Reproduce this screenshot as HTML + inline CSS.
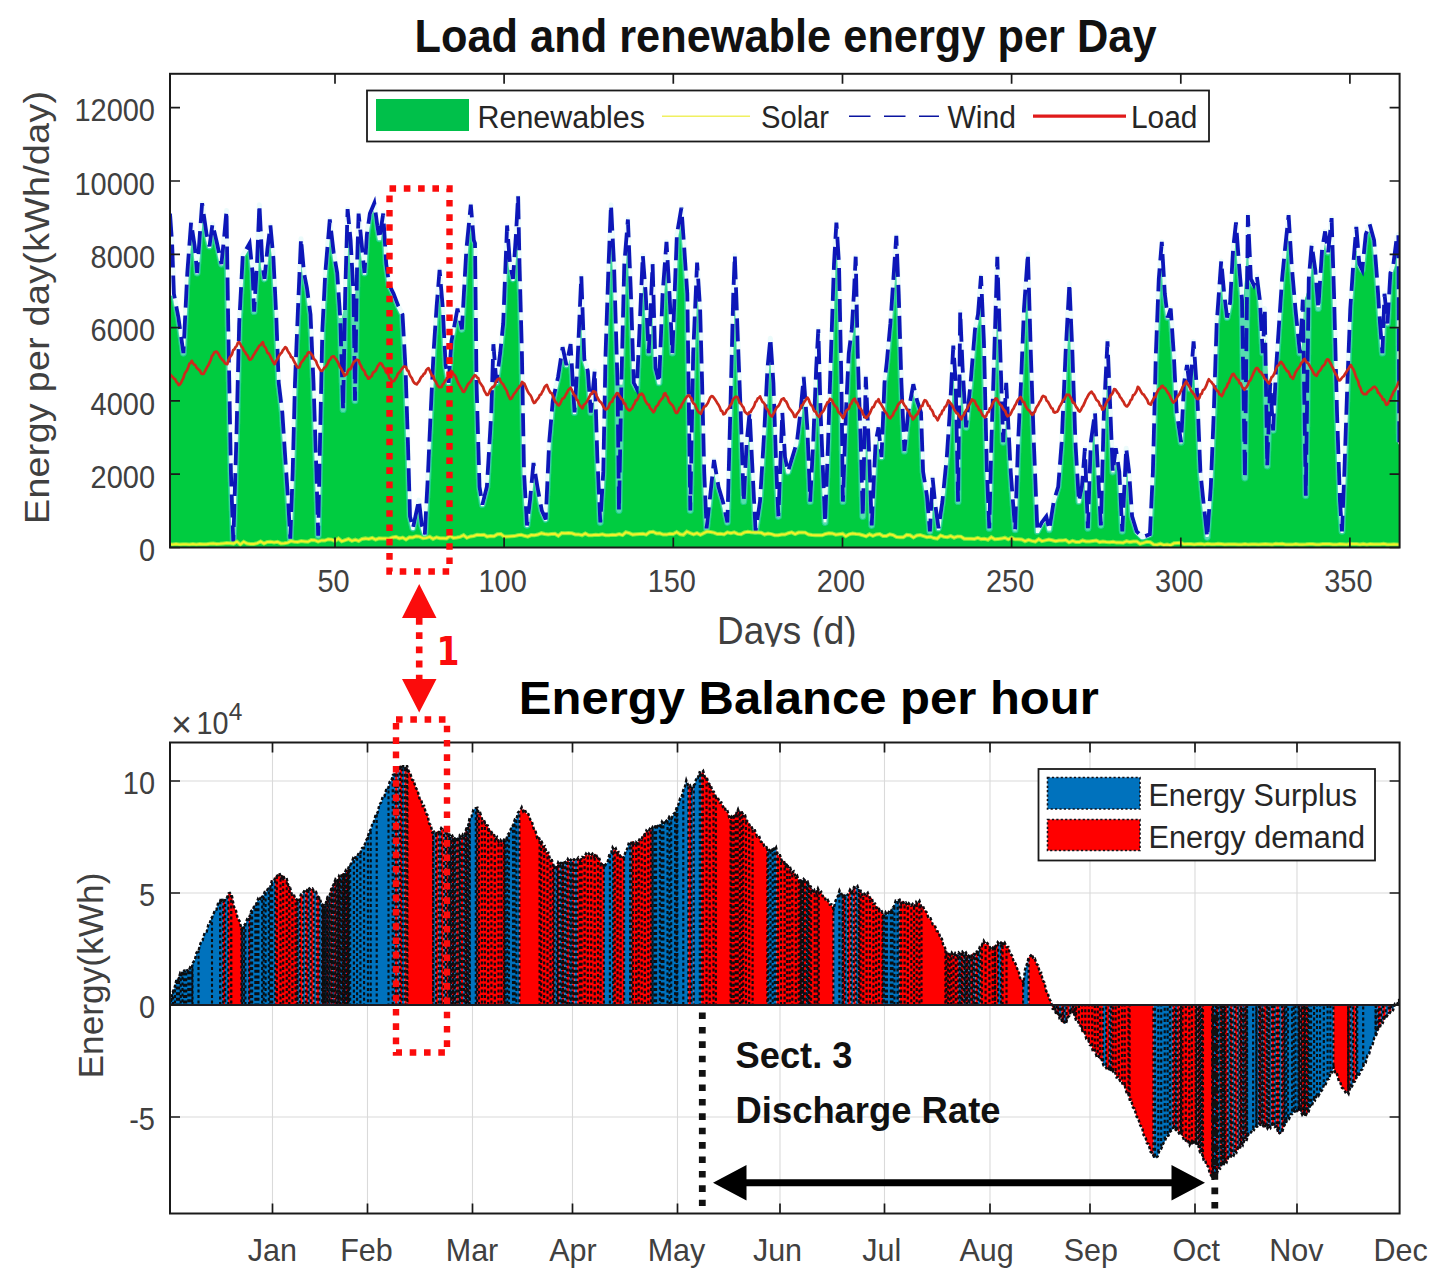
<!DOCTYPE html>
<html lang="en"><head><meta charset="utf-8"><title>Load and renewable energy per Day</title>
<style>html,body{margin:0;padding:0;background:#fff}body{width:1439px;height:1280px;overflow:hidden}svg{display:block}</style>
</head><body>
<svg width="1439" height="1280" viewBox="0 0 1439 1280">
<rect width="1439" height="1280" fill="#fff"/>
<defs><clipPath id="ct"><rect x="170" y="73.8" width="1229.6" height="473.7"/></clipPath>
<clipPath id="cb"><rect x="170" y="742.5" width="1229.6" height="471"/></clipPath>
<clipPath id="cd"><rect x="600" y="600" width="400" height="46.8"/></clipPath>
<filter id="bl" x="0" y="0" width="1" height="1" filterUnits="objectBoundingBox"><feGaussianBlur stdDeviation="0.75"/></filter></defs>
<g clip-path="url(#ct)"><g filter="url(#bl)">
<clipPath id="cg"><polygon points="170,547.5 170,295.8 170.5,295.8 171,295.8 171.5,295.8 172,295.8 172.5,296.3 173,298.9 173.5,301.6 174,304.3 174.5,306.9 175,309.6 175.5,312.3 176,314.9 176.5,317.6 177,320.5 177.5,324 178,327.6 178.5,331.1 179,334.6 179.5,338.1 180,341.7 180.5,345.2 181,348.7 181.5,352.3 182,353.2 182.5,353.2 183,353.2 183.5,353.2 184,353.2 184.5,353.2 185,353.2 185.5,342.9 186,332.5 186.5,322.1 187,311.7 187.5,301.3 188,290.9 188.5,280.6 189,272 189.5,265.4 190,258.9 190.5,252.3 191,245.8 191.5,239.3 192,240.3 192.5,243.7 193,247 193.5,251.7 194,257.4 194.5,263 195,268.6 195.5,274.2 196,274.2 196.5,274.2 197,274.2 197.5,274.2 198,274.2 198.5,274.2 199,269 199.5,262.1 200,255.2 200.5,248.3 201,241.3 201.5,234.4 202,227.5 202.5,220.6 203,221.9 203.5,225.4 204,228.9 204.5,232.4 205,235.9 205.5,238.1 206,240.1 206.5,242.1 207,244.1 207.5,246.1 208,248.1 208.5,248.1 209,248.1 209.5,248.1 210,248.1 210.5,248.1 211,248.1 211.5,244.8 212,241 212.5,237.3 213,234.6 213.5,236.8 214,239 214.5,241.1 215,243.3 215.5,245.5 216,247.8 216.5,250.1 217,252.5 217.5,254.8 218,257.1 218.5,259.5 219,261.8 219.5,264.1 220,265.2 220.5,265.2 221,265.2 221.5,265.2 222,265.2 222.5,265.2 223,265.2 223.5,260.2 224,255.2 224.5,250.2 225,245.2 225.5,246.8 226,278.4 226.5,310.1 227,339.8 227.5,367.6 228,395.3 228.5,423.1 229,450.9 229.5,476.4 230,491.1 230.5,505.8 231,520.5 231.5,535.2 232,536.6 232.5,536.6 233,536.6 233.5,536.6 234,536.6 234.5,536.6 235,536.6 235.5,519.9 236,503.1 236.5,486.4 237,469.6 237.5,452.9 238,434.6 238.5,414.6 239,394.6 239.5,374.6 240,354.6 240.5,334.6 241,320.2 241.5,310.7 242,301.1 242.5,291.5 243,281.9 243.5,272.3 244,262.7 244.5,256.8 245,255.9 245.5,255.1 246,254.2 246.5,253.3 247,252.5 247.5,251.6 248,250.7 248.5,249.8 249,254.1 249.5,259.1 250,264.1 250.5,269.1 251,274.1 251.5,285.7 252,298.7 252.5,311.7 253,311.7 253.5,311.7 254,311.7 254.5,311.7 255,311.7 255.5,311.7 256,306.8 256.5,298.8 257,290.8 257.5,282.8 258,274.8 258.5,266.8 259,254.6 259.5,242.1 260,248.3 260.5,258.3 261,266.9 261.5,270.5 262,274 262.5,277.6 263,280.6 263.5,280.6 264,280.6 264.5,280.6 265,280.6 265.5,280.6 266,280.6 266.5,275.6 267,270.6 267.5,265.6 268,260.6 268.5,255.6 269,250.7 269.5,246.7 270,242.7 270.5,245 271,250.5 271.5,256 272,262.7 272.5,272.7 273,282.7 273.5,292.7 274,302.7 274.5,312.7 275,323.9 275.5,337.6 276,351.4 276.5,365.1 277,378.9 277.5,387.2 278,391.4 278.5,395.5 279,399.7 279.5,403.9 280,408 280.5,412.2 281,417.8 281.5,425.3 282,432.8 282.5,440.3 283,447.8 283.5,455.3 284,462.8 284.5,470.3 285,477.8 285.5,485.3 286,492.8 286.5,500.3 287,508.6 287.5,517.6 288,526.5 288.5,535.4 289,535.4 289.5,535.4 290,535.4 290.5,535.4 291,535.4 291.5,535.4 292,535 292.5,520.9 293,506.9 293.5,492.8 294,478.8 294.5,461.6 295,442.9 295.5,424.1 296,405.4 296.5,386.6 297,373.5 297.5,361 298,348.5 298.5,336 299,323.5 299.5,311 300,299.3 300.5,287.5 301,275.8 301.5,264 302,269.7 302.5,275.2 303,277.7 303.5,280.2 304,282.7 304.5,285.2 305,287.7 305.5,290.4 306,294.1 306.5,297.9 307,301.6 307.5,305.4 308,309.1 308.5,312.9 309,316.8 309.5,328.3 310,339.8 310.5,351.3 311,362.8 311.5,374.3 312,386.2 312.5,401.2 313,416.2 313.5,431.2 314,446.2 314.5,461.2 315,476.6 315.5,494.5 316,512.4 316.5,530.3 317,530.3 317.5,530.3 318,530.3 318.5,530.3 319,530.3 319.5,530.3 320,522.3 320.5,496.1 321,469.8 321.5,443.7 322,419.9 322.5,396.2 323,372.4 323.5,348.7 324,328.8 324.5,319.3 325,309.8 325.5,300.3 326,290.8 326.5,281.3 327,273 327.5,267 328,261 328.5,255 329,249 329.5,243 330,237 330.5,240.3 331,244.5 331.5,248.7 332,253 332.5,256.3 333,259.2 333.5,262.1 334,265 334.5,267.9 335,270.8 335.5,273.8 336,279.3 336.5,286.8 337,294.3 337.5,301.8 338,309.3 338.5,316.8 339,318 339.5,318 340,318 340.5,318 341,318 341.5,318 342,318 342.5,315.7 343,313.3 343.5,310.9 344,308.6 344.5,306.2 345,303.9 345.5,301.5 346,299.2 346.5,296.8 347,286 347.5,268.2 348,250.4 348.5,236.3 349,241.6 349.5,250.1 350,259.1 350.5,268.1 351,277.1 351.5,286.1 352,295.1 352.5,295.1 353,295.1 353.5,295.1 354,295.1 354.5,295.1 355,295.1 355.5,291.9 356,287.8 356.5,283.6 357,279.4 357.5,275.3 358,271.1 358.5,266.9 359,252.5 359.5,239.7 360,244.7 360.5,249.7 361,254.7 361.5,259.7 362,264.7 362.5,269.7 363,274.7 363.5,274.7 364,274.7 364.5,274.7 365,274.7 365.5,274.7 366,274.7 366.5,267.3 367,259.1 367.5,251 368,242.9 368.5,235.7 369,232.2 369.5,228.7 370,225.2 370.5,221.7 371,218.2 371.5,215.3 372,214.1 372.5,213 373,211.8 373.5,210.6 374,214 374.5,217.8 375,221.5 375.5,225.3 376,228.8 376.5,232 377,235.2 377.5,238.5 378,240 378.5,240 379,240 379.5,240 380,240 380.5,240 381,240 381.5,236.7 382,233.5 382.5,230.2 383,237.2 383.5,245.7 384,254.2 384.5,262.7 385,268.2 385.5,271.7 386,275.2 386.5,278.7 387,282.2 387.5,285.7 388,287.5 388.5,288.5 389,289.5 389.5,290.5 390,291.5 390.5,292.5 391,293.5 391.5,294.5 392,295.5 392.5,296.8 393,298.1 393.5,299.4 394,300.8 394.5,302.1 395,303.4 395.5,304.8 396,306.1 396.5,307.4 397,308.5 397.5,309.5 398,310.5 398.5,311.5 399,312.5 399.5,313.5 400,314.5 400.5,315.5 401,316.5 401.5,325 402,334 402.5,343 403,352 403.5,361 404,370 404.5,385.7 405,401.3 405.5,416.9 406,432.5 406.5,448.7 407,466.6 407.5,484.4 408,502.3 408.5,518.6 409,520.6 409.5,522.6 410,524.6 410.5,526.6 411,528.6 411.5,530 412,530 412.5,530 413,530 413.5,530 414,530 414.5,530 415,527.6 415.5,525.2 416,522.8 416.5,520.5 417,518.1 417.5,515.7 418,513.3 418.5,511.8 419,516.1 419.5,520.3 420,524.6 420.5,527.9 421,529.4 421.5,530.9 422,532.4 422.5,533.9 423,535.4 423.5,535.4 424,535.4 424.5,535.4 425,535.4 425.5,535.4 426,535.4 426.5,532.4 427,522.9 427.5,513.4 428,503.9 428.5,494.4 429,484.9 429.5,474.7 430,463.7 430.5,452.7 431,441.7 431.5,430.7 432,419.7 432.5,409 433,398.5 433.5,388 434,377.5 434.5,367 435,356.5 435.5,347.8 436,340.3 436.5,332.8 437,325.3 437.5,317.8 438,310.3 438.5,303.7 439,297.7 439.5,291.7 440,294.3 440.5,300.3 441,306.3 441.5,315.4 442,325.4 442.5,335.4 443,345.4 443.5,355.4 444,365.4 444.5,369.5 445,372.5 445.5,375.5 446,378.5 446.5,381.5 447,384.5 447.5,384.5 448,384.5 448.5,384.5 449,384.5 449.5,384.5 450,384.5 450.5,378.6 451,371.6 451.5,364.6 452,357.6 452.5,350.6 453,343.6 453.5,340.6 454,337.9 454.5,335.1 455,332.4 455.5,329.6 456,326.9 456.5,324.1 457,321.4 457.5,318.6 458,320.1 458.5,322.5 459,324.8 459.5,327.1 460,329.5 460.5,329.8 461,329.8 461.5,329.8 462,329.8 462.5,329.8 463,329.8 463.5,329.8 464,320.8 464.5,311.8 465,302.8 465.5,293.8 466,284.8 466.5,275.8 467,266.8 467.5,257.8 468,249.9 468.5,244.9 469,239.9 469.5,234.9 470,229.9 470.5,224.9 471,226.9 471.5,232.9 472,238.9 472.5,242.8 473,244.1 473.5,245.3 474,292.3 474.5,339.3 475,385.4 475.5,402.9 476,420.4 476.5,437.9 477,455.4 477.5,472.9 478,489 478.5,492 479,495 479.5,498 480,501 480.5,504 481,506.3 481.5,506.3 482,506.3 482.5,506.3 483,506.3 483.5,506.3 484,506.3 484.5,504.3 485,502.3 485.5,500.3 486,498.3 486.5,496.3 487,494.3 487.5,492.3 488,490.3 488.5,486.7 489,478.4 489.5,470 490,461.7 490.5,453.4 491,445 491.5,436.7 492,428.4 492.5,420 493,408.9 493.5,392.5 494,376.1 494.5,379.9 495,383.9 495.5,383.9 496,383.9 496.5,383.9 497,383.9 497.5,383.9 498,383.9 498.5,380.1 499,376.2 499.5,372.4 500,368.5 500.5,364.7 501,360.8 501.5,357 502,352.5 502.5,347.5 503,342.5 503.5,337.5 504,332.5 504.5,327.5 505,318 505.5,305.3 506,292.6 506.5,279.9 507,267.2 507.5,254.5 508,259.1 508.5,265.6 509,268.4 509.5,270.9 510,273.4 510.5,275.9 511,278.4 511.5,280.9 512,280.9 512.5,280.9 513,280.9 513.5,280.9 514,280.9 514.5,280.9 515,273.5 515.5,266 516,258.5 516.5,251 517,243.5 517.5,241.4 518,264.4 518.5,283.4 519,302.2 519.5,320.9 520,339.7 520.5,360.2 521,388.7 521.5,417.3 522,445.9 522.5,474.1 523,483.1 523.5,492.1 524,501.1 524.5,510.1 525,519.1 525.5,527 526,527 526.5,527 527,527 527.5,527 528,527 528.5,527 529,523 529.5,519 530,515 530.5,511 531,507 531.5,502.8 532,497.4 532.5,492 533,486.6 533.5,481.2 534,477.4 534.5,480.4 535,483.5 535.5,486.6 536,489.5 536.5,492.2 537,494.9 537.5,497.5 538,500.2 538.5,502.9 539,505.5 539.5,508.2 540,510.9 540.5,513 541,514.1 541.5,515.3 542,516.4 542.5,517.6 543,518.7 543.5,519.9 544,521 544.5,521 545,521 545.5,521 546,521 546.5,521 547,521 547.5,514.2 548,503.3 548.5,492.5 549,481.7 549.5,470.8 550,460 550.5,449.2 551,441 551.5,435.2 552,429.4 552.5,423.5 553,417.7 553.5,411.9 554,406 554.5,401.7 555,399.5 555.5,397.3 556,395.1 556.5,392.8 557,390.6 557.5,388.4 558,386.2 558.5,383.9 559,381.7 559.5,379.5 560,376.5 560.5,373.1 561,369.8 561.5,366.5 562,363.1 562.5,359.8 563,358 563.5,360.3 564,362.6 564.5,365 565,366.8 565.5,366.8 566,366.8 566.5,366.8 567,366.8 567.5,366.8 568,366.8 568.5,364.3 569,361.8 569.5,359.3 570,362.1 570.5,370.9 571,379.8 571.5,388.6 572,397.4 572.5,406.3 573,414 573.5,414 574,414 574.5,414 575,414 575.5,414 576,414 576.5,406 577,398 577.5,390 578,382 578.5,374 579,365.5 579.5,354 580,342.4 580.5,330.9 581,319.4 581.5,325.7 582,339.7 582.5,353.7 583,361.9 583.5,363.5 584,365.2 584.5,366.9 585,368.5 585.5,370.2 586,371.9 586.5,375.4 587,382.4 587.5,389.4 588,396.4 588.5,403.4 589,410.4 589.5,412.3 590,412.3 590.5,412.3 591,412.3 591.5,412.3 592,412.3 592.5,412.3 593,406.9 593.5,401.6 594,400.2 594.5,416.3 595,432.4 595.5,448.5 596,462.9 596.5,473.9 597,484.9 597.5,495.9 598,506.9 598.5,517.9 599,520.9 599.5,520.9 600,520.9 600.5,520.9 601,520.9 601.5,520.9 602,520.9 602.5,512.4 603,503.9 603.5,495.4 604,486.9 604.5,478.4 605,462.2 605.5,437.2 606,412.2 606.5,387.2 607,362.2 607.5,344.4 608,329.4 608.5,314.4 609,299.4 609.5,284.4 610,269.4 610.5,256.3 611,243.8 611.5,247 612,257 612.5,267.6 613,284.2 613.5,300.9 614,317.6 614.5,334.2 615,350.9 615.5,367.6 616,384.2 616.5,384.8 617,384.8 617.5,384.8 618,384.8 618.5,384.8 619,384.8 619.5,384.8 620,384.8 620.5,384.8 621,384.8 621.5,384.8 622,384.8 622.5,384.8 623,379.9 623.5,359.9 624,339.9 624.5,319.9 625,299.9 625.5,279.9 626,264.2 626.5,257.9 627,251.7 627.5,248.8 628,261.3 628.5,273.8 629,286.3 629.5,299.4 630,314.4 630.5,329.4 631,344.4 631.5,359.4 632,374.4 632.5,385.1 633,386.1 633.5,387.1 634,388.1 634.5,389.1 635,390.1 635.5,390.1 636,390.1 636.5,390.1 637,390.1 637.5,390.1 638,390.1 638.5,386.8 639,375.8 639.5,364.8 640,353.8 640.5,342.8 641,331.8 641.5,320.5 642,309 642.5,297.5 643,286 643.5,286.3 644,292.8 644.5,301.3 645,311.3 645.5,321.3 646,331.3 646.5,341.3 647,351.3 647.5,351.3 648,351.3 648.5,351.3 649,351.3 649.5,351.3 650,351.3 650.5,348.1 651,336.5 651.5,325 652,313.5 652.5,316.7 653,334.2 653.5,351.7 654,369.2 654.5,372 655,374.1 655.5,376.1 656,378.2 656.5,380.3 657,382.4 657.5,384.5 658,384.5 658.5,384.5 659,384.5 659.5,384.5 660,384.5 660.5,384.5 661,374.5 661.5,362 662,349.5 662.5,337 663,324.5 663.5,312 664,299.5 664.5,291 665,284.3 665.5,277.6 666,270.8 666.5,269.9 667,278.7 667.5,287.4 668,296.2 668.5,306.2 669,316.2 669.5,326.2 670,336.2 670.5,346.2 671,353.7 671.5,353.7 672,353.7 672.5,353.7 673,353.7 673.5,353.7 674,353.7 674.5,340.4 675,327.1 675.5,313.7 676,300.4 676.5,287.1 677,273.7 677.5,260.4 678,247.1 678.5,235.8 679,232.8 679.5,229.8 680,226.8 680.5,223.8 681,225.7 681.5,232.7 682,239.7 682.5,246.7 683,253.9 683.5,261.4 684,268.9 684.5,276.4 685,283.9 685.5,291.4 686,310.9 686.5,347.4 687,383.9 687.5,420.4 688,456.9 688.5,493.4 689,499.9 689.5,499.9 690,499.9 690.5,499.9 691,499.9 691.5,499.9 692,499.9 692.5,473.4 693,446.9 693.5,420.4 694,393.9 694.5,367.4 695,348.8 695.5,337.1 696,325.4 696.5,313.6 697,301.9 697.5,294.2 698,301.9 698.5,309.7 699,326.3 699.5,344.2 700,362.1 700.5,379.9 701,400.4 701.5,421.8 702,443.2 702.5,464.6 703,480.7 703.5,492.5 704,504.4 704.5,516.3 705,528.2 705.5,528.2 706,528.2 706.5,528.2 707,528.2 707.5,528.2 708,528.2 708.5,526.6 709,522.1 709.5,517.6 710,513.1 710.5,508.6 711,504.1 711.5,499.5 712,494.8 712.5,490.2 713,485.5 713.5,480.8 714,476.2 714.5,474 715,477 715.5,480 716,483 716.5,486 717,488.9 717.5,490.5 718,492.2 718.5,493.9 719,495.5 719.5,497.2 720,498.9 720.5,500.5 721,502.2 721.5,504 722,506.3 722.5,508.6 723,511 723.5,513.3 724,515.6 724.5,518 725,520.3 725.5,522.6 726,522.6 726.5,522.6 727,522.6 727.5,522.6 728,522.6 728.5,522.6 729,519.8 729.5,501.3 730,482.8 730.5,464.3 731,445.8 731.5,427.3 732,408.3 732.5,388.3 733,368.3 733.5,348.3 734,328.3 734.5,308.3 735,304.8 735.5,318.8 736,332.8 736.5,346.1 737,358.6 737.5,371.1 738,383.6 738.5,396.1 739,408.6 739.5,422.4 740,437.4 740.5,452.4 741,467.4 741.5,482.4 742,497.4 742.5,497.7 743,497.7 743.5,497.7 744,497.7 744.5,497.7 745,497.7 745.5,497.7 746,487.7 746.5,477.7 747,467.7 747.5,457.7 748,447.7 748.5,441 749,436 749.5,441.7 750,451.7 750.5,461.7 751,471.7 751.5,481.7 752,491.7 752.5,501.7 753,511.7 753.5,521.7 754,531.7 754.5,531.7 755,531.7 755.5,531.7 756,531.7 756.5,531.7 757,531.7 757.5,530.5 758,527.2 758.5,523.8 759,520.5 759.5,517.2 760,513.8 760.5,510.5 761,507.2 761.5,503.8 762,495.9 762.5,487.5 763,479.2 763.5,470.9 764,462.5 764.5,454.2 765,445.9 765.5,437.5 766,429.2 766.5,419.2 767,409.2 767.5,399.2 768,389.2 768.5,379.2 769,369.6 769.5,364.6 770,359.6 770.5,363.9 771,371.4 771.5,378.9 772,387.9 772.5,402.9 773,417.9 773.5,432.9 774,447.9 774.5,462.9 775,476.8 775.5,487.5 776,498.2 776.5,508.9 777,516.9 777.5,516.9 778,516.9 778.5,516.9 779,516.9 779.5,516.9 780,516.9 780.5,503.5 781,490 781.5,476.6 782,463.1 782.5,449.6 783,450.8 783.5,459.1 784,461.6 784.5,464.1 785,466.6 785.5,469.1 786,471.6 786.5,473.8 787,473.8 787.5,473.8 788,473.8 788.5,473.8 789,473.8 789.5,473.8 790,472.1 790.5,470.5 791,468.8 791.5,467.1 792,465.5 792.5,463.8 793,462.1 793.5,460.5 794,458.8 794.5,457.1 795,455.5 795.5,453.8 796,452.1 796.5,450.5 797,448.8 797.5,447.1 798,445.5 798.5,443.2 799,439 799.5,434.9 800,430.7 800.5,426.5 801,422.4 801.5,418.2 802,413.9 802.5,408.4 803,403 803.5,397.5 804,404.3 804.5,411.4 805,418.5 805.5,425.6 806,435.2 806.5,447.7 807,460.2 807.5,472.7 808,485.2 808.5,497.7 809,498.4 809.5,498.4 810,498.4 810.5,498.4 811,498.4 811.5,498.4 812,498.4 812.5,488.4 813,478.4 813.5,468.4 814,458.4 814.5,448.4 815,436.9 815.5,424.4 816,411.9 816.5,399.4 817,386.9 817.5,374.4 818,375 818.5,392.5 819,410 819.5,423.8 820,436.3 820.5,448.8 821,461.3 821.5,473.8 822,485.9 822.5,498.1 823,510.2 823.5,522.4 824,522.4 824.5,522.4 825,522.4 825.5,522.4 826,522.4 826.5,522.4 827,513.1 827.5,499.6 828,486.1 828.5,472.6 829,459.1 829.5,445.6 830,430.8 830.5,415.8 831,400.8 831.5,385.8 832,370.8 832.5,355.8 833,340.8 833.5,325.8 834,310.8 834.5,295.8 835,280.8 835.5,265.9 836,257.2 836.5,249.9 837,257.7 837.5,265.5 838,289.2 838.5,314.2 839,339.2 839.5,364.2 840,391.8 840.5,431.8 841,471.8 841.5,500.5 842,500.5 842.5,500.5 843,500.5 843.5,500.5 844,500.5 844.5,500.5 845,485.5 845.5,470.5 846,455.5 846.5,440.5 847,425.5 847.5,411.9 848,401.9 848.5,391.9 849,381.9 849.5,371.9 850,361.9 850.5,353.8 851,349.8 851.5,345.8 852,341.8 852.5,337.8 853,333.8 853.5,328.1 854,319.5 854.5,310.9 855,302.3 855.5,320.6 856,343.8 856.5,362.8 857,377.8 857.5,392.8 858,407.8 858.5,422.8 859,437.8 859.5,454.5 860,472.3 860.5,490.2 861,508.1 861.5,508.6 862,508.6 862.5,508.6 863,508.6 863.5,508.6 864,508.6 864.5,508.6 865,485.1 865.5,461.6 866,438.1 866.5,428.2 867,439.2 867.5,451.8 868,465.8 868.5,479.8 869,493.8 869.5,507.8 870,521.8 870.5,521.8 871,521.8 871.5,521.8 872,521.8 872.5,521.8 873,521.8 873.5,520.9 874,510.1 874.5,499.3 875,488.6 875.5,477.8 876,467 876.5,456.2 877,445.5 877.5,442 878,439.5 878.5,444.1 879,449.1 879.5,454.1 880,459 880.5,459 881,459 881.5,459 882,459 882.5,459 883,459 883.5,446.5 884,434 884.5,421.5 885,409 885.5,396.5 886,384.5 886.5,380.2 887,375.8 887.5,371.4 888,367 888.5,362.3 889,356.9 889.5,351.5 890,346.1 890.5,340.7 891,335.2 891.5,329.8 892,324 892.5,316.5 893,309 893.5,301.5 894,294 894.5,286.5 895,279.1 895.5,271.8 896,266.1 896.5,278.3 897,290.5 897.5,305.2 898,321.9 898.5,338.5 899,355.2 899.5,371.9 900,387.4 900.5,398.9 901,410.4 901.5,421.9 902,433.4 902.5,444.9 903,451.7 903.5,451.7 904,451.7 904.5,451.7 905,451.7 905.5,451.7 906,451.7 906.5,446.7 907,441.7 907.5,436.7 908,431.7 908.5,426.7 909,421.7 909.5,416.7 910,413 910.5,410.2 911,407.4 911.5,404.6 912,401.8 912.5,399 913,396.2 913.5,393.7 914,395.8 914.5,397.9 915,400 915.5,402.1 916,403.8 916.5,405.3 917,406.9 917.5,408.4 918,410 918.5,411.5 919,413 919.5,414.9 920,429.2 920.5,443.5 921,457.8 921.5,472.1 922,476.6 922.5,479.7 923,482.7 923.5,485.8 924,488.9 924.5,492 925,495.1 925.5,498.6 926,504.6 926.5,510.6 927,516.6 927.5,522.6 928,528.6 928.5,531.2 929,531.2 929.5,531.2 930,531.2 930.5,531.2 931,531.2 931.5,531.2 932,521.2 932.5,511.2 933,501.2 933.5,504 934,507.8 934.5,511.5 935,515.3 935.5,519 936,522.8 936.5,526.5 937,530.3 937.5,530.3 938,530.3 938.5,530.3 939,530.3 939.5,530.3 940,530.3 940.5,526.9 941,523.4 941.5,520 942,516.5 942.5,513 943,509.6 943.5,506.1 944,502.2 944.5,497.2 945,492.2 945.5,487.2 946,482.2 946.5,477.2 947,472.2 947.5,467.2 948,462.2 948.5,456.3 949,448.8 949.5,441.3 950,433.8 950.5,426.3 951,418.8 951.5,410.5 952,401.1 952.5,391.8 953,382.4 953.5,373.5 954,381.3 954.5,398.6 955,423.6 955.5,448.6 956,473.6 956.5,498.6 957,498.6 957.5,498.6 958,498.6 958.5,498.6 959,498.6 959.5,498.6 960,467 960.5,421.3 961,375.6 961.5,377.4 962,385.8 962.5,394.1 963,402.4 963.5,410.8 964,419.1 964.5,427.4 965,427.4 965.5,427.4 966,427.4 966.5,427.4 967,427.4 967.5,427.4 968,425.5 968.5,420.5 969,415.5 969.5,410.5 970,405.5 970.5,400.5 971,395.5 971.5,390.5 972,385.5 972.5,379.7 973,373.7 973.5,367.7 974,361.7 974.5,355.7 975,349.7 975.5,343.7 976,337.7 976.5,331.7 977,329 977.5,326.5 978,324 978.5,321.5 979,319 979.5,316.5 980,310 980.5,303.5 981,311.8 981.5,322.8 982,333.8 982.5,346.3 983,368.3 983.5,390.3 984,412.3 984.5,434.3 985,456.3 985.5,476.3 986,488.2 986.5,500 987,511.9 987.5,523.8 988,523.8 988.5,523.8 989,523.8 989.5,523.8 990,523.8 990.5,523.8 991,521 991.5,500.3 992,479.6 992.5,458.9 993,439.8 993.5,424.8 994,409.8 994.5,394.8 995,379.8 995.5,364.8 996,349.4 996.5,333.1 997,316.9 997.5,314.2 998,330.4 998.5,346.7 999,362.3 999.5,377.3 1000,392.3 1000.5,407.3 1001,422.3 1001.5,437.3 1002,438.8 1002.5,438.8 1003,438.8 1003.5,438.8 1004,438.8 1004.5,438.8 1005,438.8 1005.5,428.8 1006,418.8 1006.5,420.8 1007,430.8 1007.5,440.8 1008,450.8 1008.5,460.8 1009,470.8 1009.5,478.4 1010,484.9 1010.5,491.4 1011,497.9 1011.5,504.4 1012,510.9 1012.5,517.4 1013,523.9 1013.5,530.4 1014,530.4 1014.5,530.4 1015,530.4 1015.5,530.4 1016,530.4 1016.5,530.4 1017,520.2 1017.5,505.5 1018,490.7 1018.5,476 1019,461.2 1019.5,446.5 1020,435.7 1020.5,425.7 1021,415.7 1021.5,405.7 1022,395.7 1022.5,385.7 1023,373.5 1023.5,361 1024,348.5 1024.5,336 1025,323.5 1025.5,311 1026,303.7 1026.5,296.6 1027,289.5 1027.5,293.4 1028,310.1 1028.5,326.9 1029,343.6 1029.5,359.9 1030,374.9 1030.5,389.9 1031,404.9 1031.5,419.9 1032,434.9 1032.5,448.9 1033,461.4 1033.5,473.9 1034,486.4 1034.5,498.9 1035,511.4 1035.5,523.9 1036,533 1036.5,533 1037,533 1037.5,533 1038,533 1038.5,533 1039,533 1039.5,532 1040,531 1040.5,530 1041,529 1041.5,528 1042,527 1042.5,526 1043,525 1043.5,524.2 1044,523.5 1044.5,522.8 1045,522.2 1045.5,521.7 1046,523.9 1046.5,526.2 1047,528.4 1047.5,530.7 1048,530.7 1048.5,530.7 1049,530.7 1049.5,530.7 1050,530.7 1050.5,530.7 1051,530.2 1051.5,527.1 1052,523.9 1052.5,520.7 1053,517.6 1053.5,514.4 1054,511.2 1054.5,508.1 1055,504.9 1055.5,502.6 1056,501 1056.5,499.3 1057,497.6 1057.5,496 1058,494.3 1058.5,492.6 1059,491 1059.5,489.3 1060,484.5 1060.5,478.2 1061,472 1061.5,465.7 1062,459.5 1062.5,453.2 1063,447 1063.5,437.8 1064,426.3 1064.5,414.7 1065,403.2 1065.5,391.7 1066,380.1 1066.5,368.6 1067,357 1067.5,347.6 1068,338.6 1068.5,329.5 1069,320.5 1069.5,322 1070,333.7 1070.5,345.5 1071,357.8 1071.5,372.8 1072,387.8 1072.5,402.8 1073,417.8 1073.5,432.8 1074,446.2 1074.5,454.6 1075,462.9 1075.5,471.2 1076,479.6 1076.5,487.9 1077,496.2 1077.5,503.3 1078,503.3 1078.5,503.3 1079,503.3 1079.5,503.3 1080,503.3 1080.5,503.3 1081,500.8 1081.5,498.3 1082,495.8 1082.5,493.3 1083,490.8 1083.5,487.6 1084,481.1 1084.5,480.4 1085,493.9 1085.5,507.4 1086,520.9 1086.5,526 1087,526 1087.5,526 1088,526 1088.5,526 1089,526 1089.5,526 1090,511.5 1090.5,497 1091,482.5 1091.5,468 1092,453.5 1092.5,442.9 1093,439.4 1093.5,435.8 1094,432.3 1094.5,434.5 1095,444.5 1095.5,454.5 1096,464.5 1096.5,474.5 1097,483.5 1097.5,492.5 1098,501.5 1098.5,510.5 1099,519.5 1099.5,525 1100,525 1100.5,525 1101,525 1101.5,525 1102,525 1102.5,525 1103,506 1103.5,487 1104,468 1104.5,449 1105,430 1105.5,412.7 1106,402.7 1106.5,392.7 1107,382.7 1107.5,380 1108,392 1108.5,404 1109,416 1109.5,428.5 1110,441 1110.5,453.5 1111,466 1111.5,472.4 1112,472.4 1112.5,472.4 1113,472.4 1113.5,472.4 1114,472.4 1114.5,472.4 1115,468.4 1115.5,464.4 1116,461.6 1116.5,464.9 1117,468.3 1117.5,471.6 1118,477 1118.5,487 1119,497 1119.5,507 1120,517 1120.5,527 1121,529.3 1121.5,529.3 1122,529.3 1122.5,529.3 1123,529.3 1123.5,529.3 1124,529.3 1124.5,518.6 1125,507.8 1125.5,497 1126,486.3 1126.5,475.5 1127,468.8 1127.5,472.8 1128,479.2 1128.5,486.7 1129,494.2 1129.5,501.7 1130,509.2 1130.5,516.7 1131,519.7 1131.5,521.4 1132,523.1 1132.5,524.7 1133,526.4 1133.5,528.1 1134,529.7 1134.5,531.4 1135,533.1 1135.5,533.7 1136,534.2 1136.5,534.7 1137,535.2 1137.5,535.7 1138,536.2 1138.5,536.7 1139,537.2 1139.5,537.7 1140,538.2 1140.5,538.7 1141,539.2 1141.5,539.2 1142,539.2 1142.5,539.2 1143,539.2 1143.5,539.2 1144,539.2 1144.5,539 1145,538.8 1145.5,538.6 1146,538.4 1146.5,538.2 1147,538 1147.5,537.8 1148,537.6 1148.5,537.4 1149,537.2 1149.5,537 1150,536.8 1150.5,536.6 1151,536.4 1151.5,534.8 1152,524.3 1152.5,513.8 1153,503.3 1153.5,492.8 1154,482.3 1154.5,469.8 1155,449.8 1155.5,429.8 1156,409.8 1156.5,389.8 1157,369.8 1157.5,351.8 1158,339.3 1158.5,326.8 1159,314.3 1159.5,301.8 1160,289.3 1160.5,278.9 1161,272.6 1161.5,266.4 1162,273.5 1162.5,282.2 1163,291 1163.5,297.6 1164,301.6 1164.5,305.6 1165,309.6 1165.5,313.6 1166,317.6 1166.5,318.7 1167,318.7 1167.5,318.7 1168,318.7 1168.5,318.7 1169,318.7 1169.5,318.7 1170,322.4 1170.5,329.9 1171,337.4 1171.5,344.9 1172,352.4 1172.5,361.5 1173,371.5 1173.5,381.5 1174,391.5 1174.5,401.5 1175,411.5 1175.5,416.9 1176,420.2 1176.5,423.5 1177,426.9 1177.5,430.2 1178,433.5 1178.5,436.9 1179,440.2 1179.5,443.5 1180,443.5 1180.5,443.5 1181,443.5 1181.5,443.5 1182,443.5 1182.5,443.5 1183,436.3 1183.5,426.3 1184,416.3 1184.5,406.3 1185,396.3 1185.5,386.3 1186,382.3 1186.5,379.3 1187,378.7 1187.5,382.7 1188,386.7 1188.5,390.7 1189,390.7 1189.5,390.7 1190,390.7 1190.5,390.7 1191,390.7 1191.5,390.7 1192,384.3 1192.5,377.6 1193,370.9 1193.5,364.3 1194,371.4 1194.5,378.7 1195,386 1195.5,393.3 1196,401.3 1196.5,413.8 1197,426.3 1197.5,438.8 1198,451.3 1198.5,463.8 1199,474.9 1199.5,479.9 1200,484.9 1200.5,489.9 1201,494.9 1201.5,499.9 1202,504.8 1202.5,509.4 1203,514 1203.5,518.6 1204,523.2 1204.5,527.9 1205,532.5 1205.5,537.1 1206,537.1 1206.5,537.1 1207,537.1 1207.5,537.1 1208,537.1 1208.5,537.1 1209,535.4 1209.5,528.4 1210,521.3 1210.5,514.2 1211,507.1 1211.5,500 1212,492.9 1212.5,483.7 1213,471.2 1213.5,458.7 1214,446.2 1214.5,433.7 1215,421.2 1215.5,407.5 1216,392.5 1216.5,377.5 1217,362.5 1217.5,347.5 1218,332.5 1218.5,321.7 1219,314.7 1219.5,307.7 1220,300.7 1220.5,293.7 1221,286.7 1221.5,283 1222,288.5 1222.5,294 1223,298.5 1223.5,302.5 1224,306.5 1224.5,310.5 1225,314.5 1225.5,318.5 1226,318.5 1226.5,318.5 1227,318.5 1227.5,318.5 1228,318.5 1228.5,318.5 1229,317.6 1229.5,315.1 1230,312.6 1230.5,310.1 1231,307.6 1231.5,305.1 1232,297.4 1232.5,288.4 1233,279.4 1233.5,270.4 1234,261.4 1234.5,252.4 1235,247.3 1235.5,242.8 1236,245 1236.5,252 1237,259 1237.5,266 1238,272 1238.5,278 1239,284 1239.5,290 1240,296 1240.5,301.3 1241,301.3 1241.5,301.3 1242,301.3 1242.5,301.3 1243,301.3 1243.5,301.3 1244,294.2 1244.5,287 1245,279.9 1245.5,272.8 1246,265.7 1246.5,258.5 1247,251.4 1247.5,244.3 1248,251.3 1248.5,262 1249,272.8 1249.5,281.2 1250,282.2 1250.5,283.2 1251,284.2 1251.5,285.2 1252,286.2 1252.5,286.4 1253,286.4 1253.5,286.4 1254,286.4 1254.5,286.4 1255,286.4 1255.5,286.4 1256,284.9 1256.5,287.4 1257,291.4 1257.5,295.4 1258,299.4 1258.5,305.6 1259,314.6 1259.5,323.6 1260,332.6 1260.5,341.6 1261,350.6 1261.5,350.6 1262,350.6 1262.5,350.6 1263,350.6 1263.5,350.6 1264,350.6 1264.5,349.9 1265,339.2 1265.5,340.7 1266,347.6 1266.5,354.6 1267,361.5 1267.5,368.5 1268,375.4 1268.5,382.4 1269,390 1269.5,398 1270,406 1270.5,414 1271,422 1271.5,430 1272,430 1272.5,430 1273,430 1273.5,430 1274,430 1274.5,430 1275,424.9 1275.5,414.4 1276,403.9 1276.5,393.4 1277,382.9 1277.5,372.4 1278,364.2 1278.5,356.7 1279,349.2 1279.5,341.7 1280,334.2 1280.5,326.7 1281,319.2 1281.5,311.7 1282,304.2 1282.5,296.7 1283,289.2 1283.5,281.7 1284,276.5 1284.5,271.5 1285,266.5 1285.5,261.5 1286,256.5 1286.5,251.5 1287,246.7 1287.5,241.9 1288,237.1 1288.5,240.4 1289,248.7 1289.5,256.9 1290,265.2 1290.5,271.2 1291,277 1291.5,282.7 1292,288.5 1292.5,294.3 1293,300 1293.5,305.8 1294,311.5 1294.5,316.5 1295,321.5 1295.5,326.5 1296,331.5 1296.5,336.5 1297,341.5 1297.5,346.5 1298,351.5 1298.5,352.8 1299,352.8 1299.5,352.8 1300,352.8 1300.5,352.8 1301,352.8 1301.5,352.8 1302,343.8 1302.5,334.8 1303,325.8 1303.5,316.8 1304,307.8 1304.5,301.1 1305,299.4 1305.5,297.6 1306,295.9 1306.5,294.1 1307,292.4 1307.5,290.6 1308,288.9 1308.5,287.1 1309,285.4 1309.5,283.6 1310,281.9 1310.5,278.4 1311,272.6 1311.5,266.9 1312,261.1 1312.5,262.7 1313,266.3 1313.5,269.8 1314,274.5 1314.5,281 1315,287.5 1315.5,294 1316,300.5 1316.5,307 1317,307.2 1317.5,307.2 1318,307.2 1318.5,307.2 1319,307.2 1319.5,307.2 1320,307.2 1320.5,299.5 1321,291.8 1321.5,284.1 1322,276.4 1322.5,268.7 1323,261 1323.5,253.3 1324,249.1 1324.5,246.1 1325,243.2 1325.5,246.7 1326,250.2 1326.5,253.7 1327,253.7 1327.5,253.7 1328,253.7 1328.5,253.7 1329,253.7 1329.5,253.7 1330,250.1 1330.5,245.3 1331,247.5 1331.5,263.4 1332,279.4 1332.5,295.3 1333,315.2 1333.5,335.2 1334,355.2 1334.5,375.2 1335,395.2 1335.5,415 1336,430 1336.5,445 1337,460 1337.5,475 1338,490 1338.5,504.3 1339,511.4 1339.5,518.6 1340,525.7 1340.5,532.9 1341,532.9 1341.5,532.9 1342,532.9 1342.5,532.9 1343,532.9 1343.5,532.9 1344,521.6 1344.5,509.1 1345,496.6 1345.5,484.1 1346,471.1 1346.5,456.1 1347,441.1 1347.5,426.1 1348,411.1 1348.5,396.1 1349,381.7 1349.5,369.2 1350,356.7 1350.5,344.2 1351,331.7 1351.5,319.2 1352,308.3 1352.5,300.8 1353,293.3 1353.5,285.8 1354,278.3 1354.5,270.8 1355,263.7 1355.5,257.5 1356,251.2 1356.5,250.4 1357,256.7 1357.5,262.9 1358,266.6 1358.5,267.6 1359,268.6 1359.5,269.6 1360,270.6 1360.5,271.6 1361,271.6 1361.5,271.6 1362,271.6 1362.5,271.6 1363,271.6 1363.5,271.6 1364,269.2 1364.5,264.2 1365,259.2 1365.5,254.2 1366,249.2 1366.5,244.2 1367,239.2 1367.5,235.8 1368,234.5 1368.5,233.1 1369,231.8 1369.5,231 1370,232.8 1370.5,234.6 1371,236.5 1371.5,238.3 1372,240.1 1372.5,242 1373,247.6 1373.5,254.1 1374,260.6 1374.5,267.1 1375,273.6 1375.5,280.1 1376,287.4 1376.5,294.9 1377,302.4 1377.5,309.9 1378,317.4 1378.5,324.9 1379,331.3 1379.5,337.5 1380,343.8 1380.5,350 1381,352.6 1381.5,352.6 1382,352.6 1382.5,352.6 1383,352.6 1383.5,352.6 1384,352.6 1384.5,338.3 1385,324 1385.5,320.9 1386,324.7 1386.5,324.7 1387,324.7 1387.5,324.7 1388,324.7 1388.5,324.7 1389,324.7 1389.5,316.2 1390,307.7 1390.5,299.2 1391,290.7 1391.5,282.2 1392,274.8 1392.5,273.3 1393,271.8 1393.5,270.3 1394,268.8 1394.5,267.3 1395,265.2 1395.5,261.2 1396,257.2 1396.5,253.2 1397,249.4 1397.5,366.1 1398,444.2 1398.5,444.2 1399,444.2 1399.5,444.2 1399.5,547.5"/></clipPath>
<polygon points="170,547.5 170,295.8 170.5,295.8 171,295.8 171.5,295.8 172,295.8 172.5,296.3 173,298.9 173.5,301.6 174,304.3 174.5,306.9 175,309.6 175.5,312.3 176,314.9 176.5,317.6 177,320.5 177.5,324 178,327.6 178.5,331.1 179,334.6 179.5,338.1 180,341.7 180.5,345.2 181,348.7 181.5,352.3 182,353.2 182.5,353.2 183,353.2 183.5,353.2 184,353.2 184.5,353.2 185,353.2 185.5,342.9 186,332.5 186.5,322.1 187,311.7 187.5,301.3 188,290.9 188.5,280.6 189,272 189.5,265.4 190,258.9 190.5,252.3 191,245.8 191.5,239.3 192,240.3 192.5,243.7 193,247 193.5,251.7 194,257.4 194.5,263 195,268.6 195.5,274.2 196,274.2 196.5,274.2 197,274.2 197.5,274.2 198,274.2 198.5,274.2 199,269 199.5,262.1 200,255.2 200.5,248.3 201,241.3 201.5,234.4 202,227.5 202.5,220.6 203,221.9 203.5,225.4 204,228.9 204.5,232.4 205,235.9 205.5,238.1 206,240.1 206.5,242.1 207,244.1 207.5,246.1 208,248.1 208.5,248.1 209,248.1 209.5,248.1 210,248.1 210.5,248.1 211,248.1 211.5,244.8 212,241 212.5,237.3 213,234.6 213.5,236.8 214,239 214.5,241.1 215,243.3 215.5,245.5 216,247.8 216.5,250.1 217,252.5 217.5,254.8 218,257.1 218.5,259.5 219,261.8 219.5,264.1 220,265.2 220.5,265.2 221,265.2 221.5,265.2 222,265.2 222.5,265.2 223,265.2 223.5,260.2 224,255.2 224.5,250.2 225,245.2 225.5,246.8 226,278.4 226.5,310.1 227,339.8 227.5,367.6 228,395.3 228.5,423.1 229,450.9 229.5,476.4 230,491.1 230.5,505.8 231,520.5 231.5,535.2 232,536.6 232.5,536.6 233,536.6 233.5,536.6 234,536.6 234.5,536.6 235,536.6 235.5,519.9 236,503.1 236.5,486.4 237,469.6 237.5,452.9 238,434.6 238.5,414.6 239,394.6 239.5,374.6 240,354.6 240.5,334.6 241,320.2 241.5,310.7 242,301.1 242.5,291.5 243,281.9 243.5,272.3 244,262.7 244.5,256.8 245,255.9 245.5,255.1 246,254.2 246.5,253.3 247,252.5 247.5,251.6 248,250.7 248.5,249.8 249,254.1 249.5,259.1 250,264.1 250.5,269.1 251,274.1 251.5,285.7 252,298.7 252.5,311.7 253,311.7 253.5,311.7 254,311.7 254.5,311.7 255,311.7 255.5,311.7 256,306.8 256.5,298.8 257,290.8 257.5,282.8 258,274.8 258.5,266.8 259,254.6 259.5,242.1 260,248.3 260.5,258.3 261,266.9 261.5,270.5 262,274 262.5,277.6 263,280.6 263.5,280.6 264,280.6 264.5,280.6 265,280.6 265.5,280.6 266,280.6 266.5,275.6 267,270.6 267.5,265.6 268,260.6 268.5,255.6 269,250.7 269.5,246.7 270,242.7 270.5,245 271,250.5 271.5,256 272,262.7 272.5,272.7 273,282.7 273.5,292.7 274,302.7 274.5,312.7 275,323.9 275.5,337.6 276,351.4 276.5,365.1 277,378.9 277.5,387.2 278,391.4 278.5,395.5 279,399.7 279.5,403.9 280,408 280.5,412.2 281,417.8 281.5,425.3 282,432.8 282.5,440.3 283,447.8 283.5,455.3 284,462.8 284.5,470.3 285,477.8 285.5,485.3 286,492.8 286.5,500.3 287,508.6 287.5,517.6 288,526.5 288.5,535.4 289,535.4 289.5,535.4 290,535.4 290.5,535.4 291,535.4 291.5,535.4 292,535 292.5,520.9 293,506.9 293.5,492.8 294,478.8 294.5,461.6 295,442.9 295.5,424.1 296,405.4 296.5,386.6 297,373.5 297.5,361 298,348.5 298.5,336 299,323.5 299.5,311 300,299.3 300.5,287.5 301,275.8 301.5,264 302,269.7 302.5,275.2 303,277.7 303.5,280.2 304,282.7 304.5,285.2 305,287.7 305.5,290.4 306,294.1 306.5,297.9 307,301.6 307.5,305.4 308,309.1 308.5,312.9 309,316.8 309.5,328.3 310,339.8 310.5,351.3 311,362.8 311.5,374.3 312,386.2 312.5,401.2 313,416.2 313.5,431.2 314,446.2 314.5,461.2 315,476.6 315.5,494.5 316,512.4 316.5,530.3 317,530.3 317.5,530.3 318,530.3 318.5,530.3 319,530.3 319.5,530.3 320,522.3 320.5,496.1 321,469.8 321.5,443.7 322,419.9 322.5,396.2 323,372.4 323.5,348.7 324,328.8 324.5,319.3 325,309.8 325.5,300.3 326,290.8 326.5,281.3 327,273 327.5,267 328,261 328.5,255 329,249 329.5,243 330,237 330.5,240.3 331,244.5 331.5,248.7 332,253 332.5,256.3 333,259.2 333.5,262.1 334,265 334.5,267.9 335,270.8 335.5,273.8 336,279.3 336.5,286.8 337,294.3 337.5,301.8 338,309.3 338.5,316.8 339,318 339.5,318 340,318 340.5,318 341,318 341.5,318 342,318 342.5,315.7 343,313.3 343.5,310.9 344,308.6 344.5,306.2 345,303.9 345.5,301.5 346,299.2 346.5,296.8 347,286 347.5,268.2 348,250.4 348.5,236.3 349,241.6 349.5,250.1 350,259.1 350.5,268.1 351,277.1 351.5,286.1 352,295.1 352.5,295.1 353,295.1 353.5,295.1 354,295.1 354.5,295.1 355,295.1 355.5,291.9 356,287.8 356.5,283.6 357,279.4 357.5,275.3 358,271.1 358.5,266.9 359,252.5 359.5,239.7 360,244.7 360.5,249.7 361,254.7 361.5,259.7 362,264.7 362.5,269.7 363,274.7 363.5,274.7 364,274.7 364.5,274.7 365,274.7 365.5,274.7 366,274.7 366.5,267.3 367,259.1 367.5,251 368,242.9 368.5,235.7 369,232.2 369.5,228.7 370,225.2 370.5,221.7 371,218.2 371.5,215.3 372,214.1 372.5,213 373,211.8 373.5,210.6 374,214 374.5,217.8 375,221.5 375.5,225.3 376,228.8 376.5,232 377,235.2 377.5,238.5 378,240 378.5,240 379,240 379.5,240 380,240 380.5,240 381,240 381.5,236.7 382,233.5 382.5,230.2 383,237.2 383.5,245.7 384,254.2 384.5,262.7 385,268.2 385.5,271.7 386,275.2 386.5,278.7 387,282.2 387.5,285.7 388,287.5 388.5,288.5 389,289.5 389.5,290.5 390,291.5 390.5,292.5 391,293.5 391.5,294.5 392,295.5 392.5,296.8 393,298.1 393.5,299.4 394,300.8 394.5,302.1 395,303.4 395.5,304.8 396,306.1 396.5,307.4 397,308.5 397.5,309.5 398,310.5 398.5,311.5 399,312.5 399.5,313.5 400,314.5 400.5,315.5 401,316.5 401.5,325 402,334 402.5,343 403,352 403.5,361 404,370 404.5,385.7 405,401.3 405.5,416.9 406,432.5 406.5,448.7 407,466.6 407.5,484.4 408,502.3 408.5,518.6 409,520.6 409.5,522.6 410,524.6 410.5,526.6 411,528.6 411.5,530 412,530 412.5,530 413,530 413.5,530 414,530 414.5,530 415,527.6 415.5,525.2 416,522.8 416.5,520.5 417,518.1 417.5,515.7 418,513.3 418.5,511.8 419,516.1 419.5,520.3 420,524.6 420.5,527.9 421,529.4 421.5,530.9 422,532.4 422.5,533.9 423,535.4 423.5,535.4 424,535.4 424.5,535.4 425,535.4 425.5,535.4 426,535.4 426.5,532.4 427,522.9 427.5,513.4 428,503.9 428.5,494.4 429,484.9 429.5,474.7 430,463.7 430.5,452.7 431,441.7 431.5,430.7 432,419.7 432.5,409 433,398.5 433.5,388 434,377.5 434.5,367 435,356.5 435.5,347.8 436,340.3 436.5,332.8 437,325.3 437.5,317.8 438,310.3 438.5,303.7 439,297.7 439.5,291.7 440,294.3 440.5,300.3 441,306.3 441.5,315.4 442,325.4 442.5,335.4 443,345.4 443.5,355.4 444,365.4 444.5,369.5 445,372.5 445.5,375.5 446,378.5 446.5,381.5 447,384.5 447.5,384.5 448,384.5 448.5,384.5 449,384.5 449.5,384.5 450,384.5 450.5,378.6 451,371.6 451.5,364.6 452,357.6 452.5,350.6 453,343.6 453.5,340.6 454,337.9 454.5,335.1 455,332.4 455.5,329.6 456,326.9 456.5,324.1 457,321.4 457.5,318.6 458,320.1 458.5,322.5 459,324.8 459.5,327.1 460,329.5 460.5,329.8 461,329.8 461.5,329.8 462,329.8 462.5,329.8 463,329.8 463.5,329.8 464,320.8 464.5,311.8 465,302.8 465.5,293.8 466,284.8 466.5,275.8 467,266.8 467.5,257.8 468,249.9 468.5,244.9 469,239.9 469.5,234.9 470,229.9 470.5,224.9 471,226.9 471.5,232.9 472,238.9 472.5,242.8 473,244.1 473.5,245.3 474,292.3 474.5,339.3 475,385.4 475.5,402.9 476,420.4 476.5,437.9 477,455.4 477.5,472.9 478,489 478.5,492 479,495 479.5,498 480,501 480.5,504 481,506.3 481.5,506.3 482,506.3 482.5,506.3 483,506.3 483.5,506.3 484,506.3 484.5,504.3 485,502.3 485.5,500.3 486,498.3 486.5,496.3 487,494.3 487.5,492.3 488,490.3 488.5,486.7 489,478.4 489.5,470 490,461.7 490.5,453.4 491,445 491.5,436.7 492,428.4 492.5,420 493,408.9 493.5,392.5 494,376.1 494.5,379.9 495,383.9 495.5,383.9 496,383.9 496.5,383.9 497,383.9 497.5,383.9 498,383.9 498.5,380.1 499,376.2 499.5,372.4 500,368.5 500.5,364.7 501,360.8 501.5,357 502,352.5 502.5,347.5 503,342.5 503.5,337.5 504,332.5 504.5,327.5 505,318 505.5,305.3 506,292.6 506.5,279.9 507,267.2 507.5,254.5 508,259.1 508.5,265.6 509,268.4 509.5,270.9 510,273.4 510.5,275.9 511,278.4 511.5,280.9 512,280.9 512.5,280.9 513,280.9 513.5,280.9 514,280.9 514.5,280.9 515,273.5 515.5,266 516,258.5 516.5,251 517,243.5 517.5,241.4 518,264.4 518.5,283.4 519,302.2 519.5,320.9 520,339.7 520.5,360.2 521,388.7 521.5,417.3 522,445.9 522.5,474.1 523,483.1 523.5,492.1 524,501.1 524.5,510.1 525,519.1 525.5,527 526,527 526.5,527 527,527 527.5,527 528,527 528.5,527 529,523 529.5,519 530,515 530.5,511 531,507 531.5,502.8 532,497.4 532.5,492 533,486.6 533.5,481.2 534,477.4 534.5,480.4 535,483.5 535.5,486.6 536,489.5 536.5,492.2 537,494.9 537.5,497.5 538,500.2 538.5,502.9 539,505.5 539.5,508.2 540,510.9 540.5,513 541,514.1 541.5,515.3 542,516.4 542.5,517.6 543,518.7 543.5,519.9 544,521 544.5,521 545,521 545.5,521 546,521 546.5,521 547,521 547.5,514.2 548,503.3 548.5,492.5 549,481.7 549.5,470.8 550,460 550.5,449.2 551,441 551.5,435.2 552,429.4 552.5,423.5 553,417.7 553.5,411.9 554,406 554.5,401.7 555,399.5 555.5,397.3 556,395.1 556.5,392.8 557,390.6 557.5,388.4 558,386.2 558.5,383.9 559,381.7 559.5,379.5 560,376.5 560.5,373.1 561,369.8 561.5,366.5 562,363.1 562.5,359.8 563,358 563.5,360.3 564,362.6 564.5,365 565,366.8 565.5,366.8 566,366.8 566.5,366.8 567,366.8 567.5,366.8 568,366.8 568.5,364.3 569,361.8 569.5,359.3 570,362.1 570.5,370.9 571,379.8 571.5,388.6 572,397.4 572.5,406.3 573,414 573.5,414 574,414 574.5,414 575,414 575.5,414 576,414 576.5,406 577,398 577.5,390 578,382 578.5,374 579,365.5 579.5,354 580,342.4 580.5,330.9 581,319.4 581.5,325.7 582,339.7 582.5,353.7 583,361.9 583.5,363.5 584,365.2 584.5,366.9 585,368.5 585.5,370.2 586,371.9 586.5,375.4 587,382.4 587.5,389.4 588,396.4 588.5,403.4 589,410.4 589.5,412.3 590,412.3 590.5,412.3 591,412.3 591.5,412.3 592,412.3 592.5,412.3 593,406.9 593.5,401.6 594,400.2 594.5,416.3 595,432.4 595.5,448.5 596,462.9 596.5,473.9 597,484.9 597.5,495.9 598,506.9 598.5,517.9 599,520.9 599.5,520.9 600,520.9 600.5,520.9 601,520.9 601.5,520.9 602,520.9 602.5,512.4 603,503.9 603.5,495.4 604,486.9 604.5,478.4 605,462.2 605.5,437.2 606,412.2 606.5,387.2 607,362.2 607.5,344.4 608,329.4 608.5,314.4 609,299.4 609.5,284.4 610,269.4 610.5,256.3 611,243.8 611.5,247 612,257 612.5,267.6 613,284.2 613.5,300.9 614,317.6 614.5,334.2 615,350.9 615.5,367.6 616,384.2 616.5,384.8 617,384.8 617.5,384.8 618,384.8 618.5,384.8 619,384.8 619.5,384.8 620,384.8 620.5,384.8 621,384.8 621.5,384.8 622,384.8 622.5,384.8 623,379.9 623.5,359.9 624,339.9 624.5,319.9 625,299.9 625.5,279.9 626,264.2 626.5,257.9 627,251.7 627.5,248.8 628,261.3 628.5,273.8 629,286.3 629.5,299.4 630,314.4 630.5,329.4 631,344.4 631.5,359.4 632,374.4 632.5,385.1 633,386.1 633.5,387.1 634,388.1 634.5,389.1 635,390.1 635.5,390.1 636,390.1 636.5,390.1 637,390.1 637.5,390.1 638,390.1 638.5,386.8 639,375.8 639.5,364.8 640,353.8 640.5,342.8 641,331.8 641.5,320.5 642,309 642.5,297.5 643,286 643.5,286.3 644,292.8 644.5,301.3 645,311.3 645.5,321.3 646,331.3 646.5,341.3 647,351.3 647.5,351.3 648,351.3 648.5,351.3 649,351.3 649.5,351.3 650,351.3 650.5,348.1 651,336.5 651.5,325 652,313.5 652.5,316.7 653,334.2 653.5,351.7 654,369.2 654.5,372 655,374.1 655.5,376.1 656,378.2 656.5,380.3 657,382.4 657.5,384.5 658,384.5 658.5,384.5 659,384.5 659.5,384.5 660,384.5 660.5,384.5 661,374.5 661.5,362 662,349.5 662.5,337 663,324.5 663.5,312 664,299.5 664.5,291 665,284.3 665.5,277.6 666,270.8 666.5,269.9 667,278.7 667.5,287.4 668,296.2 668.5,306.2 669,316.2 669.5,326.2 670,336.2 670.5,346.2 671,353.7 671.5,353.7 672,353.7 672.5,353.7 673,353.7 673.5,353.7 674,353.7 674.5,340.4 675,327.1 675.5,313.7 676,300.4 676.5,287.1 677,273.7 677.5,260.4 678,247.1 678.5,235.8 679,232.8 679.5,229.8 680,226.8 680.5,223.8 681,225.7 681.5,232.7 682,239.7 682.5,246.7 683,253.9 683.5,261.4 684,268.9 684.5,276.4 685,283.9 685.5,291.4 686,310.9 686.5,347.4 687,383.9 687.5,420.4 688,456.9 688.5,493.4 689,499.9 689.5,499.9 690,499.9 690.5,499.9 691,499.9 691.5,499.9 692,499.9 692.5,473.4 693,446.9 693.5,420.4 694,393.9 694.5,367.4 695,348.8 695.5,337.1 696,325.4 696.5,313.6 697,301.9 697.5,294.2 698,301.9 698.5,309.7 699,326.3 699.5,344.2 700,362.1 700.5,379.9 701,400.4 701.5,421.8 702,443.2 702.5,464.6 703,480.7 703.5,492.5 704,504.4 704.5,516.3 705,528.2 705.5,528.2 706,528.2 706.5,528.2 707,528.2 707.5,528.2 708,528.2 708.5,526.6 709,522.1 709.5,517.6 710,513.1 710.5,508.6 711,504.1 711.5,499.5 712,494.8 712.5,490.2 713,485.5 713.5,480.8 714,476.2 714.5,474 715,477 715.5,480 716,483 716.5,486 717,488.9 717.5,490.5 718,492.2 718.5,493.9 719,495.5 719.5,497.2 720,498.9 720.5,500.5 721,502.2 721.5,504 722,506.3 722.5,508.6 723,511 723.5,513.3 724,515.6 724.5,518 725,520.3 725.5,522.6 726,522.6 726.5,522.6 727,522.6 727.5,522.6 728,522.6 728.5,522.6 729,519.8 729.5,501.3 730,482.8 730.5,464.3 731,445.8 731.5,427.3 732,408.3 732.5,388.3 733,368.3 733.5,348.3 734,328.3 734.5,308.3 735,304.8 735.5,318.8 736,332.8 736.5,346.1 737,358.6 737.5,371.1 738,383.6 738.5,396.1 739,408.6 739.5,422.4 740,437.4 740.5,452.4 741,467.4 741.5,482.4 742,497.4 742.5,497.7 743,497.7 743.5,497.7 744,497.7 744.5,497.7 745,497.7 745.5,497.7 746,487.7 746.5,477.7 747,467.7 747.5,457.7 748,447.7 748.5,441 749,436 749.5,441.7 750,451.7 750.5,461.7 751,471.7 751.5,481.7 752,491.7 752.5,501.7 753,511.7 753.5,521.7 754,531.7 754.5,531.7 755,531.7 755.5,531.7 756,531.7 756.5,531.7 757,531.7 757.5,530.5 758,527.2 758.5,523.8 759,520.5 759.5,517.2 760,513.8 760.5,510.5 761,507.2 761.5,503.8 762,495.9 762.5,487.5 763,479.2 763.5,470.9 764,462.5 764.5,454.2 765,445.9 765.5,437.5 766,429.2 766.5,419.2 767,409.2 767.5,399.2 768,389.2 768.5,379.2 769,369.6 769.5,364.6 770,359.6 770.5,363.9 771,371.4 771.5,378.9 772,387.9 772.5,402.9 773,417.9 773.5,432.9 774,447.9 774.5,462.9 775,476.8 775.5,487.5 776,498.2 776.5,508.9 777,516.9 777.5,516.9 778,516.9 778.5,516.9 779,516.9 779.5,516.9 780,516.9 780.5,503.5 781,490 781.5,476.6 782,463.1 782.5,449.6 783,450.8 783.5,459.1 784,461.6 784.5,464.1 785,466.6 785.5,469.1 786,471.6 786.5,473.8 787,473.8 787.5,473.8 788,473.8 788.5,473.8 789,473.8 789.5,473.8 790,472.1 790.5,470.5 791,468.8 791.5,467.1 792,465.5 792.5,463.8 793,462.1 793.5,460.5 794,458.8 794.5,457.1 795,455.5 795.5,453.8 796,452.1 796.5,450.5 797,448.8 797.5,447.1 798,445.5 798.5,443.2 799,439 799.5,434.9 800,430.7 800.5,426.5 801,422.4 801.5,418.2 802,413.9 802.5,408.4 803,403 803.5,397.5 804,404.3 804.5,411.4 805,418.5 805.5,425.6 806,435.2 806.5,447.7 807,460.2 807.5,472.7 808,485.2 808.5,497.7 809,498.4 809.5,498.4 810,498.4 810.5,498.4 811,498.4 811.5,498.4 812,498.4 812.5,488.4 813,478.4 813.5,468.4 814,458.4 814.5,448.4 815,436.9 815.5,424.4 816,411.9 816.5,399.4 817,386.9 817.5,374.4 818,375 818.5,392.5 819,410 819.5,423.8 820,436.3 820.5,448.8 821,461.3 821.5,473.8 822,485.9 822.5,498.1 823,510.2 823.5,522.4 824,522.4 824.5,522.4 825,522.4 825.5,522.4 826,522.4 826.5,522.4 827,513.1 827.5,499.6 828,486.1 828.5,472.6 829,459.1 829.5,445.6 830,430.8 830.5,415.8 831,400.8 831.5,385.8 832,370.8 832.5,355.8 833,340.8 833.5,325.8 834,310.8 834.5,295.8 835,280.8 835.5,265.9 836,257.2 836.5,249.9 837,257.7 837.5,265.5 838,289.2 838.5,314.2 839,339.2 839.5,364.2 840,391.8 840.5,431.8 841,471.8 841.5,500.5 842,500.5 842.5,500.5 843,500.5 843.5,500.5 844,500.5 844.5,500.5 845,485.5 845.5,470.5 846,455.5 846.5,440.5 847,425.5 847.5,411.9 848,401.9 848.5,391.9 849,381.9 849.5,371.9 850,361.9 850.5,353.8 851,349.8 851.5,345.8 852,341.8 852.5,337.8 853,333.8 853.5,328.1 854,319.5 854.5,310.9 855,302.3 855.5,320.6 856,343.8 856.5,362.8 857,377.8 857.5,392.8 858,407.8 858.5,422.8 859,437.8 859.5,454.5 860,472.3 860.5,490.2 861,508.1 861.5,508.6 862,508.6 862.5,508.6 863,508.6 863.5,508.6 864,508.6 864.5,508.6 865,485.1 865.5,461.6 866,438.1 866.5,428.2 867,439.2 867.5,451.8 868,465.8 868.5,479.8 869,493.8 869.5,507.8 870,521.8 870.5,521.8 871,521.8 871.5,521.8 872,521.8 872.5,521.8 873,521.8 873.5,520.9 874,510.1 874.5,499.3 875,488.6 875.5,477.8 876,467 876.5,456.2 877,445.5 877.5,442 878,439.5 878.5,444.1 879,449.1 879.5,454.1 880,459 880.5,459 881,459 881.5,459 882,459 882.5,459 883,459 883.5,446.5 884,434 884.5,421.5 885,409 885.5,396.5 886,384.5 886.5,380.2 887,375.8 887.5,371.4 888,367 888.5,362.3 889,356.9 889.5,351.5 890,346.1 890.5,340.7 891,335.2 891.5,329.8 892,324 892.5,316.5 893,309 893.5,301.5 894,294 894.5,286.5 895,279.1 895.5,271.8 896,266.1 896.5,278.3 897,290.5 897.5,305.2 898,321.9 898.5,338.5 899,355.2 899.5,371.9 900,387.4 900.5,398.9 901,410.4 901.5,421.9 902,433.4 902.5,444.9 903,451.7 903.5,451.7 904,451.7 904.5,451.7 905,451.7 905.5,451.7 906,451.7 906.5,446.7 907,441.7 907.5,436.7 908,431.7 908.5,426.7 909,421.7 909.5,416.7 910,413 910.5,410.2 911,407.4 911.5,404.6 912,401.8 912.5,399 913,396.2 913.5,393.7 914,395.8 914.5,397.9 915,400 915.5,402.1 916,403.8 916.5,405.3 917,406.9 917.5,408.4 918,410 918.5,411.5 919,413 919.5,414.9 920,429.2 920.5,443.5 921,457.8 921.5,472.1 922,476.6 922.5,479.7 923,482.7 923.5,485.8 924,488.9 924.5,492 925,495.1 925.5,498.6 926,504.6 926.5,510.6 927,516.6 927.5,522.6 928,528.6 928.5,531.2 929,531.2 929.5,531.2 930,531.2 930.5,531.2 931,531.2 931.5,531.2 932,521.2 932.5,511.2 933,501.2 933.5,504 934,507.8 934.5,511.5 935,515.3 935.5,519 936,522.8 936.5,526.5 937,530.3 937.5,530.3 938,530.3 938.5,530.3 939,530.3 939.5,530.3 940,530.3 940.5,526.9 941,523.4 941.5,520 942,516.5 942.5,513 943,509.6 943.5,506.1 944,502.2 944.5,497.2 945,492.2 945.5,487.2 946,482.2 946.5,477.2 947,472.2 947.5,467.2 948,462.2 948.5,456.3 949,448.8 949.5,441.3 950,433.8 950.5,426.3 951,418.8 951.5,410.5 952,401.1 952.5,391.8 953,382.4 953.5,373.5 954,381.3 954.5,398.6 955,423.6 955.5,448.6 956,473.6 956.5,498.6 957,498.6 957.5,498.6 958,498.6 958.5,498.6 959,498.6 959.5,498.6 960,467 960.5,421.3 961,375.6 961.5,377.4 962,385.8 962.5,394.1 963,402.4 963.5,410.8 964,419.1 964.5,427.4 965,427.4 965.5,427.4 966,427.4 966.5,427.4 967,427.4 967.5,427.4 968,425.5 968.5,420.5 969,415.5 969.5,410.5 970,405.5 970.5,400.5 971,395.5 971.5,390.5 972,385.5 972.5,379.7 973,373.7 973.5,367.7 974,361.7 974.5,355.7 975,349.7 975.5,343.7 976,337.7 976.5,331.7 977,329 977.5,326.5 978,324 978.5,321.5 979,319 979.5,316.5 980,310 980.5,303.5 981,311.8 981.5,322.8 982,333.8 982.5,346.3 983,368.3 983.5,390.3 984,412.3 984.5,434.3 985,456.3 985.5,476.3 986,488.2 986.5,500 987,511.9 987.5,523.8 988,523.8 988.5,523.8 989,523.8 989.5,523.8 990,523.8 990.5,523.8 991,521 991.5,500.3 992,479.6 992.5,458.9 993,439.8 993.5,424.8 994,409.8 994.5,394.8 995,379.8 995.5,364.8 996,349.4 996.5,333.1 997,316.9 997.5,314.2 998,330.4 998.5,346.7 999,362.3 999.5,377.3 1000,392.3 1000.5,407.3 1001,422.3 1001.5,437.3 1002,438.8 1002.5,438.8 1003,438.8 1003.5,438.8 1004,438.8 1004.5,438.8 1005,438.8 1005.5,428.8 1006,418.8 1006.5,420.8 1007,430.8 1007.5,440.8 1008,450.8 1008.5,460.8 1009,470.8 1009.5,478.4 1010,484.9 1010.5,491.4 1011,497.9 1011.5,504.4 1012,510.9 1012.5,517.4 1013,523.9 1013.5,530.4 1014,530.4 1014.5,530.4 1015,530.4 1015.5,530.4 1016,530.4 1016.5,530.4 1017,520.2 1017.5,505.5 1018,490.7 1018.5,476 1019,461.2 1019.5,446.5 1020,435.7 1020.5,425.7 1021,415.7 1021.5,405.7 1022,395.7 1022.5,385.7 1023,373.5 1023.5,361 1024,348.5 1024.5,336 1025,323.5 1025.5,311 1026,303.7 1026.5,296.6 1027,289.5 1027.5,293.4 1028,310.1 1028.5,326.9 1029,343.6 1029.5,359.9 1030,374.9 1030.5,389.9 1031,404.9 1031.5,419.9 1032,434.9 1032.5,448.9 1033,461.4 1033.5,473.9 1034,486.4 1034.5,498.9 1035,511.4 1035.5,523.9 1036,533 1036.5,533 1037,533 1037.5,533 1038,533 1038.5,533 1039,533 1039.5,532 1040,531 1040.5,530 1041,529 1041.5,528 1042,527 1042.5,526 1043,525 1043.5,524.2 1044,523.5 1044.5,522.8 1045,522.2 1045.5,521.7 1046,523.9 1046.5,526.2 1047,528.4 1047.5,530.7 1048,530.7 1048.5,530.7 1049,530.7 1049.5,530.7 1050,530.7 1050.5,530.7 1051,530.2 1051.5,527.1 1052,523.9 1052.5,520.7 1053,517.6 1053.5,514.4 1054,511.2 1054.5,508.1 1055,504.9 1055.5,502.6 1056,501 1056.5,499.3 1057,497.6 1057.5,496 1058,494.3 1058.5,492.6 1059,491 1059.5,489.3 1060,484.5 1060.5,478.2 1061,472 1061.5,465.7 1062,459.5 1062.5,453.2 1063,447 1063.5,437.8 1064,426.3 1064.5,414.7 1065,403.2 1065.5,391.7 1066,380.1 1066.5,368.6 1067,357 1067.5,347.6 1068,338.6 1068.5,329.5 1069,320.5 1069.5,322 1070,333.7 1070.5,345.5 1071,357.8 1071.5,372.8 1072,387.8 1072.5,402.8 1073,417.8 1073.5,432.8 1074,446.2 1074.5,454.6 1075,462.9 1075.5,471.2 1076,479.6 1076.5,487.9 1077,496.2 1077.5,503.3 1078,503.3 1078.5,503.3 1079,503.3 1079.5,503.3 1080,503.3 1080.5,503.3 1081,500.8 1081.5,498.3 1082,495.8 1082.5,493.3 1083,490.8 1083.5,487.6 1084,481.1 1084.5,480.4 1085,493.9 1085.5,507.4 1086,520.9 1086.5,526 1087,526 1087.5,526 1088,526 1088.5,526 1089,526 1089.5,526 1090,511.5 1090.5,497 1091,482.5 1091.5,468 1092,453.5 1092.5,442.9 1093,439.4 1093.5,435.8 1094,432.3 1094.5,434.5 1095,444.5 1095.5,454.5 1096,464.5 1096.5,474.5 1097,483.5 1097.5,492.5 1098,501.5 1098.5,510.5 1099,519.5 1099.5,525 1100,525 1100.5,525 1101,525 1101.5,525 1102,525 1102.5,525 1103,506 1103.5,487 1104,468 1104.5,449 1105,430 1105.5,412.7 1106,402.7 1106.5,392.7 1107,382.7 1107.5,380 1108,392 1108.5,404 1109,416 1109.5,428.5 1110,441 1110.5,453.5 1111,466 1111.5,472.4 1112,472.4 1112.5,472.4 1113,472.4 1113.5,472.4 1114,472.4 1114.5,472.4 1115,468.4 1115.5,464.4 1116,461.6 1116.5,464.9 1117,468.3 1117.5,471.6 1118,477 1118.5,487 1119,497 1119.5,507 1120,517 1120.5,527 1121,529.3 1121.5,529.3 1122,529.3 1122.5,529.3 1123,529.3 1123.5,529.3 1124,529.3 1124.5,518.6 1125,507.8 1125.5,497 1126,486.3 1126.5,475.5 1127,468.8 1127.5,472.8 1128,479.2 1128.5,486.7 1129,494.2 1129.5,501.7 1130,509.2 1130.5,516.7 1131,519.7 1131.5,521.4 1132,523.1 1132.5,524.7 1133,526.4 1133.5,528.1 1134,529.7 1134.5,531.4 1135,533.1 1135.5,533.7 1136,534.2 1136.5,534.7 1137,535.2 1137.5,535.7 1138,536.2 1138.5,536.7 1139,537.2 1139.5,537.7 1140,538.2 1140.5,538.7 1141,539.2 1141.5,539.2 1142,539.2 1142.5,539.2 1143,539.2 1143.5,539.2 1144,539.2 1144.5,539 1145,538.8 1145.5,538.6 1146,538.4 1146.5,538.2 1147,538 1147.5,537.8 1148,537.6 1148.5,537.4 1149,537.2 1149.5,537 1150,536.8 1150.5,536.6 1151,536.4 1151.5,534.8 1152,524.3 1152.5,513.8 1153,503.3 1153.5,492.8 1154,482.3 1154.5,469.8 1155,449.8 1155.5,429.8 1156,409.8 1156.5,389.8 1157,369.8 1157.5,351.8 1158,339.3 1158.5,326.8 1159,314.3 1159.5,301.8 1160,289.3 1160.5,278.9 1161,272.6 1161.5,266.4 1162,273.5 1162.5,282.2 1163,291 1163.5,297.6 1164,301.6 1164.5,305.6 1165,309.6 1165.5,313.6 1166,317.6 1166.5,318.7 1167,318.7 1167.5,318.7 1168,318.7 1168.5,318.7 1169,318.7 1169.5,318.7 1170,322.4 1170.5,329.9 1171,337.4 1171.5,344.9 1172,352.4 1172.5,361.5 1173,371.5 1173.5,381.5 1174,391.5 1174.5,401.5 1175,411.5 1175.5,416.9 1176,420.2 1176.5,423.5 1177,426.9 1177.5,430.2 1178,433.5 1178.5,436.9 1179,440.2 1179.5,443.5 1180,443.5 1180.5,443.5 1181,443.5 1181.5,443.5 1182,443.5 1182.5,443.5 1183,436.3 1183.5,426.3 1184,416.3 1184.5,406.3 1185,396.3 1185.5,386.3 1186,382.3 1186.5,379.3 1187,378.7 1187.5,382.7 1188,386.7 1188.5,390.7 1189,390.7 1189.5,390.7 1190,390.7 1190.5,390.7 1191,390.7 1191.5,390.7 1192,384.3 1192.5,377.6 1193,370.9 1193.5,364.3 1194,371.4 1194.5,378.7 1195,386 1195.5,393.3 1196,401.3 1196.5,413.8 1197,426.3 1197.5,438.8 1198,451.3 1198.5,463.8 1199,474.9 1199.5,479.9 1200,484.9 1200.5,489.9 1201,494.9 1201.5,499.9 1202,504.8 1202.5,509.4 1203,514 1203.5,518.6 1204,523.2 1204.5,527.9 1205,532.5 1205.5,537.1 1206,537.1 1206.5,537.1 1207,537.1 1207.5,537.1 1208,537.1 1208.5,537.1 1209,535.4 1209.5,528.4 1210,521.3 1210.5,514.2 1211,507.1 1211.5,500 1212,492.9 1212.5,483.7 1213,471.2 1213.5,458.7 1214,446.2 1214.5,433.7 1215,421.2 1215.5,407.5 1216,392.5 1216.5,377.5 1217,362.5 1217.5,347.5 1218,332.5 1218.5,321.7 1219,314.7 1219.5,307.7 1220,300.7 1220.5,293.7 1221,286.7 1221.5,283 1222,288.5 1222.5,294 1223,298.5 1223.5,302.5 1224,306.5 1224.5,310.5 1225,314.5 1225.5,318.5 1226,318.5 1226.5,318.5 1227,318.5 1227.5,318.5 1228,318.5 1228.5,318.5 1229,317.6 1229.5,315.1 1230,312.6 1230.5,310.1 1231,307.6 1231.5,305.1 1232,297.4 1232.5,288.4 1233,279.4 1233.5,270.4 1234,261.4 1234.5,252.4 1235,247.3 1235.5,242.8 1236,245 1236.5,252 1237,259 1237.5,266 1238,272 1238.5,278 1239,284 1239.5,290 1240,296 1240.5,301.3 1241,301.3 1241.5,301.3 1242,301.3 1242.5,301.3 1243,301.3 1243.5,301.3 1244,294.2 1244.5,287 1245,279.9 1245.5,272.8 1246,265.7 1246.5,258.5 1247,251.4 1247.5,244.3 1248,251.3 1248.5,262 1249,272.8 1249.5,281.2 1250,282.2 1250.5,283.2 1251,284.2 1251.5,285.2 1252,286.2 1252.5,286.4 1253,286.4 1253.5,286.4 1254,286.4 1254.5,286.4 1255,286.4 1255.5,286.4 1256,284.9 1256.5,287.4 1257,291.4 1257.5,295.4 1258,299.4 1258.5,305.6 1259,314.6 1259.5,323.6 1260,332.6 1260.5,341.6 1261,350.6 1261.5,350.6 1262,350.6 1262.5,350.6 1263,350.6 1263.5,350.6 1264,350.6 1264.5,349.9 1265,339.2 1265.5,340.7 1266,347.6 1266.5,354.6 1267,361.5 1267.5,368.5 1268,375.4 1268.5,382.4 1269,390 1269.5,398 1270,406 1270.5,414 1271,422 1271.5,430 1272,430 1272.5,430 1273,430 1273.5,430 1274,430 1274.5,430 1275,424.9 1275.5,414.4 1276,403.9 1276.5,393.4 1277,382.9 1277.5,372.4 1278,364.2 1278.5,356.7 1279,349.2 1279.5,341.7 1280,334.2 1280.5,326.7 1281,319.2 1281.5,311.7 1282,304.2 1282.5,296.7 1283,289.2 1283.5,281.7 1284,276.5 1284.5,271.5 1285,266.5 1285.5,261.5 1286,256.5 1286.5,251.5 1287,246.7 1287.5,241.9 1288,237.1 1288.5,240.4 1289,248.7 1289.5,256.9 1290,265.2 1290.5,271.2 1291,277 1291.5,282.7 1292,288.5 1292.5,294.3 1293,300 1293.5,305.8 1294,311.5 1294.5,316.5 1295,321.5 1295.5,326.5 1296,331.5 1296.5,336.5 1297,341.5 1297.5,346.5 1298,351.5 1298.5,352.8 1299,352.8 1299.5,352.8 1300,352.8 1300.5,352.8 1301,352.8 1301.5,352.8 1302,343.8 1302.5,334.8 1303,325.8 1303.5,316.8 1304,307.8 1304.5,301.1 1305,299.4 1305.5,297.6 1306,295.9 1306.5,294.1 1307,292.4 1307.5,290.6 1308,288.9 1308.5,287.1 1309,285.4 1309.5,283.6 1310,281.9 1310.5,278.4 1311,272.6 1311.5,266.9 1312,261.1 1312.5,262.7 1313,266.3 1313.5,269.8 1314,274.5 1314.5,281 1315,287.5 1315.5,294 1316,300.5 1316.5,307 1317,307.2 1317.5,307.2 1318,307.2 1318.5,307.2 1319,307.2 1319.5,307.2 1320,307.2 1320.5,299.5 1321,291.8 1321.5,284.1 1322,276.4 1322.5,268.7 1323,261 1323.5,253.3 1324,249.1 1324.5,246.1 1325,243.2 1325.5,246.7 1326,250.2 1326.5,253.7 1327,253.7 1327.5,253.7 1328,253.7 1328.5,253.7 1329,253.7 1329.5,253.7 1330,250.1 1330.5,245.3 1331,247.5 1331.5,263.4 1332,279.4 1332.5,295.3 1333,315.2 1333.5,335.2 1334,355.2 1334.5,375.2 1335,395.2 1335.5,415 1336,430 1336.5,445 1337,460 1337.5,475 1338,490 1338.5,504.3 1339,511.4 1339.5,518.6 1340,525.7 1340.5,532.9 1341,532.9 1341.5,532.9 1342,532.9 1342.5,532.9 1343,532.9 1343.5,532.9 1344,521.6 1344.5,509.1 1345,496.6 1345.5,484.1 1346,471.1 1346.5,456.1 1347,441.1 1347.5,426.1 1348,411.1 1348.5,396.1 1349,381.7 1349.5,369.2 1350,356.7 1350.5,344.2 1351,331.7 1351.5,319.2 1352,308.3 1352.5,300.8 1353,293.3 1353.5,285.8 1354,278.3 1354.5,270.8 1355,263.7 1355.5,257.5 1356,251.2 1356.5,250.4 1357,256.7 1357.5,262.9 1358,266.6 1358.5,267.6 1359,268.6 1359.5,269.6 1360,270.6 1360.5,271.6 1361,271.6 1361.5,271.6 1362,271.6 1362.5,271.6 1363,271.6 1363.5,271.6 1364,269.2 1364.5,264.2 1365,259.2 1365.5,254.2 1366,249.2 1366.5,244.2 1367,239.2 1367.5,235.8 1368,234.5 1368.5,233.1 1369,231.8 1369.5,231 1370,232.8 1370.5,234.6 1371,236.5 1371.5,238.3 1372,240.1 1372.5,242 1373,247.6 1373.5,254.1 1374,260.6 1374.5,267.1 1375,273.6 1375.5,280.1 1376,287.4 1376.5,294.9 1377,302.4 1377.5,309.9 1378,317.4 1378.5,324.9 1379,331.3 1379.5,337.5 1380,343.8 1380.5,350 1381,352.6 1381.5,352.6 1382,352.6 1382.5,352.6 1383,352.6 1383.5,352.6 1384,352.6 1384.5,338.3 1385,324 1385.5,320.9 1386,324.7 1386.5,324.7 1387,324.7 1387.5,324.7 1388,324.7 1388.5,324.7 1389,324.7 1389.5,316.2 1390,307.7 1390.5,299.2 1391,290.7 1391.5,282.2 1392,274.8 1392.5,273.3 1393,271.8 1393.5,270.3 1394,268.8 1394.5,267.3 1395,265.2 1395.5,261.2 1396,257.2 1396.5,253.2 1397,249.4 1397.5,366.1 1398,444.2 1398.5,444.2 1399,444.2 1399.5,444.2 1399.5,547.5" fill="#00cc3f"/>
<g clip-path="url(#cg)"><polyline points="170,213.6 172.1,243.3 173.9,293.8 178.4,317.5 183.4,353.1 187.3,273 191.1,222.5 194.7,246.3 197.1,273 202.1,203.2 206.6,234.4 209.5,246.3 212.5,224 217,243.3 221.4,264.1 224.4,234.4 226.5,210.6 228.2,323.5 230.9,471.9 233.3,541.7 236.3,442.2 239.2,323.5 242.8,255.2 249.6,243.3 252.6,273 254.1,311.6 257,264.1 259.4,204.7 262.4,264.1 264.5,278.9 267.4,249.2 270.4,225.5 273.4,258.1 276.3,317.5 278.7,382.8 282.3,412.5 285.2,457.1 288.2,501.6 290.3,538.7 292.7,471.9 295,382.8 298,308.6 301,238.8 304,273 306.9,287.8 310.5,314.5 313.5,382.8 316.4,471.9 318.2,535.7 320,442.2 322.4,329.4 325.3,273 329.8,219.5 333.6,252.2 337.2,273 340.2,317.5 343.1,409.6 345.2,293.8 347.6,209.1 350.6,240.3 353.5,293.8 355,400.7 357.1,264.1 358.6,213.6 361.6,243.3 364.5,273 366.9,234.4 369.9,213.6 374.3,203.2 377.3,225.5 379.4,238.8 383.2,213.6 386.2,264.1 389.2,284.9 393.6,293.8 398.1,305.6 402.5,314.5 405.5,368 407.9,442.2 410,516.4 412.9,528.3 418.9,500.1 421.8,525.4 424.8,534.3 427.8,477.9 430.7,412.5 433.7,350.2 436.7,305.6 439.6,270 442.6,305.6 445.6,365 448.6,382.8 451.5,341.3 457.5,308.6 461.9,329.4 466.4,249.2 470.8,204.7 473.8,240.3 475,243.3 476.5,382.8 479.5,486.8 482.4,504.6 486.9,486.8 491.3,412.5 493.4,344.2 496.4,382.8 500.2,353.1 503.2,323.5 507.1,225.5 510,264.1 513,278.9 516,234.4 518.1,195.8 519.5,264.1 521.9,353.1 524,471.9 527,525.4 529.9,501.6 533.5,463 537.4,486.8 541.8,510.5 545.7,519.4 549.2,442.2 552.8,400.7 558.1,376.9 562.6,347.2 566.4,365 570.6,344.2 574.5,412.5 577.4,365 581.3,276 584.3,359.1 587.8,371 590.8,412.5 594.7,371 597.3,457.1 600.3,522.4 603.3,471.9 605.6,353.1 608.6,264.1 611,204.7 614,264.1 617.5,382.8 619,510.5 621.4,382.8 624.3,264.1 627.9,219.5 630.9,293.8 633.8,382.8 636.8,388.8 639.8,323.5 642.8,255.2 645.7,293.8 648.7,353.1 652.6,264.1 655.5,368 659.1,382.8 662.6,293.8 666.5,241.8 669.5,293.8 672.4,353.1 676.9,234.4 681.4,207.7 684.3,249.2 687.3,293.8 690.3,510.5 693.2,353.1 697.1,262.6 700.1,308.6 702.1,382.8 704.2,471.9 706.6,528.3 709.6,501.6 714,460 718.5,486.8 722.9,501.6 727.4,522.4 730.3,412.5 733.3,293.8 734.8,255.2 737.8,338.3 740.7,412.5 743.7,501.6 746.7,442.2 749.6,412.5 752.6,471.9 755.6,531.3 760,501.6 764.5,427.4 767.5,368 770.4,338.3 773.4,382.8 776.4,471.9 778.4,516.4 782.3,412.5 785,457.1 788,471.9 792.4,457.1 796.9,442.2 800.4,412.5 803.7,376.9 807.3,427.4 810.2,501.6 813.2,442.2 816.2,368 818.3,329.4 820.6,412.5 823,471.9 825.1,522.4 828.1,442.2 831,353.1 834,264.1 836.4,222.5 839,264.1 841.4,382.8 842.9,501.6 845.9,412.5 848.8,353.1 851.8,329.4 853.9,293.8 855.7,256.7 857.7,353.1 860.7,442.2 862.8,516.4 865.8,376.9 868.7,442.2 871.7,525.4 875.6,442.2 878.5,427.4 881.5,457.1 884.5,382.8 886.8,362.1 890.4,323.5 893.4,278.9 896.3,235.9 898.7,293.8 901.4,382.8 904.4,451.1 908.2,412.5 913.3,384.3 917.1,400.7 921,412.5 923.1,471.9 926.9,495.7 929.9,531.3 932.6,477.9 934.9,501.6 938.5,528.3 942.4,501.6 946.8,457.1 949.8,412.5 953.3,345.7 955.7,382.8 958.1,501.6 960.2,311.6 962.6,368 966.1,427.4 970.6,382.8 975,329.4 978,314.5 981,276 983.9,341.3 986.9,471.9 989.3,528.3 991.4,442.2 994.3,353.1 997.3,256.7 1000.3,353.1 1003.2,442.2 1006.2,382.8 1010.7,471.9 1015.1,529.8 1018.1,442.2 1021,382.8 1024,308.6 1027.9,253.7 1030.8,353.1 1033.8,442.2 1037.4,531.3 1041.8,522.4 1046.3,516.4 1049.3,529.8 1053.7,501.6 1058.2,486.8 1061.7,442.2 1065.6,353.1 1069.4,283.4 1072.4,353.1 1075.4,442.2 1078.9,501.6 1081.9,486.8 1084.9,448.2 1087.9,528.3 1090.8,442.2 1095,412.5 1098,471.9 1100.9,525.4 1103.9,412.5 1107.5,341.3 1110.4,412.5 1112.8,471.9 1115.8,448.2 1119.3,471.9 1122.3,531.3 1126.2,448.2 1129.1,471.9 1132.1,516.4 1136.6,531.3 1142.5,537.2 1149.9,534.3 1152.9,471.9 1155.9,353.1 1158.8,278.9 1161.8,241.8 1164.8,293.8 1167.7,317.5 1170.7,308.6 1173.7,353.1 1176.7,412.5 1181.1,442.2 1184.1,382.8 1187,365 1190,388.8 1193.6,341.3 1197.4,397.7 1200.4,471.9 1203.4,501.6 1207.2,537.2 1210.8,486.8 1213.8,412.5 1216.7,323.5 1221.2,261.1 1224.2,293.8 1227.1,317.5 1230.1,302.7 1233.1,249.2 1236,222.5 1239,264.1 1242,299.7 1244.9,477.9 1247.9,215.1 1250.9,278.9 1253.8,284.9 1256.8,276 1259.8,299.7 1262.8,353.1 1264.8,308.6 1267.2,466 1270.2,382.8 1273.1,430.3 1276.1,368 1279.1,323.5 1282.1,278.9 1285,249.2 1288.6,215.1 1291.6,264.1 1295.4,308.6 1299.9,353.1 1302.8,299.7 1305.8,495.7 1308.8,278.9 1311.7,244.8 1315.3,270 1318.3,308.6 1322.1,249.2 1325.1,231.4 1328.1,252.2 1331.6,218.1 1334,293.8 1337,412.5 1340,501.6 1342,531.3 1344.4,471.9 1347.4,382.8 1350.3,308.6 1353.3,264.1 1356.3,227 1359.3,264.1 1362.2,270 1365.8,234.4 1369.6,224 1374.1,240.3 1377.1,278.9 1380,323.5 1382.4,353.1 1384.5,293.8 1387.5,323.5 1390.4,273 1393.4,264.1 1396.4,240.3 1398.4,234.4 1399.3,442.2" fill="none" stroke="#35d6c8" stroke-width="7" stroke-linejoin="round" opacity="0.55"/></g>
<polyline points="170,213.6 172.1,243.3 173.9,293.8 178.4,317.5 183.4,353.1 187.3,273 191.1,222.5 194.7,246.3 197.1,273 202.1,203.2 206.6,234.4 209.5,246.3 212.5,224 217,243.3 221.4,264.1 224.4,234.4 226.5,210.6 228.2,323.5 230.9,471.9 233.3,541.7 236.3,442.2 239.2,323.5 242.8,255.2 249.6,243.3 252.6,273 254.1,311.6 257,264.1 259.4,204.7 262.4,264.1 264.5,278.9 267.4,249.2 270.4,225.5 273.4,258.1 276.3,317.5 278.7,382.8 282.3,412.5 285.2,457.1 288.2,501.6 290.3,538.7 292.7,471.9 295,382.8 298,308.6 301,238.8 304,273 306.9,287.8 310.5,314.5 313.5,382.8 316.4,471.9 318.2,535.7 320,442.2 322.4,329.4 325.3,273 329.8,219.5 333.6,252.2 337.2,273 340.2,317.5 343.1,409.6 345.2,293.8 347.6,209.1 350.6,240.3 353.5,293.8 355,400.7 357.1,264.1 358.6,213.6 361.6,243.3 364.5,273 366.9,234.4 369.9,213.6 374.3,203.2 377.3,225.5 379.4,238.8 383.2,213.6 386.2,264.1 389.2,284.9 393.6,293.8 398.1,305.6 402.5,314.5 405.5,368 407.9,442.2 410,516.4 412.9,528.3 418.9,500.1 421.8,525.4 424.8,534.3 427.8,477.9 430.7,412.5 433.7,350.2 436.7,305.6 439.6,270 442.6,305.6 445.6,365 448.6,382.8 451.5,341.3 457.5,308.6 461.9,329.4 466.4,249.2 470.8,204.7 473.8,240.3 475,243.3 476.5,382.8 479.5,486.8 482.4,504.6 486.9,486.8 491.3,412.5 493.4,344.2 496.4,382.8 500.2,353.1 503.2,323.5 507.1,225.5 510,264.1 513,278.9 516,234.4 518.1,195.8 519.5,264.1 521.9,353.1 524,471.9 527,525.4 529.9,501.6 533.5,463 537.4,486.8 541.8,510.5 545.7,519.4 549.2,442.2 552.8,400.7 558.1,376.9 562.6,347.2 566.4,365 570.6,344.2 574.5,412.5 577.4,365 581.3,276 584.3,359.1 587.8,371 590.8,412.5 594.7,371 597.3,457.1 600.3,522.4 603.3,471.9 605.6,353.1 608.6,264.1 611,204.7 614,264.1 617.5,382.8 619,510.5 621.4,382.8 624.3,264.1 627.9,219.5 630.9,293.8 633.8,382.8 636.8,388.8 639.8,323.5 642.8,255.2 645.7,293.8 648.7,353.1 652.6,264.1 655.5,368 659.1,382.8 662.6,293.8 666.5,241.8 669.5,293.8 672.4,353.1 676.9,234.4 681.4,207.7 684.3,249.2 687.3,293.8 690.3,510.5 693.2,353.1 697.1,262.6 700.1,308.6 702.1,382.8 704.2,471.9 706.6,528.3 709.6,501.6 714,460 718.5,486.8 722.9,501.6 727.4,522.4 730.3,412.5 733.3,293.8 734.8,255.2 737.8,338.3 740.7,412.5 743.7,501.6 746.7,442.2 749.6,412.5 752.6,471.9 755.6,531.3 760,501.6 764.5,427.4 767.5,368 770.4,338.3 773.4,382.8 776.4,471.9 778.4,516.4 782.3,412.5 785,457.1 788,471.9 792.4,457.1 796.9,442.2 800.4,412.5 803.7,376.9 807.3,427.4 810.2,501.6 813.2,442.2 816.2,368 818.3,329.4 820.6,412.5 823,471.9 825.1,522.4 828.1,442.2 831,353.1 834,264.1 836.4,222.5 839,264.1 841.4,382.8 842.9,501.6 845.9,412.5 848.8,353.1 851.8,329.4 853.9,293.8 855.7,256.7 857.7,353.1 860.7,442.2 862.8,516.4 865.8,376.9 868.7,442.2 871.7,525.4 875.6,442.2 878.5,427.4 881.5,457.1 884.5,382.8 886.8,362.1 890.4,323.5 893.4,278.9 896.3,235.9 898.7,293.8 901.4,382.8 904.4,451.1 908.2,412.5 913.3,384.3 917.1,400.7 921,412.5 923.1,471.9 926.9,495.7 929.9,531.3 932.6,477.9 934.9,501.6 938.5,528.3 942.4,501.6 946.8,457.1 949.8,412.5 953.3,345.7 955.7,382.8 958.1,501.6 960.2,311.6 962.6,368 966.1,427.4 970.6,382.8 975,329.4 978,314.5 981,276 983.9,341.3 986.9,471.9 989.3,528.3 991.4,442.2 994.3,353.1 997.3,256.7 1000.3,353.1 1003.2,442.2 1006.2,382.8 1010.7,471.9 1015.1,529.8 1018.1,442.2 1021,382.8 1024,308.6 1027.9,253.7 1030.8,353.1 1033.8,442.2 1037.4,531.3 1041.8,522.4 1046.3,516.4 1049.3,529.8 1053.7,501.6 1058.2,486.8 1061.7,442.2 1065.6,353.1 1069.4,283.4 1072.4,353.1 1075.4,442.2 1078.9,501.6 1081.9,486.8 1084.9,448.2 1087.9,528.3 1090.8,442.2 1095,412.5 1098,471.9 1100.9,525.4 1103.9,412.5 1107.5,341.3 1110.4,412.5 1112.8,471.9 1115.8,448.2 1119.3,471.9 1122.3,531.3 1126.2,448.2 1129.1,471.9 1132.1,516.4 1136.6,531.3 1142.5,537.2 1149.9,534.3 1152.9,471.9 1155.9,353.1 1158.8,278.9 1161.8,241.8 1164.8,293.8 1167.7,317.5 1170.7,308.6 1173.7,353.1 1176.7,412.5 1181.1,442.2 1184.1,382.8 1187,365 1190,388.8 1193.6,341.3 1197.4,397.7 1200.4,471.9 1203.4,501.6 1207.2,537.2 1210.8,486.8 1213.8,412.5 1216.7,323.5 1221.2,261.1 1224.2,293.8 1227.1,317.5 1230.1,302.7 1233.1,249.2 1236,222.5 1239,264.1 1242,299.7 1244.9,477.9 1247.9,215.1 1250.9,278.9 1253.8,284.9 1256.8,276 1259.8,299.7 1262.8,353.1 1264.8,308.6 1267.2,466 1270.2,382.8 1273.1,430.3 1276.1,368 1279.1,323.5 1282.1,278.9 1285,249.2 1288.6,215.1 1291.6,264.1 1295.4,308.6 1299.9,353.1 1302.8,299.7 1305.8,495.7 1308.8,278.9 1311.7,244.8 1315.3,270 1318.3,308.6 1322.1,249.2 1325.1,231.4 1328.1,252.2 1331.6,218.1 1334,293.8 1337,412.5 1340,501.6 1342,531.3 1344.4,471.9 1347.4,382.8 1350.3,308.6 1353.3,264.1 1356.3,227 1359.3,264.1 1362.2,270 1365.8,234.4 1369.6,224 1374.1,240.3 1377.1,278.9 1380,323.5 1382.4,353.1 1384.5,293.8 1387.5,323.5 1390.4,273 1393.4,264.1 1396.4,240.3 1398.4,234.4 1399.3,442.2" fill="none" stroke="#c9f3f3" stroke-width="5" stroke-linejoin="round" opacity="0.35"/>
<polyline points="170,213.6 172.1,243.3 173.9,293.8 178.4,317.5 183.4,353.1 187.3,273 191.1,222.5 194.7,246.3 197.1,273 202.1,203.2 206.6,234.4 209.5,246.3 212.5,224 217,243.3 221.4,264.1 224.4,234.4 226.5,210.6 228.2,323.5 230.9,471.9 233.3,541.7 236.3,442.2 239.2,323.5 242.8,255.2 249.6,243.3 252.6,273 254.1,311.6 257,264.1 259.4,204.7 262.4,264.1 264.5,278.9 267.4,249.2 270.4,225.5 273.4,258.1 276.3,317.5 278.7,382.8 282.3,412.5 285.2,457.1 288.2,501.6 290.3,538.7 292.7,471.9 295,382.8 298,308.6 301,238.8 304,273 306.9,287.8 310.5,314.5 313.5,382.8 316.4,471.9 318.2,535.7 320,442.2 322.4,329.4 325.3,273 329.8,219.5 333.6,252.2 337.2,273 340.2,317.5 343.1,409.6 345.2,293.8 347.6,209.1 350.6,240.3 353.5,293.8 355,400.7 357.1,264.1 358.6,213.6 361.6,243.3 364.5,273 366.9,234.4 369.9,213.6 374.3,203.2 377.3,225.5 379.4,238.8 383.2,213.6 386.2,264.1 389.2,284.9 393.6,293.8 398.1,305.6 402.5,314.5 405.5,368 407.9,442.2 410,516.4 412.9,528.3 418.9,500.1 421.8,525.4 424.8,534.3 427.8,477.9 430.7,412.5 433.7,350.2 436.7,305.6 439.6,270 442.6,305.6 445.6,365 448.6,382.8 451.5,341.3 457.5,308.6 461.9,329.4 466.4,249.2 470.8,204.7 473.8,240.3 475,243.3 476.5,382.8 479.5,486.8 482.4,504.6 486.9,486.8 491.3,412.5 493.4,344.2 496.4,382.8 500.2,353.1 503.2,323.5 507.1,225.5 510,264.1 513,278.9 516,234.4 518.1,195.8 519.5,264.1 521.9,353.1 524,471.9 527,525.4 529.9,501.6 533.5,463 537.4,486.8 541.8,510.5 545.7,519.4 549.2,442.2 552.8,400.7 558.1,376.9 562.6,347.2 566.4,365 570.6,344.2 574.5,412.5 577.4,365 581.3,276 584.3,359.1 587.8,371 590.8,412.5 594.7,371 597.3,457.1 600.3,522.4 603.3,471.9 605.6,353.1 608.6,264.1 611,204.7 614,264.1 617.5,382.8 619,510.5 621.4,382.8 624.3,264.1 627.9,219.5 630.9,293.8 633.8,382.8 636.8,388.8 639.8,323.5 642.8,255.2 645.7,293.8 648.7,353.1 652.6,264.1 655.5,368 659.1,382.8 662.6,293.8 666.5,241.8 669.5,293.8 672.4,353.1 676.9,234.4 681.4,207.7 684.3,249.2 687.3,293.8 690.3,510.5 693.2,353.1 697.1,262.6 700.1,308.6 702.1,382.8 704.2,471.9 706.6,528.3 709.6,501.6 714,460 718.5,486.8 722.9,501.6 727.4,522.4 730.3,412.5 733.3,293.8 734.8,255.2 737.8,338.3 740.7,412.5 743.7,501.6 746.7,442.2 749.6,412.5 752.6,471.9 755.6,531.3 760,501.6 764.5,427.4 767.5,368 770.4,338.3 773.4,382.8 776.4,471.9 778.4,516.4 782.3,412.5 785,457.1 788,471.9 792.4,457.1 796.9,442.2 800.4,412.5 803.7,376.9 807.3,427.4 810.2,501.6 813.2,442.2 816.2,368 818.3,329.4 820.6,412.5 823,471.9 825.1,522.4 828.1,442.2 831,353.1 834,264.1 836.4,222.5 839,264.1 841.4,382.8 842.9,501.6 845.9,412.5 848.8,353.1 851.8,329.4 853.9,293.8 855.7,256.7 857.7,353.1 860.7,442.2 862.8,516.4 865.8,376.9 868.7,442.2 871.7,525.4 875.6,442.2 878.5,427.4 881.5,457.1 884.5,382.8 886.8,362.1 890.4,323.5 893.4,278.9 896.3,235.9 898.7,293.8 901.4,382.8 904.4,451.1 908.2,412.5 913.3,384.3 917.1,400.7 921,412.5 923.1,471.9 926.9,495.7 929.9,531.3 932.6,477.9 934.9,501.6 938.5,528.3 942.4,501.6 946.8,457.1 949.8,412.5 953.3,345.7 955.7,382.8 958.1,501.6 960.2,311.6 962.6,368 966.1,427.4 970.6,382.8 975,329.4 978,314.5 981,276 983.9,341.3 986.9,471.9 989.3,528.3 991.4,442.2 994.3,353.1 997.3,256.7 1000.3,353.1 1003.2,442.2 1006.2,382.8 1010.7,471.9 1015.1,529.8 1018.1,442.2 1021,382.8 1024,308.6 1027.9,253.7 1030.8,353.1 1033.8,442.2 1037.4,531.3 1041.8,522.4 1046.3,516.4 1049.3,529.8 1053.7,501.6 1058.2,486.8 1061.7,442.2 1065.6,353.1 1069.4,283.4 1072.4,353.1 1075.4,442.2 1078.9,501.6 1081.9,486.8 1084.9,448.2 1087.9,528.3 1090.8,442.2 1095,412.5 1098,471.9 1100.9,525.4 1103.9,412.5 1107.5,341.3 1110.4,412.5 1112.8,471.9 1115.8,448.2 1119.3,471.9 1122.3,531.3 1126.2,448.2 1129.1,471.9 1132.1,516.4 1136.6,531.3 1142.5,537.2 1149.9,534.3 1152.9,471.9 1155.9,353.1 1158.8,278.9 1161.8,241.8 1164.8,293.8 1167.7,317.5 1170.7,308.6 1173.7,353.1 1176.7,412.5 1181.1,442.2 1184.1,382.8 1187,365 1190,388.8 1193.6,341.3 1197.4,397.7 1200.4,471.9 1203.4,501.6 1207.2,537.2 1210.8,486.8 1213.8,412.5 1216.7,323.5 1221.2,261.1 1224.2,293.8 1227.1,317.5 1230.1,302.7 1233.1,249.2 1236,222.5 1239,264.1 1242,299.7 1244.9,477.9 1247.9,215.1 1250.9,278.9 1253.8,284.9 1256.8,276 1259.8,299.7 1262.8,353.1 1264.8,308.6 1267.2,466 1270.2,382.8 1273.1,430.3 1276.1,368 1279.1,323.5 1282.1,278.9 1285,249.2 1288.6,215.1 1291.6,264.1 1295.4,308.6 1299.9,353.1 1302.8,299.7 1305.8,495.7 1308.8,278.9 1311.7,244.8 1315.3,270 1318.3,308.6 1322.1,249.2 1325.1,231.4 1328.1,252.2 1331.6,218.1 1334,293.8 1337,412.5 1340,501.6 1342,531.3 1344.4,471.9 1347.4,382.8 1350.3,308.6 1353.3,264.1 1356.3,227 1359.3,264.1 1362.2,270 1365.8,234.4 1369.6,224 1374.1,240.3 1377.1,278.9 1380,323.5 1382.4,353.1 1384.5,293.8 1387.5,323.5 1390.4,273 1393.4,264.1 1396.4,240.3 1398.4,234.4 1399.3,442.2" fill="none" stroke="#0a18b8" stroke-width="3.8" stroke-dasharray="23 8" stroke-linejoin="miter"/>
<polyline points="169.2,544.3 172.6,544.5 176,544.1 179.4,544.6 182.8,544.2 186.1,544.3 189.5,544.5 192.9,544.1 196.3,544.4 199.7,544 203.1,544.3 206.4,544.2 209.8,543.8 213.2,543.4 216.6,543.9 220,543.8 223.4,543.4 226.7,543 230.1,543.2 233.5,543.6 236.9,541.6 240.3,544.5 243.7,541.8 247,543.6 250.4,543.9 253.8,543.9 257.2,543.2 260.6,541.5 264,543.5 267.3,542 270.7,541.7 274.1,542.5 277.5,541.9 280.9,543.4 284.3,543.3 287.6,542.7 291,541 294.4,541.7 297.8,542 301.2,541 304.6,541.4 307.9,541.8 311.3,540 314.7,540.2 318.1,541.6 321.5,540.4 324.9,540.5 328.2,539.2 331.6,539.6 335,541 338.4,538.6 341.8,541.3 345.1,540.2 348.5,539 351.9,540.9 355.3,539.7 358.7,541 362.1,538.9 365.4,538.4 368.8,539 372.2,537.9 375.6,539.6 379,538.3 382.4,538.5 385.7,538.4 389.1,538.7 392.5,537.4 395.9,536.9 399.3,538.4 402.7,537.6 406,539.5 409.4,537.3 412.8,537.4 416.2,536.2 419.6,536.6 423,538.3 426.3,537.9 429.7,536.8 433.1,538.9 436.5,537.3 439.9,538.2 443.3,538.3 446.6,538.4 450,535.9 453.4,537.9 456.8,537.5 460.2,536.9 463.6,535.2 466.9,537.8 470.3,536.4 473.7,536 477.1,534.8 480.5,535 483.9,534.7 487.2,536.6 490.6,536.1 494,536.2 497.4,534.3 500.8,534 504.1,536.6 507.5,536.4 510.9,536.2 514.3,536.1 517.7,535.2 521.1,534.8 524.4,535.8 527.8,536.6 531.2,535.1 534.6,535.2 538,534.5 541.4,533.2 544.7,534 548.1,534.5 551.5,534.1 554.9,533.8 558.3,535.8 561.7,533 565,533.3 568.4,533 571.8,533.2 575.2,534.4 578.6,534.4 582,535.3 585.3,533.5 588.7,535.3 592.1,535.3 595.5,534.8 598.9,534.9 602.3,534.3 605.6,535.2 609,535.3 612.4,534.8 615.8,534.9 619.2,534 622.6,535.1 625.9,532.3 629.3,533.1 632.7,534.6 636.1,534.2 639.5,533.9 642.9,533.8 646.2,534.6 649.6,532.2 653,531.7 656.4,533.4 659.8,533.3 663.2,534.6 666.5,534.6 669.9,533.8 673.3,534 676.7,532.1 680.1,534.3 683.4,534.8 686.8,531.7 690.2,533.1 693.6,534.4 697,533.1 700.4,534.8 703.7,533.1 707.1,531.6 710.5,532 713.9,532.6 717.3,534 720.7,533.7 724,534.4 727.4,532.4 730.8,533.2 734.2,532.4 737.6,533.9 741,534.3 744.3,532.4 747.7,531.8 751.1,532.3 754.5,532.5 757.9,532.5 761.3,532.8 764.6,534.5 768,533.6 771.4,534.1 774.8,535.2 778.2,535.3 781.6,534.5 784.9,534.6 788.3,533.2 791.7,532.4 795.1,534.1 798.5,532.6 801.9,532.4 805.2,532.6 808.6,534.6 812,535.1 815.4,535.2 818.8,535.3 822.2,535.3 825.5,534 828.9,533.2 832.3,533.4 835.7,534.7 839.1,534.2 842.5,533.7 845.8,536.2 849.2,534.3 852.6,533.6 856,534.1 859.4,534.3 862.7,535.2 866.1,536.3 869.5,534.3 872.9,535.9 876.3,534.5 879.7,534 883,536 886.4,536 889.8,534.3 893.2,535.1 896.6,537 900,537.3 903.3,537.3 906.7,534.9 910.1,535.3 913.5,537.5 916.9,535.4 920.3,535 923.6,536.1 927,537.2 930.4,536.7 933.8,538.1 937.2,538.6 940.6,535.5 943.9,536.7 947.3,537.2 950.7,536 954.1,537.7 957.5,536.4 960.9,536.6 964.2,538.7 967.6,538.7 971,538.7 974.4,538.9 977.8,537.9 981.2,539.1 984.5,538.7 987.9,539.7 991.3,537.2 994.7,539.2 998.1,538.9 1001.5,538.6 1004.8,537.7 1008.2,539.4 1011.6,537.8 1015,539.3 1018.4,539.3 1021.7,539.4 1025.1,541.2 1028.5,539.9 1031.9,540.9 1035.3,541.6 1038.7,539.1 1042,541.2 1045.4,540.4 1048.8,539.6 1052.2,540.3 1055.6,541.2 1059,540.6 1062.3,540.6 1065.7,540 1069.1,542.3 1072.5,540.9 1075.9,542 1079.3,542 1082.6,540.5 1086,541.5 1089.4,541.4 1092.8,540.9 1096.2,540.5 1099.6,542.1 1102.9,541.6 1106.3,542.1 1109.7,542.2 1113.1,541.7 1116.5,542.6 1119.9,542.4 1123.2,542.7 1126.6,541.2 1130,542.1 1133.4,541.6 1136.8,541.5 1140.2,543.8 1143.5,542.9 1146.9,541.8 1150.3,542.2 1153.7,544.6 1157.1,544.7 1160.5,543.7 1163.8,545 1167.2,544.5 1170.6,545.2 1174,543.3 1177.4,543 1180.8,542.7 1184.1,544.3 1187.5,543.9 1190.9,544 1194.3,544.5 1197.7,543.9 1201,543.8 1204.4,544.4 1207.8,543.8 1211.2,544.3 1214.6,544.2 1218,543.8 1221.3,543.9 1224.7,544.5 1228.1,544.3 1231.5,544.2 1234.9,544.3 1238.3,544.5 1241.6,544.4 1245,544 1248.4,544.6 1251.8,544.2 1255.2,544.3 1258.6,544.6 1261.9,544.3 1265.3,544.1 1268.7,544.2 1272.1,544.6 1275.5,543.8 1278.9,544 1282.2,543.8 1285.6,544.5 1289,544.4 1292.4,544.6 1295.8,544 1299.2,544.4 1302.5,544.5 1305.9,544.3 1309.3,543.9 1312.7,543.9 1316.1,544.4 1319.5,544.5 1322.8,543.9 1326.2,544.1 1329.6,544 1333,544.5 1336.4,544.6 1339.8,544 1343.1,544.3 1346.5,544.6 1349.9,543.8 1353.3,544.1 1356.7,544 1360,544.5 1363.4,543.9 1366.8,544.6 1370.2,543.9 1373.6,544.2 1377,544.3 1380.3,544.2 1383.7,543.8 1387.1,544.4 1390.5,544.5 1393.9,544.2 1397.3,544.4 1400.6,544.5" fill="none" stroke="#9df03c" stroke-width="4" opacity="0.8"/>
<polyline points="169.2,544.3 172.6,544.5 176,544.1 179.4,544.6 182.8,544.2 186.1,544.3 189.5,544.5 192.9,544.1 196.3,544.4 199.7,544 203.1,544.3 206.4,544.2 209.8,543.8 213.2,543.4 216.6,543.9 220,543.8 223.4,543.4 226.7,543 230.1,543.2 233.5,543.6 236.9,541.6 240.3,544.5 243.7,541.8 247,543.6 250.4,543.9 253.8,543.9 257.2,543.2 260.6,541.5 264,543.5 267.3,542 270.7,541.7 274.1,542.5 277.5,541.9 280.9,543.4 284.3,543.3 287.6,542.7 291,541 294.4,541.7 297.8,542 301.2,541 304.6,541.4 307.9,541.8 311.3,540 314.7,540.2 318.1,541.6 321.5,540.4 324.9,540.5 328.2,539.2 331.6,539.6 335,541 338.4,538.6 341.8,541.3 345.1,540.2 348.5,539 351.9,540.9 355.3,539.7 358.7,541 362.1,538.9 365.4,538.4 368.8,539 372.2,537.9 375.6,539.6 379,538.3 382.4,538.5 385.7,538.4 389.1,538.7 392.5,537.4 395.9,536.9 399.3,538.4 402.7,537.6 406,539.5 409.4,537.3 412.8,537.4 416.2,536.2 419.6,536.6 423,538.3 426.3,537.9 429.7,536.8 433.1,538.9 436.5,537.3 439.9,538.2 443.3,538.3 446.6,538.4 450,535.9 453.4,537.9 456.8,537.5 460.2,536.9 463.6,535.2 466.9,537.8 470.3,536.4 473.7,536 477.1,534.8 480.5,535 483.9,534.7 487.2,536.6 490.6,536.1 494,536.2 497.4,534.3 500.8,534 504.1,536.6 507.5,536.4 510.9,536.2 514.3,536.1 517.7,535.2 521.1,534.8 524.4,535.8 527.8,536.6 531.2,535.1 534.6,535.2 538,534.5 541.4,533.2 544.7,534 548.1,534.5 551.5,534.1 554.9,533.8 558.3,535.8 561.7,533 565,533.3 568.4,533 571.8,533.2 575.2,534.4 578.6,534.4 582,535.3 585.3,533.5 588.7,535.3 592.1,535.3 595.5,534.8 598.9,534.9 602.3,534.3 605.6,535.2 609,535.3 612.4,534.8 615.8,534.9 619.2,534 622.6,535.1 625.9,532.3 629.3,533.1 632.7,534.6 636.1,534.2 639.5,533.9 642.9,533.8 646.2,534.6 649.6,532.2 653,531.7 656.4,533.4 659.8,533.3 663.2,534.6 666.5,534.6 669.9,533.8 673.3,534 676.7,532.1 680.1,534.3 683.4,534.8 686.8,531.7 690.2,533.1 693.6,534.4 697,533.1 700.4,534.8 703.7,533.1 707.1,531.6 710.5,532 713.9,532.6 717.3,534 720.7,533.7 724,534.4 727.4,532.4 730.8,533.2 734.2,532.4 737.6,533.9 741,534.3 744.3,532.4 747.7,531.8 751.1,532.3 754.5,532.5 757.9,532.5 761.3,532.8 764.6,534.5 768,533.6 771.4,534.1 774.8,535.2 778.2,535.3 781.6,534.5 784.9,534.6 788.3,533.2 791.7,532.4 795.1,534.1 798.5,532.6 801.9,532.4 805.2,532.6 808.6,534.6 812,535.1 815.4,535.2 818.8,535.3 822.2,535.3 825.5,534 828.9,533.2 832.3,533.4 835.7,534.7 839.1,534.2 842.5,533.7 845.8,536.2 849.2,534.3 852.6,533.6 856,534.1 859.4,534.3 862.7,535.2 866.1,536.3 869.5,534.3 872.9,535.9 876.3,534.5 879.7,534 883,536 886.4,536 889.8,534.3 893.2,535.1 896.6,537 900,537.3 903.3,537.3 906.7,534.9 910.1,535.3 913.5,537.5 916.9,535.4 920.3,535 923.6,536.1 927,537.2 930.4,536.7 933.8,538.1 937.2,538.6 940.6,535.5 943.9,536.7 947.3,537.2 950.7,536 954.1,537.7 957.5,536.4 960.9,536.6 964.2,538.7 967.6,538.7 971,538.7 974.4,538.9 977.8,537.9 981.2,539.1 984.5,538.7 987.9,539.7 991.3,537.2 994.7,539.2 998.1,538.9 1001.5,538.6 1004.8,537.7 1008.2,539.4 1011.6,537.8 1015,539.3 1018.4,539.3 1021.7,539.4 1025.1,541.2 1028.5,539.9 1031.9,540.9 1035.3,541.6 1038.7,539.1 1042,541.2 1045.4,540.4 1048.8,539.6 1052.2,540.3 1055.6,541.2 1059,540.6 1062.3,540.6 1065.7,540 1069.1,542.3 1072.5,540.9 1075.9,542 1079.3,542 1082.6,540.5 1086,541.5 1089.4,541.4 1092.8,540.9 1096.2,540.5 1099.6,542.1 1102.9,541.6 1106.3,542.1 1109.7,542.2 1113.1,541.7 1116.5,542.6 1119.9,542.4 1123.2,542.7 1126.6,541.2 1130,542.1 1133.4,541.6 1136.8,541.5 1140.2,543.8 1143.5,542.9 1146.9,541.8 1150.3,542.2 1153.7,544.6 1157.1,544.7 1160.5,543.7 1163.8,545 1167.2,544.5 1170.6,545.2 1174,543.3 1177.4,543 1180.8,542.7 1184.1,544.3 1187.5,543.9 1190.9,544 1194.3,544.5 1197.7,543.9 1201,543.8 1204.4,544.4 1207.8,543.8 1211.2,544.3 1214.6,544.2 1218,543.8 1221.3,543.9 1224.7,544.5 1228.1,544.3 1231.5,544.2 1234.9,544.3 1238.3,544.5 1241.6,544.4 1245,544 1248.4,544.6 1251.8,544.2 1255.2,544.3 1258.6,544.6 1261.9,544.3 1265.3,544.1 1268.7,544.2 1272.1,544.6 1275.5,543.8 1278.9,544 1282.2,543.8 1285.6,544.5 1289,544.4 1292.4,544.6 1295.8,544 1299.2,544.4 1302.5,544.5 1305.9,544.3 1309.3,543.9 1312.7,543.9 1316.1,544.4 1319.5,544.5 1322.8,543.9 1326.2,544.1 1329.6,544 1333,544.5 1336.4,544.6 1339.8,544 1343.1,544.3 1346.5,544.6 1349.9,543.8 1353.3,544.1 1356.7,544 1360,544.5 1363.4,543.9 1366.8,544.6 1370.2,543.9 1373.6,544.2 1377,544.3 1380.3,544.2 1383.7,543.8 1387.1,544.4 1390.5,544.5 1393.9,544.2 1397.3,544.4 1400.6,544.5" fill="none" stroke="#f2f22a" stroke-width="2"/>
<polyline points="169.2,373 170.4,374.7 171.6,375.9 172.8,377.2 174,378.7 175.2,379.2 176.3,381.8 177.5,382.9 178.7,385.1 179.9,384.5 181.1,382.8 182.3,379.9 183.4,378 184.6,373.9 185.8,371.9 187,370.3 188.2,367.2 189.4,363.7 190.5,363.1 191.7,360.8 192.9,363.2 194.1,364.5 195.3,365.2 196.5,367.6 197.7,368.8 198.8,369.9 200,370.7 201.2,373.5 202.4,373.9 203.6,373.9 204.8,371.5 205.9,369.5 207.1,367.1 208.3,365.3 209.5,362.6 210.7,360.2 211.9,356.2 213,354.8 214.2,352.5 215.4,351.8 216.6,351.6 217.8,353 219,354.9 220.1,357.2 221.3,358.7 222.5,360 223.7,361.1 224.9,363.2 226.1,364 227.3,364.2 228.4,360.1 229.6,357.6 230.8,356 232,354.2 233.2,350.1 234.4,349.3 235.5,347.1 236.7,345.8 237.9,342.8 239.1,342.2 240.3,344 241.5,346.5 242.6,347.7 243.8,350.6 245,351.9 246.2,354.1 247.4,355.3 248.6,358 249.7,359.8 250.9,359.5 252.1,357.9 253.3,355.4 254.5,353.7 255.7,351.5 256.9,349.9 258,348 259.2,345.9 260.4,345.2 261.6,343.6 262.8,342.1 264,346.1 265.1,347 266.3,349.4 267.5,352.9 268.7,353.4 269.9,355.4 271.1,358.2 272.2,360.2 273.4,362.2 274.6,364.2 275.8,361.6 277,359.8 278.2,357.3 279.3,355.6 280.5,353.8 281.7,352.6 282.9,350.2 284.1,348.8 285.3,347.1 286.5,348 287.6,350.6 288.8,352.6 290,354.3 291.2,357.1 292.4,357.6 293.6,360.4 294.7,362.5 295.9,364.7 297.1,366.8 298.3,367.7 299.5,367 300.7,363.5 301.8,361.8 303,360.5 304.2,358.7 305.4,356.6 306.6,356.1 307.8,352.9 309,352.2 310.1,352.5 311.3,354.2 312.5,355.4 313.7,358.7 314.9,359.7 316.1,361.3 317.2,364.6 318.4,367 319.6,368.9 320.8,370.7 322,371 323.2,369.5 324.3,367.7 325.5,367.1 326.7,365.2 327.9,363.2 329.1,360.3 330.3,359.5 331.4,357.1 332.6,356.5 333.8,356.3 335,358.1 336.2,359.3 337.4,361.5 338.6,363.7 339.7,366.7 340.9,368.4 342.1,370.7 343.3,372.8 344.5,375.8 345.7,374.5 346.8,374.3 348,370.8 349.2,369.1 350.4,369.3 351.6,366.6 352.8,364 353.9,361.9 355.1,361.2 356.3,359.8 357.5,359.9 358.7,360.4 359.9,364.2 361,365.6 362.2,368.7 363.4,370 364.6,371.3 365.8,375.2 367,375.9 368.2,378.7 369.3,378.4 370.5,376.9 371.7,376.2 372.9,372.9 374.1,371.9 375.3,371.1 376.4,369.3 377.6,366.4 378.8,364.7 380,363.2 381.2,363.4 382.4,365.1 383.5,367.3 384.7,368.3 385.9,372.2 387.1,372.7 388.3,374.7 389.5,378.4 390.7,378.7 391.8,381.3 393,381.3 394.2,380.9 395.4,378.8 396.6,377 397.8,373.8 398.9,372.9 400.1,371.5 401.3,369.6 402.5,368.1 403.7,366.7 404.9,366.5 406,367 407.2,370.3 408.4,371 409.6,374.7 410.8,376.8 412,378.4 413.1,381.2 414.3,382.9 415.5,383.8 416.7,384.4 417.9,382.7 419.1,381.3 420.3,378.8 421.4,376.9 422.6,376 423.8,373.8 425,373.4 426.2,370.1 427.4,368.9 428.5,368.1 429.7,370.4 430.9,373.3 432.1,376 433.3,376.2 434.5,380.1 435.6,381.4 436.8,383.9 438,386.1 439.2,387.2 440.4,387.2 441.6,386.9 442.7,384.2 443.9,383.2 445.1,380.8 446.3,379.3 447.5,378 448.7,376.1 449.9,374.2 451,370.8 452.2,371.6 453.4,374.4 454.6,375 455.8,376.9 457,380.2 458.1,383 459.3,385.1 460.5,387.4 461.7,389 462.9,391.7 464.1,391.8 465.2,389.9 466.4,387.4 467.6,384.9 468.8,383.3 470,382.2 471.2,380.4 472.3,378.4 473.5,376.9 474.7,375.2 475.9,375.8 477.1,377.5 478.3,378.1 479.5,382.1 480.6,383.5 481.8,385.4 483,387 484.2,390.6 485.4,392.7 486.6,394.9 487.7,395 488.9,393.2 490.1,390.2 491.3,388.7 492.5,386.9 493.7,386.9 494.8,385.1 496,381.9 497.2,379.7 498.4,378.8 499.6,378.5 500.8,381.9 502,383.2 503.1,384.2 504.3,386.6 505.5,388.7 506.7,390.6 507.9,394.4 509.1,396.9 510.2,399 511.4,398.6 512.6,396.5 513.8,394.1 515,392.8 516.2,391.2 517.3,389.2 518.5,388 519.7,386 520.9,385.4 522.1,382 523.3,383.1 524.4,383.7 525.6,386.5 526.8,389.4 528,392 529.2,393.9 530.4,395.2 531.6,397.3 532.7,400.7 533.9,403 535.1,402.5 536.3,400.5 537.5,399.2 538.7,397.7 539.8,395 541,394.5 542.2,392 543.4,389.8 544.6,386.9 545.8,385.7 546.9,385 548.1,388 549.3,390.7 550.5,392.7 551.7,393.3 552.9,395.9 554,398.9 555.2,401.7 556.4,402.7 557.6,404.4 558.8,405.4 560,403.9 561.2,401.2 562.3,398.8 563.5,398.4 564.7,397 565.9,394.5 567.1,392.5 568.3,390 569.4,389.2 570.6,387.8 571.8,390 573,392.6 574.2,395.4 575.4,395.8 576.5,399.4 577.7,400.4 578.9,403.8 580.1,405.9 581.3,406.8 582.5,408.3 583.7,405 584.8,404.1 586,402.9 587.2,401 588.4,398.7 589.6,396.3 590.8,393.9 591.9,393.8 593.1,391.4 594.3,391.6 595.5,392.1 596.7,396 597.9,398.3 599,400.4 600.2,401.8 601.4,402.8 602.6,404.9 603.8,407.3 605,408.9 606.1,409.4 607.3,408.8 608.5,407.1 609.7,403.5 610.9,402 612.1,401.7 613.3,398.3 614.4,397 615.6,395.1 616.8,393.2 618,393.3 619.2,395.7 620.4,397.1 621.5,399 622.7,399.7 623.9,403.5 625.1,403.7 626.3,407.4 627.5,409.1 628.6,410.1 629.8,410.4 631,409.3 632.2,408.2 633.4,405.3 634.6,403.6 635.7,400.5 636.9,400.1 638.1,397.8 639.3,394.7 640.5,394.7 641.7,393.6 642.9,394.7 644,396.8 645.2,400.5 646.4,402.5 647.6,404.4 648.8,404.6 650,408 651.1,409 652.3,410.7 653.5,412.2 654.7,410.4 655.9,407 657.1,405.8 658.2,404.6 659.4,401.7 660.6,400.6 661.8,398.8 663,397.4 664.2,393.8 665.3,393.2 666.5,395.9 667.7,397.2 668.9,401.3 670.1,402.8 671.3,404.3 672.5,405.3 673.6,407.3 674.8,410.6 676,412.9 677.2,412.8 678.4,410.7 679.6,407.8 680.7,407.5 681.9,404.2 683.1,402.4 684.3,400.3 685.5,398.5 686.7,396.9 687.8,395.6 689,395.3 690.2,397.3 691.4,398.3 692.6,401.9 693.8,403.7 695,404.5 696.1,407.6 697.3,410 698.5,412.1 699.7,413 700.9,413.8 702.1,410.4 703.2,408.7 704.4,406.5 705.6,406.2 706.8,404.6 708,402.7 709.2,399.8 710.3,397.4 711.5,396.1 712.7,396.3 713.9,397.9 715.1,399.5 716.3,401.4 717.4,403.2 718.6,405 719.8,407.4 721,410.7 722.2,411.1 723.4,414.3 724.6,414 725.7,412.5 726.9,409.8 728.1,409 729.3,407 730.5,405 731.7,403.3 732.8,399.7 734,398.5 735.2,397.1 736.4,396.7 737.6,397.4 738.8,400.5 739.9,403.1 741.1,403.9 742.3,406.2 743.5,407.5 744.7,411.5 745.9,412.7 747,413.9 748.2,414.2 749.4,412.1 750.6,412.1 751.8,409.6 753,408 754.2,405.9 755.3,402.3 756.5,401.2 757.7,398.5 758.9,397.8 760.1,396.4 761.3,399.4 762.4,401.8 763.6,402.7 764.8,404.3 766,408.2 767.2,409.1 768.4,411.1 769.5,414 770.7,415.7 771.9,416.5 773.1,414.4 774.3,412.4 775.5,409.7 776.7,407.6 777.8,406.6 779,405.1 780.2,402.5 781.4,399.7 782.6,398.9 783.8,398.3 784.9,400.6 786.1,401.3 787.3,403.8 788.5,406.9 789.7,408.8 790.9,410.2 792,411.8 793.2,413.6 794.4,416.9 795.6,417 796.8,413.9 798,412.6 799.1,410.9 800.3,408.9 801.5,405.5 802.7,405 803.9,402.4 805.1,400.9 806.3,398.9 807.4,397.6 808.6,399.3 809.8,402.7 811,405.1 812.2,405.9 813.4,409.1 814.5,411.5 815.7,411.6 816.9,414.6 818.1,415.8 819.3,417 820.5,414 821.6,413 822.8,411.7 824,410 825.2,406.9 826.4,404.7 827.6,402.2 828.7,402.1 829.9,398.9 831.1,399.2 832.3,400.9 833.5,403.7 834.7,405.4 835.9,406.9 837,408 838.2,411.8 839.4,413 840.6,414.3 841.8,416 843,418 844.1,416.2 845.3,412.4 846.5,410.4 847.7,409.5 848.9,408.5 850.1,404.6 851.2,403.9 852.4,400.8 853.6,399.4 854.8,398.7 856,402.2 857.2,402.8 858.4,406.1 859.5,407.7 860.7,408.7 861.9,410.8 863.1,414.2 864.3,416.1 865.5,417.7 866.6,417.8 867.8,416.1 869,414.7 870.2,412.5 871.4,409.5 872.6,407.2 873.7,407.1 874.9,404 876.1,401.6 877.3,401.2 878.5,399.2 879.7,402.8 880.8,403.8 882,405.9 883.2,407.7 884.4,410.4 885.6,412.2 886.8,413.8 888,416.2 889.1,417.7 890.3,418.4 891.5,416.5 892.7,415.5 893.9,412.2 895.1,410.5 896.2,409.1 897.4,406 898.6,404 899.8,402.8 901,401.4 902.2,400.5 903.3,403.3 904.5,405.3 905.7,406.6 906.9,409.4 908.1,410.6 909.3,412.5 910.4,415.5 911.6,416.2 912.8,419.4 914,418.3 915.2,416.3 916.4,414.9 917.6,413.9 918.7,411 919.9,409.3 921.1,406.1 922.3,406 923.5,402.4 924.7,400.2 925.8,400.5 927,402.3 928.2,405.7 929.4,405.9 930.6,409 931.8,410 932.9,412.1 934.1,415.8 935.3,416.4 936.5,418.1 937.7,420.3 938.9,417.7 940,414.9 941.2,414.2 942.4,410.7 943.6,410.1 944.8,406.9 946,406.3 947.2,403.5 948.3,400.5 949.5,401.7 950.7,403.5 951.9,404.9 953.1,407.2 954.3,409.8 955.4,411.4 956.6,413.3 957.8,413.5 959,416 960.2,417.4 961.4,419.3 962.5,415.9 963.7,415.3 964.9,412.3 966.1,410.1 967.3,408.6 968.5,405.5 969.7,404.1 970.8,402 972,399.3 973.2,400.7 974.4,400.6 975.6,403.3 976.8,405.8 977.9,406.8 979.1,409.9 980.3,410.2 981.5,413 982.7,415.4 983.9,416.4 985,417.4 986.2,415.9 987.4,412.6 988.6,412.1 989.8,408.4 991,407.6 992.1,404.7 993.3,401.9 994.5,400.7 995.7,398.5 996.9,398.9 998.1,401.5 999.3,403.4 1000.4,405 1001.6,405.9 1002.8,408.2 1004,410 1005.2,411 1006.4,414.6 1007.5,416.3 1008.7,415.6 1009.9,415 1011.1,413 1012.3,410.2 1013.5,408.7 1014.6,406.1 1015.8,404.3 1017,401.5 1018.2,399.4 1019.4,398.2 1020.6,397 1021.7,399.2 1022.9,401.9 1024.1,402 1025.3,405.5 1026.5,407.6 1027.7,409.6 1028.9,410.3 1030,411.7 1031.2,413.8 1032.4,414.9 1033.6,413.2 1034.8,411.7 1036,408.2 1037.1,406.4 1038.3,404.8 1039.5,402.1 1040.7,400.5 1041.9,397.4 1043.1,395.8 1044.2,396.5 1045.4,397 1046.6,400.7 1047.8,401.5 1049,403.7 1050.2,405.9 1051.4,408.2 1052.5,408.5 1053.7,412 1054.9,412.7 1056.1,412 1057.3,411.7 1058.5,409.5 1059.6,406.5 1060.8,404.7 1062,402.3 1063.2,399.8 1064.4,399.1 1065.6,396.7 1066.7,394.7 1067.9,394.8 1069.1,394.9 1070.3,397 1071.5,399 1072.7,402.4 1073.8,402.5 1075,404.5 1076.2,407 1077.4,408.3 1078.6,410.8 1079.8,411.5 1081,409.7 1082.1,407.3 1083.3,405.6 1084.5,402.9 1085.7,399.9 1086.9,397.9 1088.1,395.5 1089.2,393.7 1090.4,392.6 1091.6,391.6 1092.8,393.7 1094,394.8 1095.2,397.3 1096.3,399.7 1097.5,400.8 1098.7,401.9 1099.9,405.4 1101.1,405.9 1102.3,409.6 1103.4,409.3 1104.6,407.2 1105.8,404 1107,401.5 1108.2,399.9 1109.4,398.7 1110.6,395.4 1111.7,394.5 1112.9,392.6 1114.1,389.1 1115.3,389.3 1116.5,391 1117.7,393 1118.8,394.1 1120,397.1 1121.2,398.2 1122.4,400.4 1123.6,401.9 1124.8,404.7 1125.9,405.9 1127.1,406.4 1128.3,404.9 1129.5,403.1 1130.7,400.1 1131.9,399.2 1133,395.3 1134.2,394.9 1135.4,393 1136.6,390.8 1137.8,386.9 1139,387.8 1140.2,390.1 1141.3,392.2 1142.5,394.1 1143.7,394.5 1144.9,396.5 1146.1,398.2 1147.3,400 1148.4,403.3 1149.6,404 1150.8,404.7 1152,401.6 1153.2,399.5 1154.4,397.2 1155.5,396.9 1156.7,393 1157.9,390.8 1159.1,388.7 1160.3,388.4 1161.5,386.1 1162.7,385.9 1163.8,387.9 1165,388 1166.2,389.9 1167.4,392.1 1168.6,393.6 1169.8,395.8 1170.9,398.4 1172.1,400.7 1173.3,402.6 1174.5,401.3 1175.7,400.4 1176.9,398 1178,395.7 1179.2,394.5 1180.4,391.8 1181.6,389.7 1182.8,386.6 1184,385.3 1185.1,383.3 1186.3,381.4 1187.5,384.3 1188.7,385.4 1189.9,387.7 1191.1,390.9 1192.3,391.9 1193.4,393.7 1194.6,394.8 1195.8,397.6 1197,398.7 1198.2,399.2 1199.4,397.8 1200.5,394.3 1201.7,393.8 1202.9,390.1 1204.1,389.5 1205.3,387.7 1206.5,385.2 1207.6,381.8 1208.8,379.2 1210,381 1211.2,381.8 1212.4,383.6 1213.6,384.8 1214.7,388 1215.9,388.9 1217.1,390.9 1218.3,391.5 1219.5,394.4 1220.7,394.6 1221.9,396 1223,393.8 1224.2,390.5 1225.4,388.6 1226.6,387.2 1227.8,383.7 1229,382.6 1230.1,378.8 1231.3,376.7 1232.5,374.2 1233.7,373.9 1234.9,376.2 1236.1,377.7 1237.2,379.4 1238.4,380 1239.6,383.4 1240.8,383.3 1242,386.9 1243.2,388.1 1244.4,389.7 1245.5,388.2 1246.7,386.8 1247.9,384.8 1249.1,381.4 1250.3,380.5 1251.5,377.7 1252.6,375.2 1253.8,372.4 1255,370.1 1256.2,368.1 1257.4,368.1 1258.6,369.8 1259.7,371.9 1260.9,372 1262.1,374.1 1263.3,375.6 1264.5,378.5 1265.7,379.5 1266.8,380.5 1268,382.6 1269.2,383.5 1270.4,380.5 1271.6,377.2 1272.8,376.4 1274,374.2 1275.1,371.6 1276.3,368.4 1277.5,365.8 1278.7,365.1 1279.9,362.7 1281.1,361.9 1282.2,363.4 1283.4,364.8 1284.6,367.5 1285.8,369 1287,371.1 1288.2,371.3 1289.3,373.6 1290.5,376.9 1291.7,376.8 1292.9,378.9 1294.1,376.2 1295.3,372.7 1296.4,371 1297.6,369.1 1298.8,367.6 1300,366 1301.2,363 1302.4,362 1303.6,359.7 1304.7,358.9 1305.9,361.5 1307.1,362.6 1308.3,363.5 1309.5,365.6 1310.7,367.9 1311.8,369.4 1313,371.7 1314.2,374.2 1315.4,375.1 1316.6,375.8 1317.8,373.4 1318.9,371.3 1320.1,370.6 1321.3,368.6 1322.5,366.4 1323.7,365.4 1324.9,364.1 1326,361.3 1327.2,359.3 1328.4,359.5 1329.6,361.9 1330.8,363.8 1332,366.4 1333.2,368.7 1334.3,371.4 1335.5,373.9 1336.7,375.4 1337.9,378.8 1339.1,380.4 1340.3,380.1 1341.4,378.5 1342.6,377 1343.8,376.1 1345,374 1346.2,372.2 1347.4,370.1 1348.5,368.9 1349.7,366.6 1350.9,365 1352.1,367.4 1353.3,369.3 1354.5,372.1 1355.7,376 1356.8,378.8 1358,380.7 1359.2,385.8 1360.4,387.7 1361.6,391.6 1362.8,393.2 1363.9,394.2 1365.1,394.2 1366.3,394.2 1367.5,392.2 1368.7,391.3 1369.9,390 1371,389.5 1372.2,388.3 1373.4,387 1374.6,386.7 1375.8,387.7 1377,389.5 1378.1,392.8 1379.3,393.4 1380.5,395.7 1381.7,396.6 1382.9,399.7 1384.1,399.4 1385.3,402.5 1386.4,404.8 1387.6,404.3 1388.8,401.7 1390,400.2 1391.2,397 1392.4,394.7 1393.5,391.8 1394.7,390.3 1395.9,388.2 1397.1,386 1398.3,382.5 1399.5,381.5 1400.6,384.1" fill="none" stroke="#cc2a1e" stroke-width="2.7" stroke-linejoin="round"/>
</g></g>
<rect x="170" y="73.8" width="1229.6" height="473.7" fill="none" stroke="#1a1a1a" stroke-width="2"/>
<path d="M335 547.5v-10M335 73.8v10M504.1 547.5v-10M504.1 73.8v10M673.3 547.5v-10M673.3 73.8v10M842.5 547.5v-10M842.5 73.8v10M1011.6 547.5v-10M1011.6 73.8v10M1180.8 547.5v-10M1180.8 73.8v10M1349.9 547.5v-10M1349.9 73.8v10M170 547.5h10M1399.6 547.5h-10M170 474.2h10M1399.6 474.2h-10M170 400.9h10M1399.6 400.9h-10M170 327.6h10M1399.6 327.6h-10M170 254.3h10M1399.6 254.3h-10M170 181h10M1399.6 181h-10M170 107.7h10M1399.6 107.7h-10" stroke="#1a1a1a" stroke-width="1.7" fill="none"/>
<g font-family='"Liberation Sans", Arial, Helvetica, sans-serif' font-size="30.5" fill="#404040">
<text x="333.5" y="592" text-anchor="middle" textLength="32.2" lengthAdjust="spacingAndGlyphs">50</text>
<text x="502.6" y="592" text-anchor="middle" textLength="48.3" lengthAdjust="spacingAndGlyphs">100</text>
<text x="671.8" y="592" text-anchor="middle" textLength="48.3" lengthAdjust="spacingAndGlyphs">150</text>
<text x="841" y="592" text-anchor="middle" textLength="48.3" lengthAdjust="spacingAndGlyphs">200</text>
<text x="1010.1" y="592" text-anchor="middle" textLength="48.3" lengthAdjust="spacingAndGlyphs">250</text>
<text x="1179.2" y="592" text-anchor="middle" textLength="48.3" lengthAdjust="spacingAndGlyphs">300</text>
<text x="1348.4" y="592" text-anchor="middle" textLength="48.3" lengthAdjust="spacingAndGlyphs">350</text>
<text x="155" y="561.1" text-anchor="end" textLength="16.1" lengthAdjust="spacingAndGlyphs">0</text>
<text x="155" y="487.8" text-anchor="end" textLength="64.4" lengthAdjust="spacingAndGlyphs">2000</text>
<text x="155" y="414.5" text-anchor="end" textLength="64.4" lengthAdjust="spacingAndGlyphs">4000</text>
<text x="155" y="341.2" text-anchor="end" textLength="64.4" lengthAdjust="spacingAndGlyphs">6000</text>
<text x="155" y="267.9" text-anchor="end" textLength="64.4" lengthAdjust="spacingAndGlyphs">8000</text>
<text x="155" y="194.6" text-anchor="end" textLength="80.6" lengthAdjust="spacingAndGlyphs">10000</text>
<text x="155" y="121.3" text-anchor="end" textLength="80.6" lengthAdjust="spacingAndGlyphs">12000</text>
</g>
<g clip-path="url(#cd)"><text x="786.8" y="644.4" text-anchor="middle" font-family='"Liberation Sans", Arial, Helvetica, sans-serif' font-size="38" fill="#404040" textLength="139.5" lengthAdjust="spacingAndGlyphs">Days (d)</text></g>
<text transform="translate(48.7 307.5) scale(0.93 1) rotate(-90)" text-anchor="middle" font-family='"Liberation Sans", Arial, Helvetica, sans-serif' font-size="37.5" fill="#404040" textLength="433" lengthAdjust="spacing">Energy per day(kWh/day)</text>
<text x="785.5" y="51.6" text-anchor="middle" font-family='"Liberation Sans", Arial, Helvetica, sans-serif' font-size="45.5" font-weight="bold" fill="#111" textLength="742" lengthAdjust="spacingAndGlyphs">Load and renewable energy per Day</text>
<rect x="367" y="90.5" width="842" height="51" fill="#fff" stroke="#1a1a1a" stroke-width="1.8"/>
<rect x="376" y="99" width="93" height="32" fill="#00c04a"/>
<path d="M662 116.2H750" stroke="#f0f060" stroke-width="1.6"/>
<path d="M849 116.2H939" stroke="#0a14a0" stroke-width="1.5" stroke-dasharray="21.5 13.5"/>
<path d="M1033 116.2H1126" stroke="#e01a1a" stroke-width="3.2"/>
<g font-family='"Liberation Sans", Arial, Helvetica, sans-serif' font-size="31" fill="#262626">
<text x="477.5" y="127.8" textLength="167.5" lengthAdjust="spacingAndGlyphs">Renewables</text>
<text x="761" y="127.8" textLength="68" lengthAdjust="spacingAndGlyphs">Solar</text>
<text x="947.5" y="127.8" textLength="68.5" lengthAdjust="spacingAndGlyphs">Wind</text>
<text x="1131" y="127.8" textLength="66.5" lengthAdjust="spacingAndGlyphs">Load</text>
</g>
<path d="M272.5 742.5V1213.5M367.5 742.5V1213.5M472.5 742.5V1213.5M572.5 742.5V1213.5M677.5 742.5V1213.5M780 742.5V1213.5M884.5 742.5V1213.5M990 742.5V1213.5M1090 742.5V1213.5M1195 742.5V1213.5M1297 742.5V1213.5M170 781H1399.6M170 893H1399.6M170 1005H1399.6M170 1117H1399.6" stroke="#dadada" stroke-width="1.1" fill="none"/>
<g clip-path="url(#cb)"><g filter="url(#bl)">
<path d="M170.5 1005 170.5 1002.1 172.4 992.7 174.5 988.2 176.6 978.8 178.3 979.7 180.2 973.1 181.6 974.6 183.2 969.9 184.9 971.1 186.5 969.2 188.5 971.7 190 967.6 191.5 969 192.5 964.6 192.5 1005ZM192.5 1005 192.5 964.6 192.9 962.9 195 959.4 196.5 952.7 198.5 950.7 200.6 943 202.5 940.6 204.6 932.9 206.7 931.8 208.3 924.8 209.7 923.4 211.2 918.4 213 915.9 214.9 910 216.5 909.7 218.2 902.6 219.9 901.7 220.1 901.2 220.1 1005ZM220.1 1005 220.1 901.2 221.3 898 222.7 902.7 222.9 902.4 222.9 1005ZM225 1005 225 899 226.7 898.1 228.1 894.4 228.1 1005ZM231.1 1005 231.1 894.8 231.1 894.9 231.1 1005ZM241.4 1005 241.4 928.8 241.5 929.2 243.5 925.8 245.6 923.7 247.2 918.8 249.3 917.5 251.3 910.8 252.9 910.1 254.4 905.2 255.9 904.9 258 899.1 259.4 901.1 261.2 895.6 262.7 897 264.7 892 266.4 892 268.5 887.4 270.2 887.5 271.7 881.3 273.8 881.4 275.2 877.5 275.2 1005ZM292.2 1005 292.2 894.8 293.8 894.4 293.8 894.4 293.8 1005ZM297.2 1005 297.2 899.9 299 901.9 299.8 898.8 299.8 1005ZM302.7 1005 302.7 893.9 302.8 893.8 304.8 889.9 305.5 890.4 305.5 1005ZM308.1 1005 308.1 888.2 308.4 887.5 310.3 889.6 310.5 889.5 310.5 1005ZM313.5 1005 313.5 890.6 314.2 892 316 891.8 316.5 893.2 316.5 1005ZM319.1 1005 319.1 897.3 319.8 898 321.8 905.3 321.9 905.3 321.9 1005ZM324.5 1005 324.5 903.9 325.6 903.9 326.8 899.8 326.8 1005ZM328.4 1005 328.4 896.5 329.5 896.3 330.6 891.9 330.6 1005ZM332.4 1005 332.4 886.2 333.4 885.1 334.2 882.9 334.2 1005ZM336.4 1005 336.4 880.7 337.1 881.6 338.3 878.1 338.3 1005ZM340.2 1005 340.2 877.8 340.5 878.3 342.3 873.2 342.3 1005ZM344 1005 344 874.9 344 874.9 346 869.8 346 869.9 346 1005ZM347.9 1005 347.9 869.7 348.6 867.5 348.6 1005ZM348.6 1005 348.6 867.5 349.3 865.2 351.2 863.9 353.1 858.4 354.5 859.7 356 855.8 357.5 855.9 359 852.1 360.4 852.9 362 848 363.8 847.6 365.9 840.7 367.5 838 369.2 831.8 370.7 829.6 370.7 1005ZM370.7 1005 370.7 829.6 371.2 828.7 372.6 822.3 374 821.7 375.7 814.4 377.7 812.6 379.4 804.3 381.3 802.5 382.7 796.4 384.5 796.3 386.6 787.8 388.3 788 389.6 782 391.4 780.8 392.7 775.7 392.7 1005ZM392.7 1005 392.7 775.7 392.9 774.9 394.9 774.2 395.1 773.6 395.1 1005ZM397.4 1005 397.4 769.3 398.2 769.6 399.8 765.3 399.8 1005ZM402 1005 402 768.7 403.5 765.1 404.5 767.1 404.5 1005ZM406.7 1005 406.7 765.3 406.8 765.1 407.4 767.1 407.4 1005ZM433.1 1005 433.1 831.9 434.1 831.6 435.7 834.2 435.8 834 435.8 1005ZM438.5 1005 438.5 831.7 439.1 832.3 440.9 828.7 440.9 1005ZM443.7 1005 443.7 829.4 444.9 828.5 445.8 831.1 445.8 1005ZM448.1 1005 448.1 832.7 448.5 832.4 449.6 834.8 449.6 1005ZM449.6 1005 449.6 834.8 450.6 837.2 451.9 836.1 451.9 1005ZM454.1 1005 454.1 839.3 455.8 837.2 456.4 837.9 456.4 1005ZM458.6 1005 458.6 837.5 459.5 835.7 460.9 837.6 460.9 1005ZM463.1 1005 463.1 834.4 464.7 835.5 465.2 833.3 465.2 1005ZM467.1 1005 467.1 827.3 468.1 825.9 469.2 820.4 469.2 1005ZM469.8 1005 469.8 818.3 471.5 816.8 473.4 809.7 475.3 808.3 477.2 807.9 477.2 1005ZM497.4 1005 497.4 838.1 498.7 841.8 499.3 841.1 499.3 1005ZM500.6 1005 500.6 840.1 502.1 842.4 502.4 842 502.4 1005ZM504.7 1005 504.7 840.1 505.8 840.8 507.9 834.4 509.7 832.7 511.5 826.7 513.4 824.9 514.9 819.3 516.5 819 518 812.4 519.4 811.3 519.4 1005ZM554.3 1005 554.3 865.4 555 865.1 556.4 867.6 557 865.7 557 1005ZM559.4 1005 559.4 865 559.5 865.2 561.5 861.2 561.9 861.8 561.9 1005ZM564.2 1005 564.2 861.9 564.6 861.1 566.1 862.8 566.8 861.2 566.8 1005ZM569.2 1005 569.2 861.8 569.2 861.8 570.8 859.7 572.2 861 572.2 1005ZM574.4 1005 574.4 859.5 576.2 860.9 577.2 859.2 577.2 1005ZM581 1005 581 858.9 582.2 856.9 583 857.2 583 1005ZM584.2 1005 584.2 857.4 585.5 854.7 585.5 1005ZM590.6 1005 590.6 855.8 592.4 853.8 592.6 854.3 592.6 1005ZM593.8 1005 593.8 856.3 594 856.6 595.1 854.3 595.1 1005ZM597 1005 597 856.6 597.4 857.5 598.8 857.5 598.8 1005ZM603.9 1005 603.9 866.6 604.1 867.5 606.1 863.7 607.5 862.5 609.6 853.6 611.2 852.7 612.6 847.4 613.1 848.1 613.1 1005ZM614.1 1005 614.1 849.8 614.4 850.3 615.7 848.7 615.7 1005ZM624.1 1005 624.1 856.7 625.5 851.9 627.3 848.7 628.9 842.6 630.6 844.1 631.4 842.6 631.4 1005ZM648.4 1005 648.4 832.1 649.8 828.8 650.5 829.3 650.5 1005ZM651.6 1005 651.6 829.1 652.7 826.9 654.5 828.3 655.9 824.9 657.3 826.8 658.9 823.9 660.3 825.7 661.9 821.8 663.7 824.9 665.5 819.7 667.3 821.4 669.3 816.8 671.4 818.7 673.3 814.2 675.3 812.4 676.8 807 677.3 806.3 677.3 1005ZM677.3 1005 677.3 806.3 678.2 805.2 680.1 798.4 681.5 797.6 683.3 790 684.7 787.6 686.3 780.4 688.3 785.9 688.3 1005ZM691 1005 691 788.1 691.6 789.8 693 785.5 693.5 785.2 693.5 1005ZM693.8 1005 693.8 785 695 784.3 696.4 777.6 697.9 777.9 699.6 772.3 701.2 772.9 701.2 1005ZM708.6 1005 708.6 783.5 708.6 783.7 710.3 784.6 710.3 1005ZM767.3 1005 767.3 849.1 767.9 850.7 769.5 849.9 771.5 852.2 773.1 847.4 774.7 850.3 776.1 847.6 776.5 849.3 776.5 1005ZM777.5 1005 777.5 853.4 777.9 855.3 779.2 855.3 779.2 1005ZM780.7 1005 780.7 857.3 782 861.3 782.4 861.2 782.4 1005ZM787.1 1005 787.1 863.5 787.1 863.5 788.3 867.1 788.3 1005ZM796.7 1005 796.7 875.9 797.1 875.6 798.8 881 798.8 1005ZM802.2 1005 802.2 881.7 803.6 879.1 803.9 879.4 803.9 1005ZM806.1 1005 806.1 881.2 807.5 881.2 808.1 883.1 808.1 1005ZM833.4 1005 833.4 908.8 833.6 909.2 835.6 900.5 837.6 896.8 839.5 890.6 841.3 894.3 842.6 893.8 842.6 1005ZM845 1005 845 895.2 846 893.7 847.8 894.9 847.8 1005ZM850.7 1005 850.7 890.9 851.9 892.5 853.4 888.7 853.4 1005ZM855.7 1005 855.7 887.9 856.1 888.1 857.5 886.2 858.3 888.5 858.3 1005ZM860.1 1005 860.1 890.7 860.7 890.7 861.5 892.9 861.5 1005ZM883 1005 883 914.2 883.7 916 885.5 912.4 887.1 915.2 888.9 911.9 890.6 912.8 892.4 907.8 894 906.5 895.7 900.7 897.5 901 899.5 899.8 899.5 1005ZM903.7 1005 903.7 902.9 904.2 903.9 905.1 903.1 905.1 1005ZM916.5 1005 916.5 902.9 917.5 904.4 918.2 903.2 918.2 1005ZM958.3 1005 958.3 953.7 958.7 952.6 960.4 954.1 960.9 953.4 960.9 1005ZM963.6 1005 963.6 953.6 964.3 954.6 965.8 952.9 965.8 1005ZM968.3 1005 968.3 955.9 969.4 954.7 970.6 956.2 970.6 1005ZM973.2 1005 973.2 953.5 974.8 954.5 975.5 953.4 975.5 1005ZM977.9 1005 977.9 951.9 978.4 951.9 979.9 946.5 980.3 946.2 980.3 1005ZM981.3 1005 981.3 945.7 981.8 945.5 983.3 941.8 983.3 1005ZM987.7 1005 987.7 943.6 989.2 945.7 989.7 946.8 989.7 1005ZM998 1005 998 942.5 999.8 944.8 1001 942.7 1001 1005ZM1023.1 1005 1023.1 981.8 1023.5 982.8 1025.1 969.2 1026.9 964.2 1028.6 957.9 1028.6 1005ZM1053.9 1005 1053.9 1009 1054.6 1009 1056.4 1014.8 1056.5 1014.7 1056.5 1005ZM1059 1005 1059 1016.7 1059.4 1018 1060.8 1016.9 1061.3 1018.6 1061.3 1005ZM1064.1 1005 1064.1 1022.2 1064.3 1022.1 1065.8 1024 1066.3 1022.3 1066.3 1005ZM1069.3 1005 1069.3 1016 1069.3 1015.9 1070.7 1012.1 1071.4 1012.5 1071.4 1005ZM1074.4 1005 1074.4 1014.6 1074.5 1014.9 1074.5 1005ZM1078.7 1005 1078.7 1022.8 1079.5 1025.4 1080.4 1025.7 1080.4 1005ZM1088.3 1005 1088.3 1039.9 1088.3 1039.9 1089.8 1044.9 1089.9 1044.9 1089.9 1005ZM1094.7 1005 1094.7 1050.1 1094.8 1050 1096 1054.3 1096 1005ZM1102.9 1005 1102.9 1063.3 1103.6 1065.5 1105.5 1066.3 1106 1067.6 1106 1005ZM1109.2 1005 1109.2 1069.5 1110.1 1071.4 1111.2 1069.1 1111.2 1005ZM1118.6 1005 1118.6 1077.4 1120 1080.9 1120.7 1080.7 1120.7 1005ZM1153.4 1005 1153.4 1155.7 1154.3 1157.8 1156 1157.6 1157.8 1156.3 1159.3 1150.6 1161.2 1148.9 1163.4 1143.1 1164.8 1141.7 1166.5 1136.2 1168.6 1135.5 1169.9 1132.2 1169.9 1005ZM1169.9 1005 1169.9 1132.2 1170.5 1131.1 1172.3 1130.1 1172.6 1129.5 1172.6 1005ZM1175 1005 1175 1128.7 1175.8 1130 1177.2 1130.1 1177.2 1005ZM1179.6 1005 1179.6 1134.7 1181 1133.3 1181 1005ZM1185.2 1005 1185.2 1138.2 1186.4 1142.6 1187.1 1142.1 1187.1 1005ZM1188.4 1005 1188.4 1142 1189.6 1145.1 1190.3 1143.6 1190.3 1005ZM1191.6 1005 1191.6 1141.3 1192.9 1144.8 1192.9 1005ZM1195.7 1005 1195.7 1142.9 1196.3 1144.5 1197.7 1145.2 1197.7 1005ZM1199.8 1005 1199.8 1151.8 1200 1152.3 1201.6 1152.2 1201.6 1005ZM1213.9 1005 1213.9 1176.8 1215 1173.3 1216 1173.4 1216 1005ZM1218.1 1005 1218.1 1169.6 1218.6 1168 1220.2 1168.7 1220.3 1168.2 1220.3 1005ZM1222 1005 1222 1164.7 1223.3 1165.7 1223.7 1164.5 1223.7 1005ZM1227.4 1005 1227.4 1160.1 1228.3 1157.2 1230.1 1158.1 1230.1 1005ZM1232.4 1005 1232.4 1154.4 1233.7 1155.5 1234.7 1152.4 1234.7 1005ZM1237.3 1005 1237.3 1150.1 1238 1147.7 1239.5 1148.9 1239.5 1005ZM1242.2 1005 1242.2 1144.4 1242.8 1145.1 1244.5 1139.6 1244.5 1005ZM1246.7 1005 1246.7 1139.8 1246.7 1139.8 1247.1 1138.7 1247.1 1005ZM1247.1 1005 1247.1 1138.7 1248.6 1133.8 1250.5 1133.9 1252.5 1128.8 1254 1130 1255.6 1126.9 1256.3 1126.9 1256.3 1005ZM1256.3 1005 1256.3 1126.9 1257.3 1126.7 1258.8 1123.9 1258.8 1123.9 1258.8 1005ZM1261.3 1005 1261.3 1124.2 1262.4 1123.5 1263.6 1126.8 1263.6 1005ZM1266.3 1005 1266.3 1125.7 1267.5 1128.3 1268.5 1126.5 1268.5 1005ZM1269.1 1005 1269.1 1125.5 1269.2 1125.4 1270.6 1127.7 1271.6 1125.8 1271.6 1005ZM1274.1 1005 1274.1 1126.4 1274.5 1127.1 1276.3 1126.5 1276.3 1005ZM1278.9 1005 1278.9 1133.6 1280.2 1132.7 1281.7 1132.8 1281.7 1005ZM1283.8 1005 1283.8 1126.1 1284 1125.5 1285.5 1124.9 1287 1119.7 1289 1119.3 1290.7 1113.9 1292.4 1114 1294.2 1110.9 1295.7 1112.8 1297 1110.5 1298.5 1111.5 1298.5 1005ZM1300.3 1005 1300.3 1109.6 1301.9 1113.9 1301.9 1005ZM1304.1 1005 1304.1 1113 1305.2 1116.3 1305.9 1115 1305.9 1005ZM1307.8 1005 1307.8 1113.2 1308.4 1112.9 1309.5 1108.3 1309.5 1005ZM1309.5 1005 1309.5 1108.3 1310.1 1105.7 1311.8 1106.4 1313.7 1099.4 1315.1 1100.3 1316.8 1095 1318.4 1096 1320.4 1091.7 1322.1 1090.3 1324 1084.6 1325.4 1085.5 1327.1 1079.6 1329.1 1078.9 1330.7 1072 1332.2 1072.3 1333.4 1068 1333.4 1005ZM1350.2 1005 1350.2 1087.8 1350.2 1087.7 1351.6 1088.1 1352.9 1083.1 1352.9 1005ZM1355.8 1005 1355.8 1079.1 1356.9 1076.4 1357.2 1076.3 1357.2 1005ZM1357.2 1005 1357.2 1076.3 1358.8 1075.7 1360.8 1070.3 1362.3 1069.5 1363.9 1064 1365.6 1063 1367.4 1055.3 1369.2 1053.8 1371 1045.9 1372.7 1044.3 1374.2 1037.8 1375.6 1036 1375.6 1005ZM1375.6 1005 1375.6 1036 1376.2 1035.2 1377.8 1029.3 1377.9 1029.3 1377.9 1005ZM1380.8 1005 1380.8 1024.3 1381.4 1022.2 1382.8 1022.8 1382.9 1022.5 1382.9 1005ZM1385.5 1005 1385.5 1017.9 1386.1 1018.3 1387.9 1014.1 1388.4 1013.9 1388.4 1005ZM1391.3 1005 1391.3 1010.1 1391.5 1009.5 1393.1 1010.1 1393.9 1007.6 1393.9 1005ZM1396 1005 1396 1004.6 1396.9 1005 1398.8 1000.3 1398.8 1005Z" fill="#0072bd"/>
<path d="M222.9 1005 222.9 902.4 224.7 899.2 225 899 225 1005ZM228.1 1005 228.1 894.4 228.5 893.5 229.9 892.9 231.1 894.8 231.1 1005ZM231.1 1005 231.1 894.9 232 896.2 233.9 906.5 236 910.6 237.6 918.3 239.6 921.1 241.4 928.8 241.4 1005ZM248.8 1005 248.8 917.8 249.3 917.5 250.1 914.9 250.1 1005ZM275.2 1005 275.2 877.5 275.7 876 277.4 875.9 279.4 873.1 281.1 877.9 283.1 874.9 284.8 879.7 286.8 879.2 288.3 885.5 289.8 886.5 291.9 894.9 293.8 894.4 295.4 899.2 297 899.6 297.2 899.9 297.2 1005ZM299.8 1005 299.8 898.8 300.9 894.4 302.7 893.9 302.7 1005ZM305.5 1005 305.5 890.4 306.7 891.1 308.1 888.2 308.1 1005ZM310.5 1005 310.5 889.5 312.4 888.5 313.5 890.6 313.5 1005ZM316.5 1005 316.5 893.2 317.8 896.3 319.1 897.3 319.1 1005ZM321.9 1005 321.9 905.3 322.9 904.5 322.9 1005ZM322.9 1005 322.9 904.5 323.6 904 324.5 903.9 324.5 1005ZM326.8 1005 326.8 899.8 327.6 896.7 328.4 896.5 328.4 1005ZM330.6 1005 330.6 891.9 331.6 887.3 332.4 886.2 332.4 1005ZM334.2 1005 334.2 882.9 335.4 879.4 336.4 880.7 336.4 1005ZM338.3 1005 338.3 878.1 339 876.1 340.2 877.8 340.2 1005ZM342.3 1005 342.3 873.2 342.3 873 344 874.9 344 1005ZM346 1005 346 869.9 347.9 869.9 347.9 869.7 347.9 1005ZM395.1 1005 395.1 773.6 396.6 769 397.4 769.3 397.4 1005ZM399.8 1005 399.8 765.3 399.9 765.2 401.9 768.9 402 768.7 402 1005ZM404.5 1005 404.5 767.1 405.2 768.5 406.7 765.3 406.7 1005ZM407.4 1005 407.4 767.1 408.6 771.1 410.3 773.3 412.1 779.9 413.7 780.6 415.7 787.7 417.5 790.3 419.5 798.4 421.1 799 422.6 806.1 424.1 805.9 425.9 813.4 427.7 815.4 429.1 823.5 430.7 824.8 432.3 832.2 433.1 831.9 433.1 1005ZM435.8 1005 435.8 834 437.6 830.8 438.5 831.7 438.5 1005ZM440.9 1005 440.9 828.7 441.2 828.1 442.9 829.9 443.7 829.4 443.7 1005ZM445.8 1005 445.8 831.1 446.7 833.6 448.1 832.7 448.1 1005ZM451.9 1005 451.9 836.1 452.3 835.8 453.8 839.7 454.1 839.3 454.1 1005ZM456.4 1005 456.4 837.9 457.8 839.2 458.6 837.5 458.6 1005ZM460.9 1005 460.9 837.6 461.4 838.4 462.9 834.3 463.1 834.4 463.1 1005ZM465.2 1005 465.2 833.3 466.3 828.3 467.1 827.3 467.1 1005ZM469.2 1005 469.2 820.4 469.5 818.6 469.8 818.3 469.8 1005ZM477.2 1005 477.2 807.9 477.4 807.8 478.8 814.2 480.3 813.2 482.4 820.4 483.9 820.1 485.9 825.1 487.8 825.6 489.2 830.7 490.6 830.1 492.3 833.8 493.7 833.7 495.6 839.3 497.1 837.3 498.7 841.8 500.4 839.9 502.1 842.4 504 839.7 504.7 840.1 504.7 1005ZM519.4 1005 519.4 811.3 519.9 811 521.7 807.3 523.2 811.2 524.7 809.2 526.5 814 528.4 814.1 530.4 820 531.8 821.1 533.7 828.7 535.2 829.4 537 837.3 538.5 836.1 539.6 839.6 539.6 1005ZM539.6 1005 539.6 839.6 540.1 841.3 541.7 841.5 543.4 847 544.8 846.3 546.7 853.3 548.4 852.7 550.1 859.7 551.9 860 553.6 865.7 554.3 865.4 554.3 1005ZM557 1005 557 865.7 558.1 862.7 559.4 865 559.4 1005ZM561.9 1005 561.9 861.8 563.2 863.7 564.2 861.9 564.2 1005ZM566.8 1005 566.8 861.2 567.8 859.2 569.2 861.8 569.2 1005ZM572.2 1005 572.2 861 572.4 861.2 574.1 859.3 574.4 859.5 574.4 1005ZM577.2 1005 577.2 859.2 578.3 857.7 580 860.1 580 1005ZM580 1005 580 860.1 580.1 860.4 582.2 856.9 584.1 857.6 586 853.7 587.5 855.5 588.8 853.7 590.3 856.1 592.4 853.8 594 856.6 595.5 853.6 597.4 857.5 599 857.5 601.1 864 602.8 862.8 603.9 866.6 603.9 1005ZM613.1 1005 613.1 848.1 614.4 850.3 615.8 848.7 617.2 852.7 618.6 852.1 620.2 856.2 621.6 855.3 623.7 857.9 624.1 856.7 624.1 1005ZM631.4 1005 631.4 842.6 632.5 840.7 634 843.7 635.7 841.9 637.5 843.5 639.4 839.6 641.4 840.3 643.1 834.6 644.7 834.6 646.3 830.6 648.2 832.5 649.8 828.8 651.2 829.9 651.6 829.1 651.6 1005ZM688.3 1005 688.3 785.9 688.4 786.2 690 785.2 691 788.1 691 1005ZM693.5 1005 693.5 785.2 693.8 785 693.8 1005ZM701.2 1005 701.2 772.9 701.6 773.1 703.2 771.1 704.9 777.2 706.6 776.9 708.6 783.7 710.8 784.8 712.2 791.3 713.9 791.8 715.9 797 715.9 1005ZM715.9 1005 715.9 797 716 797.3 717.8 797.6 719.8 802.8 721.3 802.4 722.9 806.9 724.5 806.2 726 811.9 727.6 811.3 729.6 819.1 730.6 817.7 730.6 1005ZM730.6 1005 730.6 817.7 731.4 816.5 732.9 818.4 734.6 813.9 736.1 813.8 738 809.4 739.5 813.9 741.1 810.7 741.6 811.6 741.6 1005ZM741.6 1005 741.6 811.6 743.2 814.7 745.1 815.3 746.5 820.8 748.3 822 750 826.5 751.3 826 752.6 829.5 752.6 1005ZM752.6 1005 752.6 829.5 753 830.6 754.9 830.4 757 836.5 759.1 835.9 760.9 841.9 762.9 842.1 764.7 847.6 766.5 847.1 767.3 849.1 767.3 1005ZM776.5 1005 776.5 849.3 777.9 855.3 780 855.2 782 861.3 783.8 860.6 785.6 866 787.1 863.5 788.9 868.9 790.3 868.1 791.7 872.8 793.8 871.4 795.6 876.8 797.1 875.6 798.9 881.2 800.3 879.3 800.3 1005ZM800.3 1005 800.3 879.3 800.5 879.1 802 881.9 802.2 881.7 802.2 1005ZM803.9 1005 803.9 879.4 805.6 881.2 806.1 881.2 806.1 1005ZM808.1 1005 808.1 883.1 809 886 809.5 886.1 809.5 1005ZM809.5 1005 809.5 886.1 810.8 886.4 812.8 893.4 814.5 890.1 816.3 892.7 817.9 888.5 818.7 890.5 818.7 1005ZM818.7 1005 818.7 890.5 819.7 892.9 821.2 891.9 822.6 896.2 824.5 896.3 826 901 827.8 900 829.7 904.6 831.5 904.3 833.4 908.8 833.4 1005ZM842.6 1005 842.6 893.8 842.8 893.8 844.2 896.4 845 895.2 845 1005ZM847.8 1005 847.8 894.9 848 895 850 889.8 850.7 890.9 850.7 1005ZM853.4 1005 853.4 888.7 854 887.2 855.7 887.9 855.7 1005ZM858.3 1005 858.3 888.5 859 890.7 859.1 890.7 859.1 1005ZM859.1 1005 859.1 890.7 860.7 890.7 862.6 896.2 864.3 893.8 866 895.4 867.8 892.9 869.7 897.7 871.8 897.7 873.2 904 875.1 903.6 876.5 907.8 878.2 906.6 880.2 912.1 881.8 911.3 883 914.2 883 1005ZM899.5 1005 899.5 899.8 899.6 899.8 901.2 903.6 902.6 900.6 904.2 903.9 905.8 902.6 907.4 905.7 908.8 903.4 910.9 906.1 912.6 904 914.2 906.7 916.1 902.2 917.5 904.4 919.5 901.2 921.3 907.1 921.5 907 921.5 1005ZM921.5 1005 921.5 907 923.1 906.3 924.5 910.6 926.5 911.9 928.5 918.4 930.5 918.2 932.7 924.5 934.7 924.9 936.7 931 938.8 931.8 940.3 938.3 941.9 938.8 943.4 946.2 944.9 947.4 945.4 949.2 945.4 1005ZM945.4 1005 945.4 949.2 946.6 953.4 948.3 952.6 950.3 955.4 951.7 952.7 953.8 956.2 955.2 953.3 957.3 956.2 958.3 953.7 958.3 1005ZM960.9 1005 960.9 953.4 962.3 951.7 963.6 953.6 963.6 1005ZM965.8 1005 965.8 952.9 966 952.6 967.9 956.3 968.3 955.9 968.3 1005ZM970.6 1005 970.6 956.2 971 956.7 972.7 953.1 973.2 953.5 973.2 1005ZM975.5 1005 975.5 953.4 976.6 951.6 977.9 951.9 977.9 1005ZM980.3 1005 980.3 946.2 981.8 945.5 983.7 940.8 985.5 944.3 987.4 943.2 989.2 945.7 990.8 948.9 992.2 949.7 993.9 945.3 995 945.8 995 1005ZM995 1005 995 945.8 996 946.2 997.7 942.2 998 942.5 998 1005ZM1001 1005 1001 942.7 1001.9 941.2 1003.4 945.6 1004.8 942.9 1006.5 946.8 1006.5 1005ZM1006.5 1005 1006.5 946.8 1006.8 947.3 1008.4 947.1 1010 953.9 1012 955.4 1013.6 961.5 1015.4 963.3 1017.1 968.8 1018.6 970.7 1020 978.2 1021.6 978.9 1023.1 981.8 1023.1 1005ZM1028.6 1005 1028.6 957.9 1028.8 957.1 1030.3 956.1 1032 954.2 1033.5 959.1 1034.9 958.7 1036.7 964.3 1038.1 965.2 1039.9 973.3 1041.2 972.8 1042.7 980.5 1044.5 982.5 1046.1 991 1047.5 992.2 1049.4 999.1 1050.8 1001.2 1051.7 1005 1051.7 1005ZM1051.7 1005 1051.7 1005 1052.7 1008.9 1053.9 1009 1053.9 1005ZM1056.5 1005 1056.5 1014.7 1057.9 1013.2 1059 1016.7 1059 1005ZM1061.3 1005 1061.3 1018.6 1062.5 1023.1 1064.1 1022.2 1064.1 1005ZM1066.3 1005 1066.3 1022.3 1067.9 1016.9 1069.3 1016 1069.3 1005ZM1071.4 1005 1071.4 1012.5 1072.6 1013.3 1074 1013.4 1074.4 1014.6 1074.4 1005ZM1074.5 1005 1074.5 1014.9 1075.8 1019.6 1077.5 1019.4 1079.5 1025.4 1081.1 1026 1082.9 1032.9 1084.7 1032.2 1086.3 1039 1088.3 1039.9 1089.8 1044.9 1091.4 1045.2 1093 1051.9 1094.8 1050 1096.3 1055.4 1097.9 1054.2 1099.7 1059.1 1100.2 1059.1 1100.2 1005ZM1100.2 1005 1100.2 1059.1 1101.5 1059.3 1102.9 1063.3 1102.9 1005ZM1106 1005 1106 1067.6 1107.1 1070 1108.7 1068.3 1109.2 1069.5 1109.2 1005ZM1111.2 1005 1111.2 1069.1 1111.7 1068 1113.2 1071.4 1114.7 1070.5 1116.6 1077.5 1118.4 1076.9 1120 1080.9 1121.4 1080.5 1123 1085.3 1124.8 1086.1 1126.8 1093.7 1128.3 1093.4 1129.6 1098.9 1129.6 1005ZM1129.6 1005 1129.6 1098.9 1129.7 1099.7 1131.2 1099.7 1132.9 1107.5 1134.5 1108.6 1136.6 1116.7 1138.1 1117.8 1140.2 1125.5 1142 1126.9 1143.6 1135 1145.4 1136.5 1146.8 1143.2 1148.5 1143.9 1150.6 1151.9 1152.3 1152.9 1153.4 1155.7 1153.4 1005ZM1172.6 1005 1172.6 1129.5 1173.9 1126.6 1175 1128.7 1175 1005ZM1177.2 1005 1177.2 1130.1 1177.7 1130.1 1179.6 1134.8 1179.6 1134.7 1179.6 1005ZM1181 1005 1181 1133.3 1181.3 1132.9 1183.4 1138.5 1185 1137.5 1186.4 1142.6 1188.1 1141.3 1189.6 1145.1 1191.5 1141.1 1192.9 1144.8 1194.5 1140.2 1195.7 1142.9 1195.7 1005ZM1197.7 1005 1197.7 1145.2 1198.3 1145.5 1199.8 1151.8 1199.8 1005ZM1201.6 1005 1201.6 1152.2 1201.7 1152.2 1203 1157.5 1203 1005ZM1203 1005 1203 1157.5 1203.5 1159.6 1205 1159.1 1206.4 1165.3 1208.3 1166.4 1209.7 1173.5 1211.4 1175.7 1212.2 1177.7 1212.2 1005ZM1212.2 1005 1212.2 1177.7 1213 1179.8 1213.9 1176.8 1213.9 1005ZM1216 1005 1216 1173.4 1217 1173.4 1218.1 1169.6 1218.1 1005ZM1220.3 1005 1220.3 1168.2 1221.5 1164.3 1222 1164.7 1222 1005ZM1223.7 1005 1223.7 1164.5 1225 1160.8 1225 1005ZM1225 1005 1225 1160.8 1225.1 1160.7 1226.7 1162.3 1227.4 1160.1 1227.4 1005ZM1230.1 1005 1230.1 1158.1 1230.2 1158.1 1232.1 1154.2 1232.4 1154.4 1232.4 1005ZM1234.7 1005 1234.7 1152.4 1235.2 1151.1 1236.5 1152.5 1237.3 1150.1 1237.3 1005ZM1239.5 1005 1239.5 1148.9 1239.7 1149 1241.4 1143.3 1242.2 1144.4 1242.2 1005ZM1244.5 1005 1244.5 1139.6 1244.7 1139 1246.7 1139.8 1246.7 1005ZM1258.8 1005 1258.8 1123.9 1260.5 1124.8 1261.3 1124.2 1261.3 1005ZM1263.6 1005 1263.6 1126.8 1263.9 1127.8 1265.9 1124.8 1266.3 1125.7 1266.3 1005ZM1268.5 1005 1268.5 1126.5 1269.1 1125.5 1269.1 1005ZM1271.6 1005 1271.6 1125.8 1272.5 1124.1 1274.1 1126.4 1274.1 1005ZM1276.3 1005 1276.3 1126.5 1276.5 1126.4 1278.5 1133.8 1278.9 1133.6 1278.9 1005ZM1281.7 1005 1281.7 1132.8 1282.1 1132.8 1283.8 1126.1 1283.8 1005ZM1298.5 1005 1298.5 1111.5 1298.7 1111.7 1300.1 1109.2 1300.3 1109.6 1300.3 1005ZM1301.9 1005 1301.9 1113.9 1302.2 1114.6 1303.8 1112.1 1304.1 1113 1304.1 1005ZM1305.9 1005 1305.9 1115 1306.6 1113.8 1307.8 1113.2 1307.8 1005ZM1333.4 1005 1333.4 1068 1333.6 1067.2 1335.7 1074.7 1337.1 1074.3 1338.8 1081.1 1340.2 1082.1 1341.9 1087.8 1343.8 1088.8 1345.4 1092.1 1347 1091 1348.1 1092.8 1348.1 1005ZM1348.1 1005 1348.1 1092.8 1348.6 1093.7 1350.2 1087.8 1350.2 1005ZM1352.9 1005 1352.9 1083.1 1353.2 1082.2 1354.9 1081.6 1355.8 1079.1 1355.8 1005ZM1377.9 1005 1377.9 1029.3 1379.7 1028 1380.8 1024.3 1380.8 1005ZM1382.9 1005 1382.9 1022.5 1384.7 1017.5 1385.5 1017.9 1385.5 1005ZM1388.4 1005 1388.4 1013.9 1389.8 1013.2 1391.3 1010.1 1391.3 1005ZM1393.9 1005 1393.9 1007.6 1394.9 1004 1396 1004.6 1396 1005ZM1398.8 1005 1398.8 1000.3 1398.9 1000.1 1399.5 1000.2 1399.5 1005Z" fill="#ff0000"/>
<path d="M171.5 1005V997.5M177 1005V979M179.1 1005V976.7M170.5 1005V1002.1M255.4 1005V905M256.9 1005V902.1M258.4 1005V899.6M263.7 1005V894.5M268.8 1005V887.4M295.6 1005V899.3M275.2 1005V877.5M316.7 1005V893.7M319.3 1005V897.5M297.2 1005V899.9M323.1 1005V904.3M324.7 1005V903.9M327 1005V899M329.5 1005V896.3M338.5 1005V877.5M341.2 1005V876.3M342.5 1005V873.2M346.2 1005V869.9M350.2 1005V864.6M357.1 1005V855.9M364.1 1005V846.7M348.6 1005V867.5M388.5 1005V787.2M395.3 1005V773M397.6 1005V769.4M402.2 1005V768.2M404.7 1005V767.5M406.9 1005V765.5M433.1 1005V831.9M450.8 1005V837M454.3 1005V839.1M459.7 1005V836.1M469.8 1005V818.3M504 1005V839.7M513 1005V825.2M514.6 1005V820.2M553.2 1005V864.5M539.6 1005V839.6M570.7 1005V859.8M573.3 1005V860.2M574.6 1005V859.6M575.8 1005V860.6M577.4 1005V858.9M594.7 1005V855.1M600.6 1005V862.6M613.1 1005V848.1M630.1 1005V843.7M624.1 1005V856.7M631.4 1005V842.6M659.9 1005V825.3M675.1 1005V812.5M677.3 1005V806.3M693.7 1005V785.1M699.8 1005V772.4M693.8 1005V785M702.8 1005V771.5M709.7 1005V784.2M701.2 1005V772.9M715.9 1005V797M752.6 1005V829.5M768.2 1005V850.6M774.7 1005V850.3M778 1005V855.3M792.3 1005V872.5M798.7 1005V880.9M776.5 1005V849.3M804.1 1005V879.6M806.3 1005V881.2M800.3 1005V879.3M811.1 1005V887.5M818.7 1005V890.5M845.2 1005V894.9M850.9 1005V891.1M855.9 1005V888M863.3 1005V895.3M949.6 1005V954.5M955.8 1005V954.1M962.2 1005V951.7M966 1005V952.7M970.8 1005V956.4M971.9 1005V954.9M978.1 1005V951.9M992.7 1005V948.5M995 1005V945.8M1028.6 1005V957.9M1052.8 1005V1009M1064.3 1005V1022.2M1069.5 1005V1015.4M1070.3 1005V1013.1M1074.6 1005V1015.3M1082.1 1005V1029.7M1085.3 1005V1034.7M1088.8 1005V1041.5M1092.2 1005V1048.5M1109.4 1005V1070M1122.1 1005V1082.6M1124.7 1005V1086.1M1129.6 1005V1098.9M1158.3 1005V1154.4M1161.2 1005V1148.9M1172.8 1005V1129M1176.1 1005V1130M1177.4 1005V1130.1M1181 1005V1133.2M1200.7 1005V1152.3M1202.6 1005V1155.9M1195.7 1005V1142.9M1203 1005V1157.5M1214.1 1005V1176.1M1214.9 1005V1173.5M1222.9 1005V1165.3M1231.3 1005V1156M1232.6 1005V1154.6M1239.7 1005V1148.7M1243.4 1005V1143.2M1246.9 1005V1139.3M1256.5 1005V1126.8M1261.5 1005V1124.1M1263.8 1005V1127.4M1276.5 1005V1126.6M1277.6 1005V1130.6M1279.1 1005V1133.4M1283.8 1005V1126.1M1300.5 1005V1110.1M1301.1 1005V1111.7M1308.8 1005V1111.4M1311.1 1005V1106.1M1317 1005V1095.1M1320.1 1005V1092.3M1309.5 1005V1108.3M1348.3 1005V1093.1M1378.1 1005V1029.1M1385.7 1005V1018M1394.1 1005V1006.9M1375.6 1005V1036" stroke="#08080f" stroke-width="2.1" stroke-dasharray="3 2.6" stroke-dashoffset="1.4" fill="none"/>
<path d="M173.1 1005V991.2M192.5 1005V964.6M220.3 1005V900.7M228.3 1005V893.9M220.1 1005V901.2M242.2 1005V927.9M245.4 1005V923.9M249.1 1005V917.6M280.5 1005V876.2M289.3 1005V886.1M297.4 1005V900.1M302.9 1005V893.7M308.3 1005V887.7M313.7 1005V891M336.6 1005V881M340.4 1005V878.1M345 1005V872.3M347 1005V869.9M392.9 1005V774.9M400 1005V765.5M392.7 1005V775.7M436 1005V833.7M443.9 1005V829.2M448.3 1005V832.5M452.1 1005V835.9M455.3 1005V837.9M466.1 1005V829.1M469.4 1005V819.3M475.8 1005V808.2M478.8 1005V814M488.2 1005V827.2M494.8 1005V836.9M505.5 1005V840.6M509 1005V833.4M547.5 1005V853M557.2 1005V865.2M567 1005V860.8M569.4 1005V861.6M572.4 1005V861.2M581.5 1005V858.1M587.8 1005V855M591.2 1005V855.1M598 1005V857.5M580 1005V860.1M614.7 1005V850M644.8 1005V834.2M652.5 1005V827.4M669.5 1005V816.9M683.3 1005V790M706.5 1005V776.9M713.5 1005V791.7M739.8 1005V813.3M749.2 1005V824.4M770.5 1005V851M781 1005V858.4M784.6 1005V863.1M800.5 1005V879.2M802.4 1005V881.3M809 1005V885.9M809.5 1005V886.1M833.4 1005V908.8M842.6 1005V893.8M860.6 1005V890.7M873.4 1005V904M894.4 1005V905.3M897.6 1005V900.9M907.8 1005V905M914.1 1005V906.4M948 1005V952.7M951.3 1005V953.3M958.5 1005V953.1M961.1 1005V953.2M967 1005V954.6M974.4 1005V954.2M975.7 1005V953.1M976.7 1005V951.6M958.3 1005V953.7M985.6 1005V944.2M995.2 1005V945.9M1002.6 1005V943.2M1054.1 1005V1009M1056.7 1005V1014.5M1072.9 1005V1013.3M1078.9 1005V1023.6M1094.8 1005V1050M1097.7 1005V1054.4M1118.8 1005V1077.8M1111.2 1005V1069.1M1170.1 1005V1131.8M1169.9 1005V1132.2M1185.8 1005V1140.5M1191.9 1005V1142.2M1181 1005V1133.3M1195.9 1005V1143.4M1200 1005V1152.3M1213 1005V1179.5M1216.2 1005V1173.4M1220.5 1005V1167.5M1222.2 1005V1164.8M1223.9 1005V1163.9M1227.6 1005V1159.5M1234.9 1005V1151.9M1247.1 1005V1138.7M1259 1005V1124M1266.5 1005V1126.2M1271.8 1005V1125.4M1272.8 1005V1124.6M1274.3 1005V1126.7M1281.9 1005V1132.8M1286.3 1005V1122.1M1295.5 1005V1112.6M1304.3 1005V1113.6M1298.5 1005V1111.5M1327.6 1005V1079.4M1330.4 1005V1073.3M1350.4 1005V1087.8M1357.2 1005V1076.3M1375.8 1005V1035.7M1383.1 1005V1021.9M1391.5 1005V1009.6" stroke="#08080f" stroke-width="2.1" stroke-dasharray="3 2.6" stroke-dashoffset="0" fill="none"/>
<path d="M175 1005V985.8M180.7 1005V973.7M184.1 1005V970.5M186.2 1005V969.5M198.5 1005V950.6M212 1005V917.2M223.1 1005V902M231.3 1005V895.1M231.1 1005V894.9M250.6 1005V913.3M252.1 1005V910.5M262.2 1005V896.5M270.4 1005V886.7M272.2 1005V881.3M283.2 1005V875.2M300 1005V898M305.7 1005V890.5M323.7 1005V903.9M325.7 1005V903.8M328.6 1005V896.5M331.5 1005V887.8M333.3 1005V885.2M334.4 1005V882.3M337.4 1005V880.8M339.3 1005V876.4M343.1 1005V873.9M348.1 1005V869M322.9 1005V904.5M353.9 1005V859.2M360.4 1005V852.8M438.7 1005V831.9M441.1 1005V828.3M449.8 1005V835.3M453 1005V837.8M456.6 1005V838.1M458.8 1005V837.1M465.4 1005V832.4M468.1 1005V825.8M481.9 1005V818.8M484.8 1005V822.3M491.4 1005V831.9M498.5 1005V841.4M501.4 1005V841.4M507.3 1005V836M504.7 1005V840.1M544.2 1005V846.6M554.5 1005V865.3M562.1 1005V862.1M564.4 1005V861.5M565.5 1005V862.1M554.3 1005V865.4M584.6 1005V856.5M609.9 1005V853.4M603.9 1005V866.6M620.6 1005V856M632.9 1005V841.6M636.2 1005V842.3M641.7 1005V839.5M648.3 1005V832.3M667.5 1005V821M671.2 1005V818.4M731.5 1005V816.7M733.7 1005V816.3M746 1005V818.6M741.6 1005V811.6M801.3 1005V880.5M803 1005V880.1M808.3 1005V883.7M814.7 1005V890.4M817.3 1005V890.1M839.4 1005V891.1M842.8 1005V893.8M866.6 1005V894.6M869.9 1005V897.7M876.2 1005V906.8M882.5 1005V913M859.1 1005V890.7M885.4 1005V912.6M886.9 1005V914.8M890.9 1005V912M892.5 1005V907.7M901.1 1005V903.4M904.6 1005V903.5M919.4 1005V901.2M899.5 1005V899.8M953.5 1005V955.7M945.4 1005V949.2M959.6 1005V953.4M964.7 1005V954.1M969.4 1005V954.8M973.4 1005V953.6M981.9 1005V945.1M1001 1005V942.7M1006.5 1005V946.8M1023.1 1005V981.8M1057.7 1005V1013.4M1062.7 1005V1023M1066.5 1005V1021.6M1076.1 1005V1019.5M1106.2 1005V1068.1M1112.8 1005V1070.5M1115.6 1005V1073.7M1182.5 1005V1136.1M1189.3 1005V1144.5M1198.8 1005V1147.4M1217 1005V1173.1M1218.3 1005V1168.9M1221.2 1005V1165.4M1225.2 1005V1160.8M1237.5 1005V1149.4M1240.9 1005V1145M1245.6 1005V1139.4M1225 1005V1160.8M1260.1 1005V1124.6M1267.4 1005V1128.2M1268.7 1005V1126.2M1256.3 1005V1126.9M1284.6 1005V1125.2M1293.7 1005V1111.8M1298.7 1005V1111.6M1302.1 1005V1114.4M1303 1005V1113.3M1306.1 1005V1114.7M1306.9 1005V1113.7M1314.1 1005V1099.6M1323.8 1005V1085.1M1333.4 1005V1068M1353.1 1005V1082.3M1348.1 1005V1092.8M1363.2 1005V1066.3M1388.6 1005V1013.8M1389.8 1005V1013.1" stroke="#08080f" stroke-width="2.1" stroke-dasharray="3 2.6" stroke-dashoffset="4.2" fill="none"/>
<path d="M182.5 1005V971.9M188.3 1005V971.4M189.8 1005V968.1M192.1 1005V966.5M225.2 1005V898.9M243.9 1005V925.3M265.6 1005V892M241.4 1005V928.8M276.8 1005V876M286.7 1005V879.2M292.4 1005V894.7M310.7 1005V889.4M322.1 1005V905.1M327.6 1005V896.8M330.8 1005V891M332.6 1005V886M335.3 1005V879.7M344.2 1005V874.4M348.8 1005V867M367.9 1005V836.7M376.7 1005V813.5M370.7 1005V829.6M407.4 1005V767.1M433.3 1005V831.9M446 1005V831.7M461.1 1005V837.9M463.3 1005V834.6M464.1 1005V835.1M467.3 1005V827M449.6 1005V834.8M477.2 1005V807.9M516.4 1005V819M519.4 1005V811.3M541.2 1005V841.4M550.5 1005V859.8M558.2 1005V862.9M559.6 1005V865M560.6 1005V862.9M563 1005V863.5M617.6 1005V852.5M638.7 1005V841M651.2 1005V829.8M654.3 1005V828.2M656.1 1005V825.2M661.5 1005V822.8M663.4 1005V824.4M676.7 1005V807.2M651.6 1005V829.1M688.5 1005V786.1M691.2 1005V788.7M688.3 1005V785.9M735.7 1005V813.8M737.7 1005V810.1M730.6 1005V817.7M743.2 1005V814.8M772.7 1005V848.6M767.3 1005V849.1M787.2 1005V863.6M789.7 1005V868.4M795.8 1005V876.7M807.1 1005V881.2M848 1005V894.9M853.6 1005V888.2M858.5 1005V889.1M879 1005V908.8M883.8 1005V915.7M883 1005V914.2M911.3 1005V905.7M916.7 1005V903.2M921.5 1005V907M946.4 1005V952.5M963.8 1005V953.9M968.5 1005V955.7M989.4 1005V946.1M980.3 1005V946.2M998.2 1005V942.7M1051.9 1005V1005.8M1055.2 1005V1011M1059.2 1005V1017.3M1060.1 1005V1017.4M1061.5 1005V1019.4M1071.6 1005V1012.7M1075.5 1005V1018.7M1051.7 1005V1005M1074.5 1005V1014.9M1100.4 1005V1059.2M1103.1 1005V1063.9M1100.2 1005V1059.1M1128.5 1005V1094.4M1155 1005V1157.7M1164.7 1005V1141.8M1167.6 1005V1135.8M1153.4 1005V1155.7M1175.2 1005V1129M1179.8 1005V1134.5M1196.7 1005V1144.7M1197.9 1005V1145.3M1201.8 1005V1152.6M1212.4 1005V1178.2M1224.7 1005V1161.7M1212.2 1005V1177.7M1230.3 1005V1158M1242.4 1005V1144.6M1244.7 1005V1139.1M1253.1 1005V1129.2M1262.4 1005V1123.5M1269.3 1005V1125.6M1269.1 1005V1125.5M1288 1005V1119.5M1292 1005V1114M1299.4 1005V1110.5M1305 1005V1115.7M1308 1005V1113.1M1356 1005V1078.5M1379.3 1005V1028.3M1381 1005V1023.6M1394.9 1005V1004.1M1396.2 1005V1004.7M1399 1005V1000.1" stroke="#08080f" stroke-width="2.1" stroke-dasharray="3 2.6" stroke-dashoffset="2.8" fill="none"/>
<polyline points="170.5,1002.1 172.4,992.7 174.5,988.2 176.6,978.8 178.3,979.7 180.2,973.1 181.6,974.6 183.2,969.9 184.9,971.1 186.5,969.2 188.5,971.7 190,967.6 191.5,969 192.9,962.9 195,959.4 196.5,952.7 198.5,950.7 200.6,943 202.5,940.6 204.6,932.9 206.7,931.8 208.3,924.8 209.7,923.4 211.2,918.4 213,915.9 214.9,910 216.5,909.7 218.2,902.6 219.9,901.7 221.3,898 222.7,902.7 224.7,899.2 226.7,898.1 228.5,893.5 229.9,892.9 232,896.2 233.9,906.5 236,910.6 237.6,918.3 239.6,921.1 241.5,929.2 243.5,925.8 245.6,923.7 247.2,918.8 249.3,917.5 251.3,910.8 252.9,910.1 254.4,905.2 255.9,904.9 258,899.1 259.4,901.1 261.2,895.6 262.7,897 264.7,892 266.4,892 268.5,887.4 270.2,887.5 271.7,881.3 273.8,881.4 275.7,876 277.4,875.9 279.4,873.1 281.1,877.9 283.1,874.9 284.8,879.7 286.8,879.2 288.3,885.5 289.8,886.5 291.9,894.9 293.8,894.4 295.4,899.2 297,899.6 299,901.9 300.9,894.4 302.8,893.8 304.8,889.9 306.7,891.1 308.4,887.5 310.3,889.6 312.4,888.5 314.2,892 316,891.8 317.8,896.3 319.8,898 321.8,905.3 323.6,904 325.6,903.9 327.6,896.7 329.5,896.3 331.6,887.3 333.4,885.1 335.4,879.4 337.1,881.6 339,876.1 340.5,878.3 342.3,873 344,874.9 346,869.8 347.9,869.9 349.3,865.2 351.2,863.9 353.1,858.4 354.5,859.7 356,855.8 357.5,855.9 359,852.1 360.4,852.9 362,848 363.8,847.6 365.9,840.7 367.5,838 369.2,831.8 371.2,828.7 372.6,822.3 374,821.7 375.7,814.4 377.7,812.6 379.4,804.3 381.3,802.5 382.7,796.4 384.5,796.3 386.6,787.8 388.3,788 389.6,782 391.4,780.8 392.9,774.9 394.9,774.2 396.6,769 398.2,769.6 399.9,765.2 401.9,768.9 403.5,765.1 405.2,768.5 406.8,765.1 408.6,771.1 410.3,773.3 412.1,779.9 413.7,780.6 415.7,787.7 417.5,790.3 419.5,798.4 421.1,799 422.6,806.1 424.1,805.9 425.9,813.4 427.7,815.4 429.1,823.5 430.7,824.8 432.3,832.2 434.1,831.6 435.7,834.2 437.6,830.8 439.1,832.3 441.2,828.1 442.9,829.9 444.9,828.5 446.7,833.6 448.5,832.4 450.6,837.2 452.3,835.8 453.8,839.7 455.8,837.2 457.8,839.2 459.5,835.7 461.4,838.4 462.9,834.3 464.7,835.5 466.3,828.3 468.1,825.9 469.5,818.6 471.5,816.8 473.4,809.7 475.3,808.3 477.4,807.8 478.8,814.2 480.3,813.2 482.4,820.4 483.9,820.1 485.9,825.1 487.8,825.6 489.2,830.7 490.6,830.1 492.3,833.8 493.7,833.7 495.6,839.3 497.1,837.3 498.7,841.8 500.4,839.9 502.1,842.4 504,839.7 505.8,840.8 507.9,834.4 509.7,832.7 511.5,826.7 513.4,824.9 514.9,819.3 516.5,819 518,812.4 519.9,811 521.7,807.3 523.2,811.2 524.7,809.2 526.5,814 528.4,814.1 530.4,820 531.8,821.1 533.7,828.7 535.2,829.4 537,837.3 538.5,836.1 540.1,841.3 541.7,841.5 543.4,847 544.8,846.3 546.7,853.3 548.4,852.7 550.1,859.7 551.9,860 553.6,865.7 555,865.1 556.4,867.6 558.1,862.7 559.5,865.2 561.5,861.2 563.2,863.7 564.6,861.1 566.1,862.8 567.8,859.2 569.2,861.8 570.8,859.7 572.4,861.2 574.1,859.3 576.2,860.9 578.3,857.7 580.1,860.4 582.2,856.9 584.1,857.6 586,853.7 587.5,855.5 588.8,853.7 590.3,856.1 592.4,853.8 594,856.6 595.5,853.6 597.4,857.5 599,857.5 601.1,864 602.8,862.8 604.1,867.5 606.1,863.7 607.5,862.5 609.6,853.6 611.2,852.7 612.6,847.4 614.4,850.3 615.8,848.7 617.2,852.7 618.6,852.1 620.2,856.2 621.6,855.3 623.7,857.9 625.5,851.9 627.3,848.7 628.9,842.6 630.6,844.1 632.5,840.7 634,843.7 635.7,841.9 637.5,843.5 639.4,839.6 641.4,840.3 643.1,834.6 644.7,834.6 646.3,830.6 648.2,832.5 649.8,828.8 651.2,829.9 652.7,826.9 654.5,828.3 655.9,824.9 657.3,826.8 658.9,823.9 660.3,825.7 661.9,821.8 663.7,824.9 665.5,819.7 667.3,821.4 669.3,816.8 671.4,818.7 673.3,814.2 675.3,812.4 676.8,807 678.2,805.2 680.1,798.4 681.5,797.6 683.3,790 684.7,787.6 686.3,780.4 688.4,786.2 690,785.2 691.6,789.8 693,785.5 695,784.3 696.4,777.6 697.9,777.9 699.6,772.3 701.6,773.1 703.2,771.1 704.9,777.2 706.6,776.9 708.6,783.7 710.8,784.8 712.2,791.3 713.9,791.8 716,797.3 717.8,797.6 719.8,802.8 721.3,802.4 722.9,806.9 724.5,806.2 726,811.9 727.6,811.3 729.6,819.1 731.4,816.5 732.9,818.4 734.6,813.9 736.1,813.8 738,809.4 739.5,813.9 741.1,810.7 743.2,814.7 745.1,815.3 746.5,820.8 748.3,822 750,826.5 751.3,826 753,830.6 754.9,830.4 757,836.5 759.1,835.9 760.9,841.9 762.9,842.1 764.7,847.6 766.5,847.1 767.9,850.7 769.5,849.9 771.5,852.2 773.1,847.4 774.7,850.3 776.1,847.6 777.9,855.3 780,855.2 782,861.3 783.8,860.6 785.6,866 787.1,863.5 788.9,868.9 790.3,868.1 791.7,872.8 793.8,871.4 795.6,876.8 797.1,875.6 798.9,881.2 800.5,879.1 802,881.9 803.6,879.1 805.6,881.2 807.5,881.2 809,886 810.8,886.4 812.8,893.4 814.5,890.1 816.3,892.7 817.9,888.5 819.7,892.9 821.2,891.9 822.6,896.2 824.5,896.3 826,901 827.8,900 829.7,904.6 831.5,904.3 833.6,909.2 835.6,900.5 837.6,896.8 839.5,890.6 841.3,894.3 842.8,893.8 844.2,896.4 846,893.7 848,895 850,889.8 851.9,892.5 854,887.2 856.1,888.1 857.5,886.2 859,890.7 860.7,890.7 862.6,896.2 864.3,893.8 866,895.4 867.8,892.9 869.7,897.7 871.8,897.7 873.2,904 875.1,903.6 876.5,907.8 878.2,906.6 880.2,912.1 881.8,911.3 883.7,916 885.5,912.4 887.1,915.2 888.9,911.9 890.6,912.8 892.4,907.8 894,906.5 895.7,900.7 897.5,901 899.6,899.8 901.2,903.6 902.6,900.6 904.2,903.9 905.8,902.6 907.4,905.7 908.8,903.4 910.9,906.1 912.6,904 914.2,906.7 916.1,902.2 917.5,904.4 919.5,901.2 921.3,907.1 923.1,906.3 924.5,910.6 926.5,911.9 928.5,918.4 930.5,918.2 932.7,924.5 934.7,924.9 936.7,931 938.8,931.8 940.3,938.3 941.9,938.8 943.4,946.2 944.9,947.4 946.6,953.4 948.3,952.6 950.3,955.4 951.7,952.7 953.8,956.2 955.2,953.3 957.3,956.2 958.7,952.6 960.4,954.1 962.3,951.7 964.3,954.6 966,952.6 967.9,956.3 969.4,954.7 971,956.7 972.7,953.1 974.8,954.5 976.6,951.6 978.4,951.9 979.9,946.5 981.8,945.5 983.7,940.8 985.5,944.3 987.4,943.2 989.2,945.7 990.8,948.9 992.2,949.7 993.9,945.3 996,946.2 997.7,942.2 999.8,944.8 1001.9,941.2 1003.4,945.6 1004.8,942.9 1006.8,947.3 1008.4,947.1 1010,953.9 1012,955.4 1013.6,961.5 1015.4,963.3 1017.1,968.8 1018.6,970.7 1020,978.2 1021.6,978.9 1023.5,982.8 1025.1,969.2 1026.9,964.2 1028.8,957.1 1030.3,956.1 1032,954.2 1033.5,959.1 1034.9,958.7 1036.7,964.3 1038.1,965.2 1039.9,973.3 1041.2,972.8 1042.7,980.5 1044.5,982.5 1046.1,991 1047.5,992.2 1049.4,999.1 1050.8,1001.2 1052.7,1008.9 1054.6,1009 1056.4,1014.8 1057.9,1013.2 1059.4,1018 1060.8,1016.9 1062.5,1023.1 1064.3,1022.1 1065.8,1024 1067.9,1016.9 1069.3,1015.9 1070.7,1012.1 1072.6,1013.3 1074,1013.4 1075.8,1019.6 1077.5,1019.4 1079.5,1025.4 1081.1,1026 1082.9,1032.9 1084.7,1032.2 1086.3,1039 1088.3,1039.9 1089.8,1044.9 1091.4,1045.2 1093,1051.9 1094.8,1050 1096.3,1055.4 1097.9,1054.2 1099.7,1059.1 1101.5,1059.3 1103.6,1065.5 1105.5,1066.3 1107.1,1070 1108.7,1068.3 1110.1,1071.4 1111.7,1068 1113.2,1071.4 1114.7,1070.5 1116.6,1077.5 1118.4,1076.9 1120,1080.9 1121.4,1080.5 1123,1085.3 1124.8,1086.1 1126.8,1093.7 1128.3,1093.4 1129.7,1099.7 1131.2,1099.7 1132.9,1107.5 1134.5,1108.6 1136.6,1116.7 1138.1,1117.8 1140.2,1125.5 1142,1126.9 1143.6,1135 1145.4,1136.5 1146.8,1143.2 1148.5,1143.9 1150.6,1151.9 1152.3,1152.9 1154.3,1157.8 1156,1157.6 1157.8,1156.3 1159.3,1150.6 1161.2,1148.9 1163.4,1143.1 1164.8,1141.7 1166.5,1136.2 1168.6,1135.5 1170.5,1131.1 1172.3,1130.1 1173.9,1126.6 1175.8,1130 1177.7,1130.1 1179.6,1134.8 1181.3,1132.9 1183.4,1138.5 1185,1137.5 1186.4,1142.6 1188.1,1141.3 1189.6,1145.1 1191.5,1141.1 1192.9,1144.8 1194.5,1140.2 1196.3,1144.5 1198.3,1145.5 1200,1152.3 1201.7,1152.2 1203.5,1159.6 1205,1159.1 1206.4,1165.3 1208.3,1166.4 1209.7,1173.5 1211.4,1175.7 1213,1179.8 1215,1173.3 1217,1173.4 1218.6,1168 1220.2,1168.7 1221.5,1164.3 1223.3,1165.7 1225.1,1160.7 1226.7,1162.3 1228.3,1157.2 1230.2,1158.1 1232.1,1154.2 1233.7,1155.5 1235.2,1151.1 1236.5,1152.5 1238,1147.7 1239.7,1149 1241.4,1143.3 1242.8,1145.1 1244.7,1139 1246.7,1139.8 1248.6,1133.8 1250.5,1133.9 1252.5,1128.8 1254,1130 1255.6,1126.9 1257.3,1126.7 1258.8,1123.9 1260.5,1124.8 1262.4,1123.5 1263.9,1127.8 1265.9,1124.8 1267.5,1128.3 1269.2,1125.4 1270.6,1127.7 1272.5,1124.1 1274.5,1127.1 1276.5,1126.4 1278.5,1133.8 1280.2,1132.7 1282.1,1132.8 1284,1125.5 1285.5,1124.9 1287,1119.7 1289,1119.3 1290.7,1113.9 1292.4,1114 1294.2,1110.9 1295.7,1112.8 1297,1110.5 1298.7,1111.7 1300.1,1109.2 1302.2,1114.6 1303.8,1112.1 1305.2,1116.3 1306.6,1113.8 1308.4,1112.9 1310.1,1105.7 1311.8,1106.4 1313.7,1099.4 1315.1,1100.3 1316.8,1095 1318.4,1096 1320.4,1091.7 1322.1,1090.3 1324,1084.6 1325.4,1085.5 1327.1,1079.6 1329.1,1078.9 1330.7,1072 1332.2,1072.3 1333.6,1067.2 1335.7,1074.7 1337.1,1074.3 1338.8,1081.1 1340.2,1082.1 1341.9,1087.8 1343.8,1088.8 1345.4,1092.1 1347,1091 1348.6,1093.7 1350.2,1087.7 1351.6,1088.1 1353.2,1082.2 1354.9,1081.6 1356.9,1076.4 1358.8,1075.7 1360.8,1070.3 1362.3,1069.5 1363.9,1064 1365.6,1063 1367.4,1055.3 1369.2,1053.8 1371,1045.9 1372.7,1044.3 1374.2,1037.8 1376.2,1035.2 1377.8,1029.3 1379.7,1028 1381.4,1022.2 1382.8,1022.8 1384.7,1017.5 1386.1,1018.3 1387.9,1014.1 1389.8,1013.2 1391.5,1009.5 1393.1,1010.1 1394.9,1004 1396.9,1005 1398.9,1000.1 1399.5,1000.2" fill="none" stroke="#08080f" stroke-width="2.4" stroke-dasharray="3 2"/>
<path d="M170.5 1005H1399.5" stroke="#1a1a22" stroke-width="2"/>
</g></g>
<rect x="170" y="742.5" width="1229.6" height="471" fill="none" stroke="#1a1a1a" stroke-width="2"/>
<path d="M272.5 1213.5v-10M272.5 742.5v10M367.5 1213.5v-10M367.5 742.5v10M472.5 1213.5v-10M472.5 742.5v10M572.5 1213.5v-10M572.5 742.5v10M677.5 1213.5v-10M677.5 742.5v10M780 1213.5v-10M780 742.5v10M884.5 1213.5v-10M884.5 742.5v10M990 1213.5v-10M990 742.5v10M1090 1213.5v-10M1090 742.5v10M1195 1213.5v-10M1195 742.5v10M1297 1213.5v-10M1297 742.5v10M170 781h10M1399.6 781h-10M170 893h10M1399.6 893h-10M170 1005h10M1399.6 1005h-10M170 1117h10M1399.6 1117h-10" stroke="#1a1a1a" stroke-width="1.7" fill="none"/>
<g font-family='"Liberation Sans", Arial, Helvetica, sans-serif' font-size="30.5" fill="#404040">
<text x="272.3" y="1260.5" text-anchor="middle">Jan</text>
<text x="366.5" y="1260.5" text-anchor="middle">Feb</text>
<text x="472" y="1260.5" text-anchor="middle">Mar</text>
<text x="573" y="1260.5" text-anchor="middle">Apr</text>
<text x="676.5" y="1260.5" text-anchor="middle">May</text>
<text x="777.5" y="1260.5" text-anchor="middle">Jun</text>
<text x="881.7" y="1260.5" text-anchor="middle">Jul</text>
<text x="986.6" y="1260.5" text-anchor="middle">Aug</text>
<text x="1090.8" y="1260.5" text-anchor="middle">Sep</text>
<text x="1196.2" y="1260.5" text-anchor="middle">Oct</text>
<text x="1296.3" y="1260.5" text-anchor="middle">Nov</text>
<text x="1400.7" y="1260.5" text-anchor="middle">Dec</text>
<text x="155" y="793.6" text-anchor="end" textLength="32.2" lengthAdjust="spacingAndGlyphs">10</text>
<text x="155" y="905.6" text-anchor="end" textLength="16.1" lengthAdjust="spacingAndGlyphs">5</text>
<text x="155" y="1017.6" text-anchor="end" textLength="16.1" lengthAdjust="spacingAndGlyphs">0</text>
<text x="155" y="1129.6" text-anchor="end" textLength="25.8" lengthAdjust="spacingAndGlyphs">-5</text>
<text x="171" y="736.5" font-size="36">×</text><text x="196.5" y="734" textLength="32" lengthAdjust="spacingAndGlyphs">10</text><text x="228.8" y="719.5" font-size="24.5">4</text>
</g>
<text transform="translate(103.3 975.5) scale(0.93 1) rotate(-90)" text-anchor="middle" font-family='"Liberation Sans", Arial, Helvetica, sans-serif' font-size="37.5" fill="#404040" textLength="206" lengthAdjust="spacingAndGlyphs">Energy(kWh)</text>
<text x="808.8" y="713.8" text-anchor="middle" font-family='"Liberation Sans", Arial, Helvetica, sans-serif' font-size="46.5" font-weight="bold" fill="#000" textLength="580" lengthAdjust="spacingAndGlyphs">Energy Balance per hour</text>
<rect x="1038.5" y="769" width="336.5" height="91.5" fill="#fff" stroke="#1a1a1a" stroke-width="1.8"/>
<rect x="1047.5" y="777.5" width="92.5" height="31.5" fill="#0072bd" stroke="#101018" stroke-width="1.6" stroke-dasharray="2.2 2.2"/>
<rect x="1047.5" y="819.5" width="92.5" height="31" fill="#ff0000" stroke="#101018" stroke-width="1.6" stroke-dasharray="2.2 2.2"/>
<g font-family='"Liberation Sans", Arial, Helvetica, sans-serif' font-size="31" fill="#262626">
<text x="1148.5" y="805.8" textLength="208.5" lengthAdjust="spacingAndGlyphs">Energy Surplus</text>
<text x="1148.5" y="848" textLength="216.5" lengthAdjust="spacingAndGlyphs">Energy demand</text>
</g>
<rect x="389.5" y="188.5" width="60" height="383" fill="none" stroke="#fb0c0c" stroke-width="6.4" stroke-dasharray="6.6 7.7"/>
<rect x="396" y="719.5" width="51" height="333" fill="none" stroke="#fb0c0c" stroke-width="6.4" stroke-dasharray="6.6 7.7"/>
<path d="M419.2 584L436.5 618H402L419.2 584ZM419.2 712.5L436.5 679H402L419.2 712.5Z" fill="#fb0c0c"/>
<path d="M419.2 618V679" stroke="#fb0c0c" stroke-width="6.6" stroke-dasharray="6.8 7.4" fill="none"/>
<text x="448" y="664.8" font-family='"DejaVu Sans", "Liberation Sans", sans-serif' font-weight="bold" font-size="38.5" fill="#fb0c0c" text-anchor="middle" textLength="23" lengthAdjust="spacingAndGlyphs">1</text>
<path d="M702.3 1012.5V1206M1214.8 1014.8V1209" stroke="#111" stroke-width="6.8" stroke-dasharray="6.6 7.8" fill="none"/>
<path d="M746 1182.7H1172" stroke="#000" stroke-width="7" fill="none"/>
<path d="M713 1182.7L746.5 1165V1200.5ZM1205 1182.7L1171.5 1165V1200.5Z" fill="#000"/>
<g font-family='"Liberation Sans", Arial, Helvetica, sans-serif' font-weight="bold" font-size="37" fill="#111">
<text x="735.5" y="1068.2" textLength="117" lengthAdjust="spacingAndGlyphs">Sect. 3</text>
<text x="735.5" y="1123.3" textLength="265" lengthAdjust="spacingAndGlyphs">Discharge Rate</text>
</g>
</svg>
</body></html>
